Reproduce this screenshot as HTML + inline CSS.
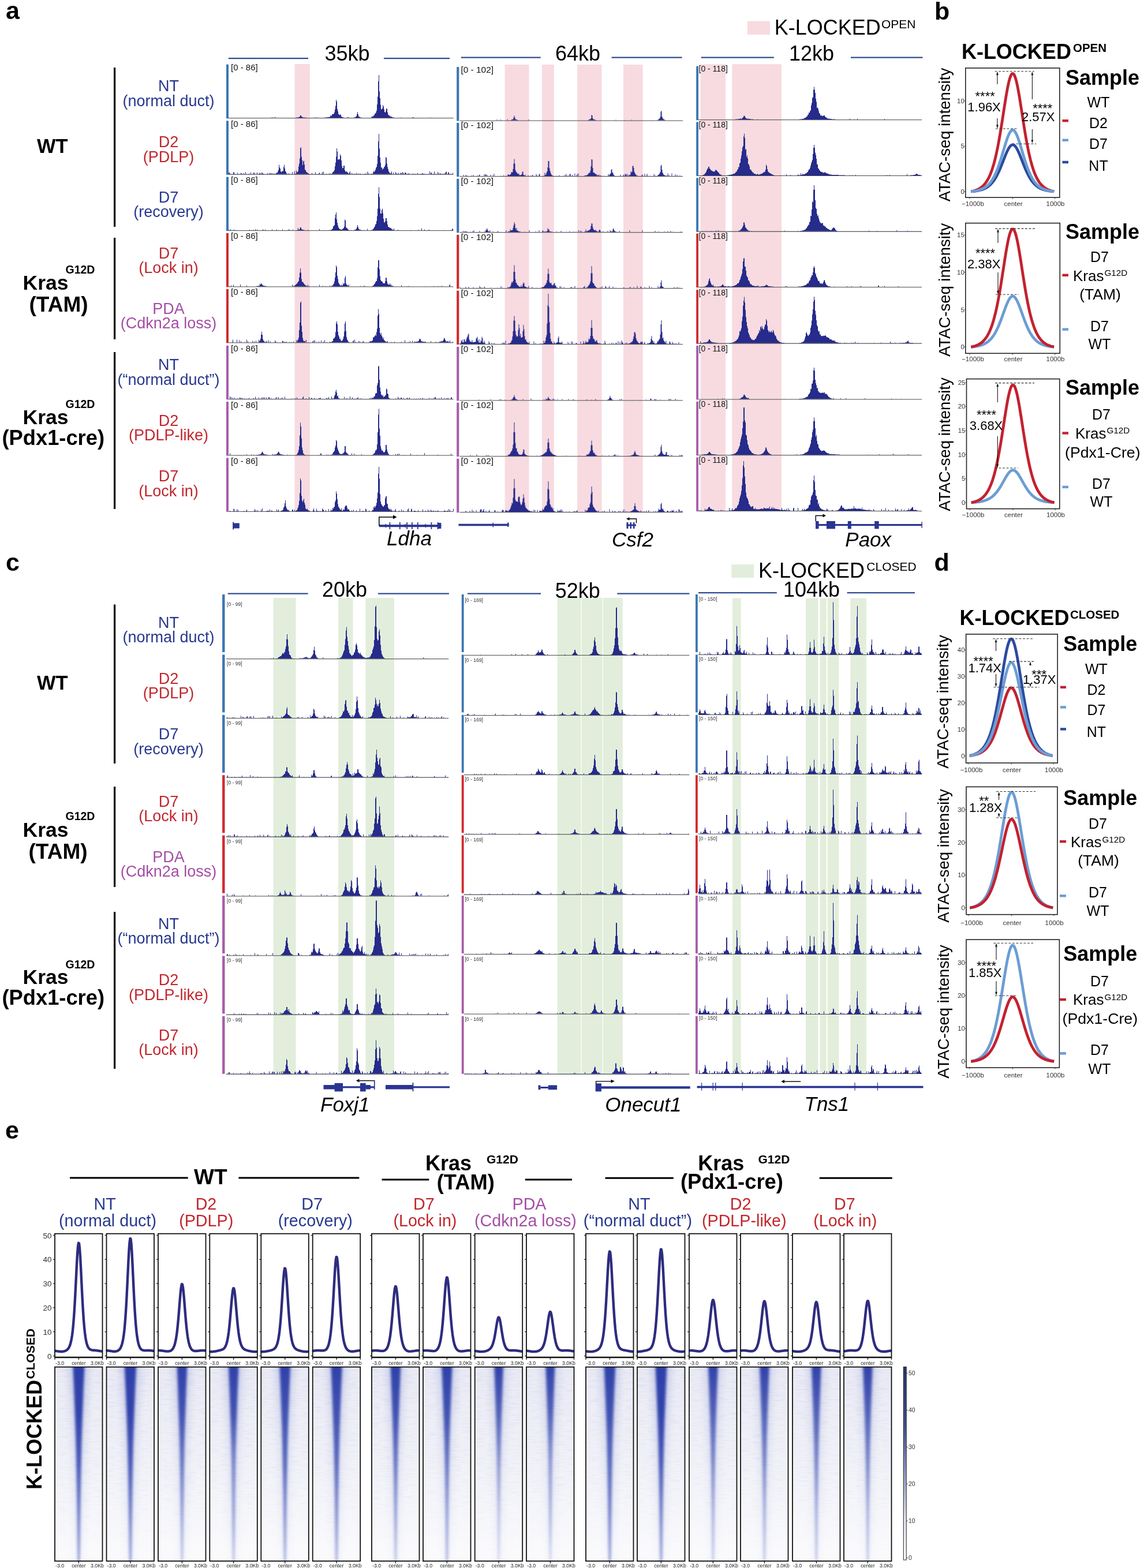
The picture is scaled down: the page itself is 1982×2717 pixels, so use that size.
<!DOCTYPE html>
<html><head><meta charset="utf-8"><title>K-LOCKED figure</title>
<style>html,body{margin:0;padding:0;background:#fff;}svg{display:block;}text{font-family:"Liberation Sans",Arial,Helvetica,sans-serif;}</style></head><body>
<svg width="1982" height="2717" viewBox="0 0 1982 2717" font-family="'Liberation Sans', Arial, Helvetica, sans-serif">
<defs><filter id="bl6" x="-50%" y="-5%" width="200%" height="110%"><feGaussianBlur stdDeviation="6"/></filter><filter id="bl2" x="-50%" y="-5%" width="200%" height="110%"><feGaussianBlur stdDeviation="2.2"/></filter><linearGradient id="coreg" x1="0" y1="0" x2="0" y2="1"><stop offset="0" stop-color="#2e40a8" stop-opacity="1"/><stop offset="0.25" stop-color="#3244ab" stop-opacity="0.93"/><stop offset="0.5" stop-color="#3a4cb2" stop-opacity="0.75"/><stop offset="0.75" stop-color="#4456b8" stop-opacity="0.5"/><stop offset="1" stop-color="#5566c0" stop-opacity="0.3"/></linearGradient><linearGradient id="haloG" x1="0" y1="0" x2="0" y2="1"><stop offset="0" stop-color="#6a78cc" stop-opacity="0.35"/><stop offset="0.5" stop-color="#6a78cc" stop-opacity="0.15"/><stop offset="1" stop-color="#6a78cc" stop-opacity="0.04"/></linearGradient><linearGradient id="hazeG" x1="0" y1="0" x2="0" y2="1"><stop offset="0" stop-color="#e9eaf4" stop-opacity="1"/><stop offset="0.5" stop-color="#f1f2f8" stop-opacity="1"/><stop offset="1" stop-color="#fbfbfd" stop-opacity="1"/></linearGradient><filter id="noiseF" x="0" y="0" width="100%" height="100%" filterUnits="objectBoundingBox"><feTurbulence type="fractalNoise" baseFrequency="0.05 0.45" numOctaves="2" seed="7"/><feColorMatrix type="matrix" values="0 0 0 0 0.55  0 0 0 0 0.58  0 0 0 0 0.78  0 0 0 1.6 -0.78"/></filter><linearGradient id="nmaskG" x1="0" y1="0" x2="0" y2="1"><stop offset="0" stop-color="#fff"/><stop offset="0.55" stop-color="#999"/><stop offset="1" stop-color="#000"/></linearGradient><mask id="nmask" maskContentUnits="objectBoundingBox"><rect width="1" height="1" fill="url(#nmaskG)"/></mask><linearGradient id="cbar" x1="0" y1="0" x2="0" y2="1"><stop offset="0" stop-color="#233570"/><stop offset="0.3" stop-color="#3f4f8c"/><stop offset="0.55" stop-color="#9299c4"/><stop offset="0.78" stop-color="#e2e4f0"/><stop offset="1" stop-color="#ffffff"/></linearGradient><clipPath id="hc0"><rect x="95" y="2368.7" width="82.5" height="336.3"/></clipPath><linearGradient id="cg0" x1="0" y1="0" x2="0" y2="1"><stop offset="0" stop-color="#2e40a8" stop-opacity="1"/><stop offset="0.25" stop-color="#3244ab" stop-opacity="1"/><stop offset="0.5" stop-color="#3a4cb2" stop-opacity="0.9"/><stop offset="0.75" stop-color="#4456b8" stop-opacity="0.7"/><stop offset="1" stop-color="#5566c0" stop-opacity="0.5"/></linearGradient><clipPath id="hc1"><rect x="184.5" y="2368.7" width="82.5" height="336.3"/></clipPath><linearGradient id="cg1" x1="0" y1="0" x2="0" y2="1"><stop offset="0" stop-color="#2e40a8" stop-opacity="1"/><stop offset="0.25" stop-color="#3244ab" stop-opacity="1"/><stop offset="0.5" stop-color="#3a4cb2" stop-opacity="0.9"/><stop offset="0.75" stop-color="#4456b8" stop-opacity="0.7"/><stop offset="1" stop-color="#5566c0" stop-opacity="0.5"/></linearGradient><clipPath id="hc2"><rect x="274" y="2368.7" width="82.5" height="336.3"/></clipPath><linearGradient id="cg2" x1="0" y1="0" x2="0" y2="1"><stop offset="0" stop-color="#2e40a8" stop-opacity="1"/><stop offset="0.25" stop-color="#3244ab" stop-opacity="0.9"/><stop offset="0.5" stop-color="#3a4cb2" stop-opacity="0.7"/><stop offset="0.75" stop-color="#4456b8" stop-opacity="0.5"/><stop offset="1" stop-color="#5566c0" stop-opacity="0.3"/></linearGradient><clipPath id="hc3"><rect x="363.3" y="2368.7" width="82.5" height="336.3"/></clipPath><linearGradient id="cg3" x1="0" y1="0" x2="0" y2="1"><stop offset="0" stop-color="#2e40a8" stop-opacity="1"/><stop offset="0.25" stop-color="#3244ab" stop-opacity="0.9"/><stop offset="0.5" stop-color="#3a4cb2" stop-opacity="0.6"/><stop offset="0.75" stop-color="#4456b8" stop-opacity="0.5"/><stop offset="1" stop-color="#5566c0" stop-opacity="0.3"/></linearGradient><clipPath id="hc4"><rect x="452.3" y="2368.7" width="82.5" height="336.3"/></clipPath><linearGradient id="cg4" x1="0" y1="0" x2="0" y2="1"><stop offset="0" stop-color="#2e40a8" stop-opacity="1"/><stop offset="0.25" stop-color="#3244ab" stop-opacity="0.9"/><stop offset="0.5" stop-color="#3a4cb2" stop-opacity="0.8"/><stop offset="0.75" stop-color="#4456b8" stop-opacity="0.6"/><stop offset="1" stop-color="#5566c0" stop-opacity="0.4"/></linearGradient><clipPath id="hc5"><rect x="541.7" y="2368.7" width="82.5" height="336.3"/></clipPath><linearGradient id="cg5" x1="0" y1="0" x2="0" y2="1"><stop offset="0" stop-color="#2e40a8" stop-opacity="1"/><stop offset="0.25" stop-color="#3244ab" stop-opacity="0.9"/><stop offset="0.5" stop-color="#3a4cb2" stop-opacity="0.8"/><stop offset="0.75" stop-color="#4456b8" stop-opacity="0.6"/><stop offset="1" stop-color="#5566c0" stop-opacity="0.4"/></linearGradient><clipPath id="hc6"><rect x="644" y="2368.7" width="82.5" height="336.3"/></clipPath><linearGradient id="cg6" x1="0" y1="0" x2="0" y2="1"><stop offset="0" stop-color="#2e40a8" stop-opacity="1"/><stop offset="0.25" stop-color="#3244ab" stop-opacity="0.9"/><stop offset="0.5" stop-color="#3a4cb2" stop-opacity="0.7"/><stop offset="0.75" stop-color="#4456b8" stop-opacity="0.5"/><stop offset="1" stop-color="#5566c0" stop-opacity="0.3"/></linearGradient><clipPath id="hc7"><rect x="733" y="2368.7" width="82.5" height="336.3"/></clipPath><linearGradient id="cg7" x1="0" y1="0" x2="0" y2="1"><stop offset="0" stop-color="#2e40a8" stop-opacity="1"/><stop offset="0.25" stop-color="#3244ab" stop-opacity="0.9"/><stop offset="0.5" stop-color="#3a4cb2" stop-opacity="0.7"/><stop offset="0.75" stop-color="#4456b8" stop-opacity="0.5"/><stop offset="1" stop-color="#5566c0" stop-opacity="0.4"/></linearGradient><clipPath id="hc8"><rect x="822.7" y="2368.7" width="82.5" height="336.3"/></clipPath><linearGradient id="cg8" x1="0" y1="0" x2="0" y2="1"><stop offset="0" stop-color="#2e40a8" stop-opacity="1"/><stop offset="0.25" stop-color="#3244ab" stop-opacity="0.8"/><stop offset="0.5" stop-color="#3a4cb2" stop-opacity="0.5"/><stop offset="0.75" stop-color="#4456b8" stop-opacity="0.3"/><stop offset="1" stop-color="#5566c0" stop-opacity="0.2"/></linearGradient><clipPath id="hc9"><rect x="912" y="2368.7" width="82.5" height="336.3"/></clipPath><linearGradient id="cg9" x1="0" y1="0" x2="0" y2="1"><stop offset="0" stop-color="#2e40a8" stop-opacity="1"/><stop offset="0.25" stop-color="#3244ab" stop-opacity="0.8"/><stop offset="0.5" stop-color="#3a4cb2" stop-opacity="0.5"/><stop offset="0.75" stop-color="#4456b8" stop-opacity="0.4"/><stop offset="1" stop-color="#5566c0" stop-opacity="0.2"/></linearGradient><clipPath id="hc10"><rect x="1015" y="2368.7" width="82.5" height="336.3"/></clipPath><linearGradient id="cg10" x1="0" y1="0" x2="0" y2="1"><stop offset="0" stop-color="#2e40a8" stop-opacity="1"/><stop offset="0.25" stop-color="#3244ab" stop-opacity="0.9"/><stop offset="0.5" stop-color="#3a4cb2" stop-opacity="0.8"/><stop offset="0.75" stop-color="#4456b8" stop-opacity="0.7"/><stop offset="1" stop-color="#5566c0" stop-opacity="0.5"/></linearGradient><clipPath id="hc11"><rect x="1104" y="2368.7" width="82.5" height="336.3"/></clipPath><linearGradient id="cg11" x1="0" y1="0" x2="0" y2="1"><stop offset="0" stop-color="#2e40a8" stop-opacity="1"/><stop offset="0.25" stop-color="#3244ab" stop-opacity="1"/><stop offset="0.5" stop-color="#3a4cb2" stop-opacity="0.9"/><stop offset="0.75" stop-color="#4456b8" stop-opacity="0.7"/><stop offset="1" stop-color="#5566c0" stop-opacity="0.5"/></linearGradient><clipPath id="hc12"><rect x="1194" y="2368.7" width="82.5" height="336.3"/></clipPath><linearGradient id="cg12" x1="0" y1="0" x2="0" y2="1"><stop offset="0" stop-color="#2e40a8" stop-opacity="1"/><stop offset="0.25" stop-color="#3244ab" stop-opacity="0.8"/><stop offset="0.5" stop-color="#3a4cb2" stop-opacity="0.6"/><stop offset="0.75" stop-color="#4456b8" stop-opacity="0.4"/><stop offset="1" stop-color="#5566c0" stop-opacity="0.3"/></linearGradient><clipPath id="hc13"><rect x="1283" y="2368.7" width="82.5" height="336.3"/></clipPath><linearGradient id="cg13" x1="0" y1="0" x2="0" y2="1"><stop offset="0" stop-color="#2e40a8" stop-opacity="1"/><stop offset="0.25" stop-color="#3244ab" stop-opacity="0.8"/><stop offset="0.5" stop-color="#3a4cb2" stop-opacity="0.6"/><stop offset="0.75" stop-color="#4456b8" stop-opacity="0.4"/><stop offset="1" stop-color="#5566c0" stop-opacity="0.3"/></linearGradient><clipPath id="hc14"><rect x="1373" y="2368.7" width="82.5" height="336.3"/></clipPath><linearGradient id="cg14" x1="0" y1="0" x2="0" y2="1"><stop offset="0" stop-color="#2e40a8" stop-opacity="1"/><stop offset="0.25" stop-color="#3244ab" stop-opacity="0.8"/><stop offset="0.5" stop-color="#3a4cb2" stop-opacity="0.6"/><stop offset="0.75" stop-color="#4456b8" stop-opacity="0.4"/><stop offset="1" stop-color="#5566c0" stop-opacity="0.3"/></linearGradient><clipPath id="hc15"><rect x="1462" y="2368.7" width="82.5" height="336.3"/></clipPath><linearGradient id="cg15" x1="0" y1="0" x2="0" y2="1"><stop offset="0" stop-color="#2e40a8" stop-opacity="1"/><stop offset="0.25" stop-color="#3244ab" stop-opacity="0.8"/><stop offset="0.5" stop-color="#3a4cb2" stop-opacity="0.6"/><stop offset="0.75" stop-color="#4456b8" stop-opacity="0.4"/><stop offset="1" stop-color="#5566c0" stop-opacity="0.3"/></linearGradient></defs>
<rect width="1982" height="2717" fill="#fff"/>
<text x="10" y="33.2" font-size="43" font-weight="bold">a</text>
<rect x="1295" y="36.6" width="39" height="23.4" fill="#f7dbe0"/>
<text x="1341.8" y="60" font-size="36">K-LOCKED</text>
<text x="1527" y="48.5" font-size="21">OPEN</text>
<rect x="510.4" y="111" width="26.5" height="775" fill="#f7dbe0"/>
<rect x="874.6" y="112" width="41.9" height="775.5" fill="#f7dbe0"/>
<rect x="939" y="112" width="20.8" height="775.5" fill="#f7dbe0"/>
<rect x="1000.2" y="112" width="42.4" height="775.5" fill="#f7dbe0"/>
<rect x="1080" y="112" width="33.8" height="775.5" fill="#f7dbe0"/>
<rect x="1213.7" y="111.2" width="43.4" height="774.3" fill="#f7dbe0"/>
<rect x="1268.3" y="111.2" width="85.6" height="774.3" fill="#f7dbe0"/>
<line x1="395.8" y1="101.2" x2="534" y2="101.2" stroke="#2f4c8e" stroke-width="2.2"/>
<line x1="665" y1="101.2" x2="779" y2="101.2" stroke="#2f4c8e" stroke-width="2.2"/>
<text x="562.5" y="104.5" font-size="36">35kb</text>
<line x1="798.8" y1="99.6" x2="936.6" y2="99.6" stroke="#2f4c8e" stroke-width="2.2"/>
<line x1="1059.6" y1="99.6" x2="1181.6" y2="99.6" stroke="#2f4c8e" stroke-width="2.2"/>
<text x="962" y="105.2" font-size="36">64kb</text>
<line x1="1214.7" y1="99.6" x2="1340.8" y2="99.6" stroke="#2f4c8e" stroke-width="2.2"/>
<line x1="1474" y1="99.6" x2="1598.5" y2="99.6" stroke="#2f4c8e" stroke-width="2.2"/>
<text x="1367" y="105" font-size="36">12kb</text>
<path d="M396 204.2V204.2V204h75V203h1V204h4V202.5h1V204h36V203.5h4V203h1V202.5h1V202h1V200h2V202h1V202.5h1V203h1V203.5h4V204h1V203.5h1V204h12V203.5h1V204h3V203h1V204h2V203.5h1V204h11V203.5h5V203h4V202.5h1V200h1V201h1V200.5h1V198h1V197.5h1V198h1V197h1V194.5h1V189.5h1V183.5h1V173h1V176h1V189h1V193h1V197.5h1V198.5h1V199.5h1V198.5h2V202h1V202.5h1V203h1V203.5h2V204h6V202.5h1V203.5h1V204h9V203.5h2V203h1V202h1V201.5h1V198h1V194h1V198h1V202h2V203h1V203.5h2V204h17V203.5h1V201h1V202.5h1V201.5h1V200h1V199.5h1V197h1V196.5h1V195h1V191.5h1V181h1V167.5h1V141h1V130h1V158.5h1V170h1V181.5h1V189.5h1V189h1V187.5h1V182h1V184.5h1V189.5h1V194h1V195h1V192.5h1V188h1V188.5h1V194.5h1V198.5h1V199.5h1V200h1V201.5h2V202h1V202.5h1V203h1V203.5h1V203h1V204h12V203.5h1V204h20V202.5h1V203.5h1V204h28V203.5h1V204h40V204.2Z" fill="#262b8c" stroke="none" stroke-width="1"/>
<line x1="396" y1="204.7" x2="785.5" y2="204.7" stroke="#4a4a4a" stroke-width="1"/>
<path d="M396 301.8V301.8V299.5h1V298.5h1V301h1V302h5V298.5h2V302h5V299.5h1V302h5V299.5h1V300.5h1V302h3V300h1V302h2V298h1V302h5V301h1V302h2V298.5h1V302h4V299.5h1V299h1V302h4V298.5h1V302h3V300.5h1V299h1V301h1V302h1V299h1V299.5h1V301h2V302h6V300h1V302h2V299.5h1V302h1V300.5h1V299.5h1V301h1V302h1V300h1V302h2V300.5h1V301.5h1V301h1V299.5h1V300h1V299h1V297h1V294.5h1V285.5h1V290h1V292h1V297h1V298.5h1V296.5h3V289.5h1V285.5h1V292h1V296.5h1V298h1V300.5h1V301h1V302h2V300h1V302h5V298h1V302h3V296.5h1V301h2V295.5h1V298.5h1V298h1V296.5h1V288.5h1V283.5h1V274.5h1V256.5h1V255.5h1V271.5h1V277.5h1V286h1V279.5h1V278.5h1V285h1V294h1V295h1V297.5h1V298.5h1V299h1V300h1V300.5h1V301h1V301.5h1V302h3V299.5h1V302h5V298.5h1V302h5V300.5h1V299h1V302h3V301h1V298h1V302h1V297.5h1V302h4V301h1V302h4V300.5h1V302h1V300.5h1V301.5h1V301h1V300.5h1V298.5h1V297.5h1V297h1V294.5h1V288h1V281.5h1V271.5h1V257h1V262.5h1V276.5h2V276h2V267.5h1V270h1V278h1V287.5h1V291.5h1V291h1V287h2V295h1V297h1V298h1V296.5h1V298.5h2V300.5h2V299h1V297h1V301.5h1V302h1V300h1V302h1V301h1V302h2V301h1V302h2V299.5h1V302h2V300.5h1V302h2V301h2V302h7V301h1V300.5h1V302h2V297.5h1V302h1V299.5h1V302h4V300.5h1V301.5h1V301h1V299h1V296h1V298h1V296.5h1V294h1V291h1V289h1V284h1V270h1V245h1V232h1V257.5h1V273h1V282h1V290h1V290.5h1V294h1V291.5h1V292.5h1V289.5h1V288.5h1V285.5h1V272h1V273.5h1V283.5h1V289.5h1V293h1V297h1V298.5h1V300h1V300.5h1V300h1V297h1V301.5h1V302h1V299h1V302h3V298h1V300h1V302h1V300.5h1V302h1V299.5h1V302h2V301h1V299h1V300h1V302h1V298.5h1V299h1V302h2V299h2V300h1V302h2V300.5h1V302h1V300h1V302h6V300.5h1V302h3V301h1V302h3V299.5h1V302h5V301h1V302h1V300h1V300.5h1V302h1V300.5h1V302h9V297h1V302h1V299.5h1V299h1V302h2V301h1V302h1V297h1V302h1V301h1V302h3V298h1V302h1V299.5h1V302h1V301h1V300h1V302h2V301h1V302h2V300.5h1V302h1V300h1V298h1V297.5h1V302h2V298.5h1V299h1V302h1V301h1V302h4V299.5h1V302h1V301.8Z" fill="#262b8c" stroke="none" stroke-width="1"/>
<line x1="396" y1="302.3" x2="785.5" y2="302.3" stroke="#4a4a4a" stroke-width="1"/>
<path d="M396 399.1V399.1V398.5h2V399h1V397h1V399h5V397.5h1V399h3V398.5h1V399h22V398h1V399h2V398.5h1V399h2V398.5h2V399h2V397h1V399h2V397.5h1V399h9V397.5h1V398.5h1V399h2V397.5h1V399h11V397.5h1V399h7V397.5h1V399h9V397.5h1V399h9V397.5h1V399h1V397.5h1V399h5V397.5h1V399h6V398.5h2V395h1V398h2V396.5h1V394h2V397h1V398h3V398.5h2V399h5V398h1V399h19V397h1V399h6V398.5h1V399h9V398.5h1V399h1V398.5h2V398h1V397h1V396h1V392h1V391.5h1V390h1V378h1V372h1V368h1V380h1V386h1V390.5h1V394h1V395.5h1V397h2V398h2V397.5h1V397h1V396h1V395h1V392.5h1V380.5h1V382h1V393.5h1V395h1V395.5h1V397h1V398h1V398.5h1V399h3V398.5h1V399h4V398.5h2V398h1V397.5h1V396.5h1V393.5h1V390h1V393.5h1V396.5h1V397.5h1V398h1V398.5h1V398h1V399h4V398.5h1V399h5V396.5h1V399h6V398.5h2V398h1V397h1V395.5h1V394h1V392h1V389h1V388h1V383h1V374.5h1V361.5h1V336h1V324.5h1V341.5h1V361.5h1V370h2V364h1V361.5h1V369.5h1V379h1V385h1V385.5h1V383h1V378h2V383.5h1V389h1V393h1V393.5h1V394h1V394.5h1V395.5h1V395h1V397h1V397.5h1V398h1V398.5h1V396h1V399h6V398h1V399h21V398.5h1V399h13V398h1V399h4V395.5h1V399h4V397.5h1V399h6V398.5h1V398h1V399h26V398.5h1V399h10V398.5h1V399h1V397h1V396h1V399h1V399.1Z" fill="#262b8c" stroke="none" stroke-width="1"/>
<line x1="396" y1="399.6" x2="785.5" y2="399.6" stroke="#4a4a4a" stroke-width="1"/>
<path d="M396 496.4V496.4V496.5h1V495.5h1V496.5h2V494.5h1V496.5h3V493.5h1V496.5h11V493h1V496.5h1V496h1V496.5h8V494.5h1V496.5h15V496h2V495.5h3V495h2V491.5h1V493h1V491.5h2V493.5h1V494.5h1V495h2V495.5h3V496h2V496.5h43V493h1V496h1V495.5h2V495h1V494h1V493h1V491.5h1V492h1V489.5h1V488.5h1V487h1V481h1V472.5h1V465h1V472.5h1V483.5h1V488.5h2V489.5h1V491.5h1V492.5h1V493.5h1V494.5h1V495h1V495.5h2V493.5h1V496.5h1V495.5h1V496.5h7V496h1V496.5h3V496h1V496.5h5V493.5h1V496.5h5V495h1V496.5h4V495.5h1V496.5h2V496h1V496.5h3V494.5h1V496.5h1V496h1V495.5h1V495h1V494.5h1V492.5h1V491.5h1V487.5h1V481h1V472h1V460h1V463h1V478h1V483.5h1V489.5h1V491.5h1V493h1V494.5h1V495h1V493h1V495h1V494.5h1V490.5h1V492.5h1V491h1V481.5h1V478h1V491h1V493h1V494h1V494.5h1V495.5h1V493h1V496.5h19V495.5h1V496.5h5V495h1V496.5h1V495.5h1V496.5h11V496h1V495.5h1V495h1V494h1V492h1V491.5h1V489h1V487h2V482h1V463.5h1V451h2V466.5h1V478.5h1V485h1V487h1V487.5h1V488h1V490.5h1V491h3V487.5h1V481h1V481.5h1V487.5h1V491.5h1V493h2V493.5h1V491h1V494.5h1V492.5h1V495h1V495.5h1V495h1V496h1V496.5h13V494h1V496.5h8V496h1V496.5h2V495.5h1V496.5h1V496h1V496.5h26V496h1V496.5h14V495.5h1V496.5h6V495.5h1V496.5h2V496h1V496.5h3V495h1V496.5h12V494.5h1V493h1V496.5h6V496.4Z" fill="#262b8c" stroke="none" stroke-width="1"/>
<line x1="396" y1="496.9" x2="785.5" y2="496.9" stroke="#4a4a4a" stroke-width="1"/>
<path d="M396 593.4V593.4V593.5h6V592.5h1V588.5h1V593.5h6V588.5h1V593.5h3V589.5h1V593.5h2V591h1V593.5h6V592.5h1V593.5h2V588.5h1V593.5h1V591.5h1V593.5h7V590.5h1V593.5h2V591.5h1V593.5h2V590.5h1V593.5h3V593h1V589h1V591.5h1V590h1V587h1V580h1V574.5h1V580h1V587.5h1V590h1V591.5h1V592.5h1V592h1V593.5h1V592h1V590.5h1V593.5h2V589.5h1V593.5h2V591.5h1V593.5h7V590h1V592h1V593.5h1V592.5h1V593.5h9V590.5h1V591h1V593.5h1V592.5h3V593.5h1V592h1V593.5h4V592.5h1V593.5h2V592.5h1V593.5h3V591.5h1V593.5h4V589.5h1V592.5h1V589h2V585h1V572h1V559h1V524.5h1V522.5h1V564.5h1V575h1V585.5h1V589.5h1V591.5h1V591h1V590.5h1V593.5h1V589h1V593.5h10V591.5h1V592.5h1V590h1V593.5h1V589.5h1V593.5h2V592.5h1V593.5h3V591.5h1V593.5h3V590h1V593.5h3V592h1V593.5h1V589.5h1V593.5h3V592.5h1V593.5h4V592h1V593h1V592.5h2V591.5h1V591h1V587h1V586.5h1V585.5h1V583.5h1V575.5h1V560h1V556.5h1V562h1V575h1V581h1V583.5h1V587.5h1V586.5h1V590h1V591h1V590.5h1V589.5h1V587h1V583h1V574.5h1V560.5h1V556.5h1V573.5h1V584h1V588h1V590h1V592h1V592.5h1V593h1V593.5h5V591h1V590h1V593.5h1V588.5h1V593.5h1V592.5h1V593.5h4V591h1V593.5h1V591.5h1V593.5h4V592h1V591h1V593.5h9V593h1V592h1V591h1V591.5h2V590.5h1V590h1V584.5h2V583.5h1V582h1V580h1V582h1V575.5h1V569.5h1V547h1V535.5h1V544h1V568h1V577h1V580h1V577h1V582h1V584h1V587.5h1V585h1V589h1V590.5h1V591h1V592h1V592.5h2V591h1V593.5h6V592.5h1V593.5h4V592h1V593.5h11V592h1V593.5h5V589.5h1V593.5h5V592.5h1V593.5h2V591h1V593.5h3V590.5h1V593.5h2V593h1V591.5h1V592.5h2V592h3V591.5h1V590.5h1V588h1V586.5h1V588h1V590.5h1V591.5h2V592h2V592.5h1V592h1V592.5h1V592h1V593.5h8V591h1V593.5h7V592.5h2V593.5h2V593h2V592.5h2V592h2V590.5h1V592h1V591h1V590.5h1V588.5h1V585.5h1V586.5h1V589h1V591.5h5V592.5h2V590h1V593h1V593.5h3V592h1V593.5h1V593.4Z" fill="#262b8c" stroke="none" stroke-width="1"/>
<line x1="396" y1="593.9" x2="785.5" y2="593.9" stroke="#4a4a4a" stroke-width="1"/>
<path d="M396 691.3V691.3V691.5h2V687h1V691.5h1V688h1V691.5h2V689h1V691.5h2V689h1V691.5h2V690.5h1V691.5h1V690.5h2V691.5h2V688.5h1V689.5h1V691.5h1V690h1V689.5h1V691.5h2V690.5h2V691.5h2V690.5h1V691.5h3V690h1V691.5h1V690h1V691.5h5V690.5h1V690h1V691.5h2V687.5h1V690.5h1V691.5h4V688.5h1V691.5h3V689.5h1V691.5h1V688.5h1V691.5h1V688.5h1V691.5h1V688.5h1V691.5h2V688.5h1V691.5h3V688.5h1V688h1V691.5h2V689.5h1V691.5h7V689h1V691.5h1V688h1V691.5h2V688h1V691.5h2V690.5h1V691.5h1V689.5h1V691.5h1V689h1V691.5h3V687.5h1V691.5h11V690.5h1V691.5h5V689.5h1V691.5h2V688.5h1V691.5h9V689h1V687h1V691.5h4V690.5h1V691.5h4V688h1V691.5h3V689.5h1V690h1V691.5h3V690h1V690.5h1V691.5h6V689.5h1V690h1V690.5h1V689h1V691.5h9V690h1V689.5h1V691.5h1V690.5h1V688h1V691.5h4V687h1V690h1V691h1V690.5h1V689.5h1V686h1V684h1V678.5h1V675.5h1V680.5h1V686.5h1V685.5h1V690h1V689.5h1V691.5h8V687.5h1V691.5h3V690h1V690.5h1V691.5h4V687h1V691.5h3V688.5h1V691.5h3V690.5h1V691.5h3V689h1V690.5h1V688.5h1V691.5h4V690h1V691.5h14V690h1V691.5h1V689.5h1V691.5h1V689h1V689.5h1V690h1V687.5h2V686h1V682h1V681.5h1V681h1V668h1V664h1V634.5h2V658h1V671.5h1V678.5h1V683.5h1V684.5h1V686h1V684.5h1V688.5h1V687h2V685.5h1V684h1V673.5h1V674.5h1V682h1V683h1V689h1V690h1V690.5h1V691.5h9V690h1V691.5h3V687.5h1V690.5h1V690h1V691.5h2V689h2V691.5h3V689.5h1V691.5h4V690.5h1V689h1V690.5h1V691.5h1V690.5h1V689h1V691.5h7V690.5h1V691.5h3V690.5h1V691.5h3V690.5h1V691.5h2V690h1V691.5h2V690.5h1V689.5h1V691.5h10V689.5h1V691.5h4V690.5h1V691.5h2V689.5h1V691.5h1V688h1V688.5h1V691.5h1V690.5h1V691.5h3V689.5h1V691.5h3V688.5h1V691.5h4V690h1V691.5h3V690h1V691.5h1V690h2V691.5h4V689h1V688h1V691.5h3V691.3Z" fill="#262b8c" stroke="none" stroke-width="1"/>
<line x1="396" y1="691.8" x2="785.5" y2="691.8" stroke="#4a4a4a" stroke-width="1"/>
<path d="M396 788.6V788.6V788.5h2V785.5h1V788.5h11V788h1V788.5h4V788h1V788.5h2V788h1V788.5h3V788h1V788.5h4V787h1V788.5h7V787.5h1V788.5h3V787.5h1V788.5h4V788h3V787.5h3V787h2V786h1V784h1V782.5h1V784h1V786h1V787h2V787.5h3V788h3V788.5h7V786.5h1V788h2V787.5h3V787h2V785.5h1V784.5h1V782.5h1V783.5h1V786h1V786.5h1V787h1V787.5h3V788h3V788.5h4V787.5h1V788.5h3V788h1V788.5h10V788h2V787h1V785.5h1V783.5h1V779.5h1V773h1V754.5h1V732.5h1V739h1V759.5h1V775.5h1V780.5h1V785.5h1V786.5h1V787.5h1V788h1V788.5h23V788h1V788.5h2V785.5h1V786h1V788.5h8V787.5h1V788.5h2V787.5h1V788.5h3V788h2V787.5h2V786h1V783.5h1V783h1V781h1V775.5h1V772h1V762.5h1V764.5h1V775.5h1V779h1V781.5h1V784h1V786h1V786.5h1V787h2V786h1V786.5h1V785.5h1V784.5h1V783h1V773h2V783.5h1V784.5h1V785.5h1V786.5h1V787.5h1V788h1V788.5h2V788h1V788.5h1V785.5h1V788.5h3V786h1V788.5h3V788h1V788.5h8V787h1V788.5h17V788h2V787h1V786.5h1V785.5h1V784h1V780.5h2V778.5h1V770h1V749h1V718.5h1V708.5h1V742.5h1V755h1V773h1V777.5h1V781h1V780.5h1V781.5h1V783.5h1V784h1V783h1V780.5h1V771h2V779h1V783h1V785.5h1V787h1V788h1V788.5h10V786.5h1V788.5h2V787h2V788.5h1V786h1V788.5h7V788h1V788.5h11V786h1V788.5h10V788h1V788.5h12V785h1V788.5h22V787.5h1V788.5h22V786h1V788.5h4V788.6Z" fill="#262b8c" stroke="none" stroke-width="1"/>
<line x1="396" y1="789.1" x2="785.5" y2="789.1" stroke="#4a4a4a" stroke-width="1"/>
<path d="M396 885.9V885.9V886h2V885h1V886h5V881.5h1V886h1V882h1V886h3V882.5h1V886h1V883.5h1V886h9V885h1V886h3V885h1V883h1V886h12V885h1V882h1V886h1V884h1V886h2V884h1V886h5V883h1V886h1V881h1V886h6V885h1V886h1V885h3V886h1V882.5h1V886h2V884.5h1V885h1V886h7V882.5h1V886h1V885h1V883h1V886h3V885.5h1V885h2V884h1V883h1V879.5h1V877.5h1V872h1V867h1V877.5h1V880.5h1V882.5h1V883.5h1V884.5h1V883.5h1V885.5h1V886h4V883h2V886h2V883h1V886h1V885h1V884.5h1V884h1V881.5h1V879h1V875h1V868h1V854.5h1V829h1V832.5h1V859h1V867h1V870h1V867h1V864h1V871h1V874.5h1V880.5h1V882.5h2V881.5h1V884h1V884.5h2V885.5h1V886h5V884h1V881h1V885h1V886h3V881.5h1V885h1V886h1V885h1V886h2V885h1V886h3V881h1V883.5h1V883h1V886h3V883.5h1V886h4V882h1V886h2V885.5h1V882.5h1V885h1V884h1V880h1V881.5h1V879h1V878h1V870h1V867h1V851.5h1V855.5h1V865h1V873.5h1V878h1V879.5h1V881h1V883.5h1V883h1V880.5h1V885h2V882h1V884h1V883h1V878.5h1V876.5h1V876h2V879.5h1V883h1V882h1V883h1V885h1V885.5h1V886h2V884h1V886h2V883h1V886h4V884h1V886h5V881.5h1V886h3V885h1V886h1V885h1V886h3V881.5h1V882.5h1V886h4V884.5h1V886h4V885.5h1V883h1V884h1V879h1V877h1V880h1V877.5h1V876h1V871.5h1V863.5h1V853.5h1V821h1V809h1V829.5h1V856h1V869h1V873h1V875h1V876.5h1V877.5h1V878h1V876h1V875h1V863.5h1V860.5h1V859.5h1V872.5h1V873.5h1V879.5h1V881.5h1V882.5h1V882h1V884.5h1V881.5h1V884.5h2V886h2V884.5h1V886h1V884.5h1V882h1V886h5V884.5h1V886h3V882.5h1V886h2V884h1V886h7V883h1V881h1V886h4V881.5h1V882.5h1V886h3V885h3V886h4V884h1V886h7V882.5h1V886h4V884.5h1V886h3V883h1V886h1V885h1V886h2V883h1V885h1V886h1V885h1V886h1V884.5h1V886h2V885h1V886h2V884.5h1V886h1V884.5h1V886h9V884.5h1V885h2V886h2V885h2V886h1V882h1V886h1V883.5h1V886h5V881.5h1V885.9Z" fill="#262b8c" stroke="none" stroke-width="1"/>
<line x1="396" y1="886.4" x2="785.5" y2="886.4" stroke="#4a4a4a" stroke-width="1"/>
<rect x="392" y="111.7" width="4" height="93.5" fill="#3b76b3"/>
<rect x="392" y="209.3" width="4" height="93.5" fill="#3b76b3"/>
<rect x="392" y="306.6" width="4" height="93.5" fill="#3b76b3"/>
<rect x="392" y="403.9" width="4" height="93.5" fill="#d02a2d"/>
<rect x="392" y="500.9" width="4" height="93.5" fill="#d02a2d"/>
<rect x="392" y="598.8" width="4" height="93.5" fill="#a65da9"/>
<rect x="392" y="696.1" width="4" height="93.5" fill="#a65da9"/>
<rect x="392" y="793.4" width="4" height="93.5" fill="#a65da9"/>
<path d="M796.5 208.6V208.6V208.5h38V208h1V208.5h2V208h1V208.5h22V207h1V208.5h5V207h1V208.5h1V208h1V208.5h9V206.5h1V208.5h5V208h1V207.5h1V207h2V206.5h1V203.5h1V200.5h1V203.5h1V206.5h1V207h2V207.5h1V208h1V208.5h18V207h1V208.5h102V208h1V207.5h1V207h1V206.5h2V205h1V199h1V200h1V205h1V206.5h1V207h2V207.5h1V208h1V208.5h34V207.5h1V208.5h14V208h1V208.5h11V207.5h1V208.5h36V208h1V208.5h7V208h1V207.5h1V207h1V206h1V205h1V202.5h1V193.5h1V192h1V202h1V204.5h1V205.5h1V207h2V208h1V208.5h30V208.6Z" fill="#262b8c" stroke="none" stroke-width="1"/>
<line x1="796.5" y1="209.1" x2="1183" y2="209.1" stroke="#4a4a4a" stroke-width="1"/>
<path d="M796.5 305.2V305.2V305h6V303h1V305h3V303h1V305h1V304h1V305h7V304h1V305h2V303h1V305h6V304h1V305h2V303.5h1V302.5h1V305h7V302h1V305h1V302h1V302.5h1V305h1V303h1V305h5V303h1V305h3V304h1V305h1V301h1V305h11V304.5h1V305h3V304.5h1V304h1V305h3V304.5h1V305h2V302h1V302.5h1V303.5h1V303h1V302.5h1V301.5h1V298h1V298.5h2V293h1V283.5h1V275.5h1V283.5h1V294.5h1V297.5h1V298.5h1V299.5h1V301.5h2V300.5h1V303.5h3V303h1V302h1V298h1V297h1V302.5h1V304h2V302.5h1V305h4V303.5h1V305h3V304h1V305h2V304h1V303h1V305h5V301.5h1V304h1V305h3V302.5h1V301h1V305h6V304.5h2V299.5h1V303.5h1V302h1V299h1V297h1V290h1V279h2V291.5h1V296h1V299.5h1V302h1V303.5h1V304h1V304.5h1V305h5V304.5h1V305h4V303.5h1V305h6V304.5h1V305h2V303h1V305h1V301.5h1V305h2V304h1V305h2V302h1V301h1V305h1V304.5h1V305h1V303h1V305h3V300.5h1V305h2V304h1V301.5h1V305h1V300.5h1V305h10V304h1V304.5h1V303.5h1V304h1V303.5h1V302.5h1V301.5h1V300.5h1V299h1V299.5h1V295.5h1V288h1V276h1V276.5h1V291h1V299h2V299.5h1V301h1V302h1V301h1V303.5h1V304h1V303h1V304.5h1V302.5h1V305h1V304h2V305h4V304.5h1V305h7V301.5h1V304.5h1V303h1V301.5h1V300.5h1V294.5h1V293h1V299h1V299.5h1V302.5h1V304h1V304.5h1V305h9V302.5h1V305h4V302.5h1V304.5h1V305h1V301h1V303h1V301.5h1V305h1V301.5h1V305h1V303.5h1V304.5h1V302.5h1V303h1V297h1V299h1V297.5h1V288h1V287h1V291h1V297.5h1V300h1V301.5h1V303h1V304h1V304.5h2V305h5V304.5h1V304h1V302h1V305h3V301h1V305h1V304.5h1V305h1V301h1V304.5h1V305h3V304.5h1V305h6V301.5h1V305h1V304h1V305h3V304.5h1V303.5h1V303h1V302h1V300h1V298h1V287.5h1V285.5h1V294h1V299h1V301h1V303h1V303.5h2V304.5h1V305h1V303.5h1V305h1V300.5h1V305h1V303h1V305h4V300.5h1V305h5V302h1V305h2V303h1V305h4V304h1V305h4V305.2Z" fill="#262b8c" stroke="none" stroke-width="1"/>
<line x1="796.5" y1="305.7" x2="1183" y2="305.7" stroke="#4a4a4a" stroke-width="1"/>
<path d="M796.5 402.3V402.3V402.5h4V401.5h1V402.5h1V400h1V402.5h1V401.5h1V400.5h1V401.5h1V401h1V402.5h1V401.5h1V402.5h4V401.5h1V402.5h3V400.5h1V402.5h1V399h1V402.5h9V400h1V402.5h7V401.5h2V401h1V397.5h1V398.5h1V395.5h1V398.5h1V400.5h1V401h1V401.5h1V399h1V402.5h4V401h1V402.5h7V401h2V402.5h13V399h1V402.5h2V401.5h1V401h3V397.5h1V399.5h1V399h2V398.5h1V395h1V390.5h1V385h1V388h1V395h1V398h1V395h1V399.5h2V400.5h1V401h2V401.5h2V402.5h6V401.5h1V402.5h7V399h1V402.5h10V401h1V402.5h5V399h1V402.5h5V399.5h1V400h1V402h1V401.5h1V401h1V401.5h2V401h1V400.5h1V395.5h1V398.5h1V397h1V400.5h1V401h1V401.5h4V402h1V402.5h5V401h1V402.5h7V400h1V402.5h8V401.5h1V402.5h5V400.5h1V402.5h5V401.5h1V402.5h1V401.5h1V402.5h2V401.5h1V402.5h3V399h1V402.5h2V399.5h1V402.5h1V400.5h1V401.5h1V402.5h4V401h1V401.5h1V397.5h1V401h1V400.5h2V399h1V399.5h1V399h1V397.5h1V397h1V391.5h1V387h1V387.5h1V393.5h1V397h1V398h1V399h1V399.5h1V398h1V400h1V400.5h1V401h1V401.5h2V398.5h1V398h1V399.5h1V402.5h1V401.5h1V402.5h2V400.5h1V402.5h4V401.5h1V402.5h2V400h1V402.5h3V399h1V400.5h1V401.5h1V401h2V397h1V395.5h1V398.5h1V400.5h1V401h1V401.5h2V402.5h4V400h1V402.5h17V399h1V402.5h21V399h1V402.5h21V400h1V402.5h5V401h1V402.5h9V401h1V402.5h5V400.5h1V402.5h4V400h1V402.5h3V401.5h1V402.5h13V401h1V402.5h2V402.3Z" fill="#262b8c" stroke="none" stroke-width="1"/>
<line x1="796.5" y1="402.8" x2="1183" y2="402.8" stroke="#4a4a4a" stroke-width="1"/>
<path d="M796.5 499.3V499.3V497.5h1V499.5h9V497h1V499.5h4V497h1V499.5h7V497.5h1V499.5h5V498.5h1V499.5h4V495.5h1V498.5h1V498h1V499.5h1V498.5h1V499.5h3V496.5h1V498.5h1V499.5h9V498.5h1V499.5h11V498.5h1V499.5h5V496h1V499.5h1V498.5h1V499.5h9V497h1V498.5h1V498h1V497.5h1V496.5h1V494.5h1V490.5h1V488h1V490h1V487h1V471h1V459.5h1V471h1V484h1V490h2V493h1V494h1V495h1V496h1V497h3V494h1V497h1V496.5h1V492h1V489.5h1V490.5h1V496h1V496.5h1V497h1V498h2V498.5h2V495.5h1V499.5h5V497h1V499.5h6V498.5h1V499.5h6V498.5h1V499.5h1V499h1V497h1V498h1V497.5h1V497h1V496h1V494h2V491.5h1V490h1V485.5h1V474.5h1V465.5h1V474.5h1V488.5h1V490.5h1V491h1V490h1V493.5h1V494.5h2V492.5h1V491.5h1V490h1V495h1V494.5h1V498h2V498.5h1V499.5h3V496h1V499.5h1V496.5h1V499.5h4V497.5h1V499.5h11V497.5h2V498.5h1V499.5h2V498.5h1V499.5h1V495.5h1V499.5h14V497.5h2V495.5h1V499.5h2V498.5h1V498h1V497.5h1V495.5h1V494.5h1V493.5h1V491h1V487.5h1V473.5h1V461h1V473.5h1V489.5h1V491h1V491.5h1V495h2V497h1V498h1V498.5h1V499.5h5V498h1V498.5h1V499.5h1V496h1V499.5h5V495.5h1V497h1V499.5h3V498h1V499.5h1V495.5h1V499.5h5V496.5h1V499.5h4V498.5h1V499.5h12V498.5h1V498h1V499.5h9V498.5h1V497h1V499.5h5V497.5h1V499.5h5V495.5h1V499.5h5V496.5h1V497.5h1V499.5h5V497.5h1V499.5h2V498.5h1V499.5h4V495.5h1V499.5h3V497.5h1V499.5h10V495.5h1V498.5h2V498h1V496h1V489.5h1V485.5h1V495.5h1V497h2V499.5h18V497.5h1V499.5h4V497.5h1V499.5h1V498.5h1V499.5h1V498.5h1V499.5h5V499.3Z" fill="#262b8c" stroke="none" stroke-width="1"/>
<line x1="796.5" y1="499.8" x2="1183" y2="499.8" stroke="#4a4a4a" stroke-width="1"/>
<path d="M796.5 596.1V596.1V595h2V590h1V592h1V588.5h1V593.5h1V593h1V587.5h1V588.5h1V592h2V588h1V585h1V583h1V580h1V578h1V588h1V590.5h1V592.5h1V591.5h1V593h1V589h1V592.5h1V593.5h1V592.5h1V593h1V592h1V592.5h1V587h1V585.5h1V583.5h1V590h1V593h1V588h1V593.5h1V594h1V590h1V591.5h1V583.5h1V586h1V593h1V594.5h1V590.5h1V593.5h1V596h6V591.5h1V594h1V596h3V594h1V596h3V594h1V596h12V595h1V596h1V594h1V596h1V593h1V595h1V596h1V590.5h1V596h4V594.5h1V595.5h1V595h1V594h1V593.5h1V591h1V589h1V583h1V574h1V555.5h1V547.5h1V555.5h1V573.5h1V580h1V582.5h1V583.5h1V582.5h1V572h1V562h1V568.5h1V582.5h1V578.5h1V585h2V584h1V574h1V563h1V570.5h1V582.5h1V588.5h1V588h1V591h1V592.5h1V593.5h1V594h1V595h1V592h1V596h7V591.5h1V596h2V594.5h1V596h7V594.5h1V596h2V595h1V596h1V595.5h1V590.5h1V594.5h1V593.5h1V590.5h1V584.5h1V580.5h1V560.5h1V529h1V509h1V532h1V558h1V577h1V587h1V591.5h2V594.5h1V595h1V595.5h1V592h1V594.5h1V595.5h1V595h1V593.5h2V593h1V586h1V583h1V593h1V594h1V594.5h1V592.5h1V594.5h1V592h1V596h9V592.5h1V596h1V595h1V596h3V591.5h1V596h1V592.5h1V596h5V594h1V594.5h1V596h6V592h1V596h3V595h1V591h1V594.5h1V596h1V593.5h1V590.5h1V593h1V593.5h1V593h1V592h1V586.5h1V589h1V587h1V582h1V568h1V554.5h1V568h1V582.5h1V586.5h1V587.5h1V588.5h1V591.5h1V592h1V590h1V589.5h1V593h1V594.5h1V595h1V595.5h1V594h1V596h1V595h1V596h4V595h1V596h1V590.5h1V594.5h1V596h6V595h1V596h3V593.5h1V596h2V594.5h1V596h3V594h1V594.5h1V596h2V591h1V596h2V592.5h1V596h2V590h1V592.5h1V594h1V596h3V594.5h1V596h1V593.5h1V596h1V594.5h1V596h1V595.5h2V594h1V595h1V593.5h1V592.5h2V591h1V587.5h1V583h1V576h1V575h1V578.5h1V586h1V589.5h1V591h1V592.5h1V594h1V594.5h1V595h2V592.5h1V592h1V593.5h1V591.5h1V596h2V594.5h1V592.5h1V596h4V594.5h1V595.5h1V595h1V594.5h1V594h1V592.5h1V587h1V582h1V589.5h1V590.5h1V594h1V591.5h1V595h1V595.5h2V595h2V591.5h1V592h1V590h1V588.5h1V587h1V579.5h1V562h1V555h1V575h1V586.5h1V585h1V590h1V591.5h1V592.5h1V594.5h1V590.5h1V595.5h1V596h1V595h1V596h2V591.5h1V592.5h1V595h1V596h2V592.5h1V595h1V596h1V595h1V596h2V594.5h1V596h4V593h1V596h6V596.1Z" fill="#262b8c" stroke="none" stroke-width="1"/>
<line x1="796.5" y1="596.6" x2="1183" y2="596.6" stroke="#4a4a4a" stroke-width="1"/>
<path d="M796.5 693.4V693.4V693.5h33V692.5h1V693.5h19V692h1V693.5h11V693h1V693.5h3V692h1V693.5h1V692h1V693.5h6V692.5h1V693.5h9V693h1V692.5h1V692h1V691.5h1V689h1V688h1V684.5h1V688h1V690.5h1V692h2V692.5h1V693h1V693.5h8V691.5h1V693.5h13V690.5h1V693.5h4V693h1V693.5h9V693h1V693.5h6V692.5h2V693.5h1V693h1V690.5h1V692h2V690h1V687.5h1V690h1V691.5h1V692h1V692.5h1V693h1V693.5h1V691.5h1V693.5h1V690.5h1V693.5h1V692h1V693.5h4V692h1V693.5h7V691.5h1V693.5h7V693h1V693.5h2V691.5h1V693.5h7V691.5h1V693.5h1V693h1V693.5h1V693h1V693.5h19V692h1V693.5h7V692.5h1V693.5h5V693h1V691.5h1V693.5h19V693h1V692.5h1V692h1V691.5h1V689h1V686h1V689h1V690h1V692h1V692.5h1V693h1V693.5h11V691.5h1V693.5h2V691h1V693.5h18V693h1V693.5h12V693h1V693.5h9V692.5h1V693.5h5V693h1V693.5h1V691h1V690.5h1V693.5h5V692h1V691.5h1V693.5h1V692h1V693.5h6V692.5h1V693.5h14V691h1V692.5h1V693.5h1V691h1V693.5h3V693h1V693.5h3V691h1V693.5h2V692.5h1V693.5h9V693.4Z" fill="#262b8c" stroke="none" stroke-width="1"/>
<line x1="796.5" y1="693.9" x2="1183" y2="693.9" stroke="#4a4a4a" stroke-width="1"/>
<path d="M796.5 790.2V790.2V790h18V788.5h1V790h3V789.5h1V790h6V787.5h1V790h16V788.5h1V790h2V788.5h1V790h32V789.5h2V787.5h1V788h1V787h1V785.5h1V783.5h1V782h1V780.5h1V777h1V770.5h1V749h1V732h1V749h1V767.5h1V777h1V776.5h1V782.5h1V783h1V786h1V787h1V788h4V787.5h1V787h1V783.5h1V778.5h1V779.5h1V786h1V787.5h1V788h1V789h2V789.5h1V790h2V789.5h1V790h12V789.5h1V790h5V789.5h2V789h1V788.5h1V788h1V787.5h1V786.5h1V785.5h2V783.5h1V784h1V782.5h1V778h1V767h1V760h1V767h1V777h1V781h1V783.5h2V785.5h1V786h1V787.5h2V788h1V788.5h1V789h1V789.5h2V790h16V789.5h1V790h22V789.5h1V790h10V789.5h2V787h1V788h1V787.5h1V786.5h1V785.5h1V783h1V781h1V771.5h1V763.5h1V771.5h1V780h1V783.5h1V785.5h1V784.5h1V787h1V788.5h2V789.5h2V790h7V789h1V790h4V789.5h1V790h6V789h1V790h6V789.5h1V790h1V788h1V787.5h1V790h1V787.5h1V790h3V789h1V790h17V789.5h1V790h2V789.5h2V789h1V788.5h2V788h1V786.5h1V784h1V781h1V784h1V787.5h1V788h1V788.5h2V789h1V789.5h2V790h3V789.5h1V790h20V789.5h1V790h1V787.5h1V790h3V789.5h1V789h1V788h1V787.5h1V786h1V784h1V774.5h1V770.5h1V782h1V785.5h1V786.5h1V787.5h1V788h2V787.5h1V783.5h1V783h1V788.5h1V789h1V788h1V789h1V790h3V788.5h1V789.5h1V790h1V789.5h1V790h11V788h1V790h2V788h1V789h1V790.2Z" fill="#262b8c" stroke="none" stroke-width="1"/>
<line x1="796.5" y1="790.7" x2="1183" y2="790.7" stroke="#4a4a4a" stroke-width="1"/>
<path d="M796.5 887.2V887.2V887h10V885h1V886.5h1V887h5V885h1V887h3V883h1V887h1V886h1V886.5h1V887h3V884h1V887h6V883.5h1V882.5h2V887h1V886h1V884h1V882h1V886h1V887h2V884.5h1V887h2V886.5h1V887h1V885.5h1V883.5h1V887h8V884h1V884.5h1V887h3V886h1V887h5V886.5h1V887h1V884.5h1V883h1V884h1V887h2V886.5h1V884h1V885h1V884h1V885.5h1V886h1V885.5h1V884h1V883h1V881.5h1V878.5h1V875.5h1V871h1V872.5h1V862.5h1V846.5h1V830h1V845.5h1V866h1V868.5h1V869h1V868.5h1V870h1V862h1V860h1V861h1V870h1V873.5h1V875.5h1V874h1V870h1V864h1V856.5h1V862.5h1V871h1V876.5h1V880h1V880.5h1V882h1V883h1V883.5h1V885h3V886h1V886.5h1V885h1V887h1V886h1V887h1V883h1V887h1V884h1V887h3V883.5h1V887h3V885h1V884.5h1V885.5h1V885h1V886h1V881.5h1V884h1V883h1V880h1V878h1V877h1V875h1V876h1V869h1V847h1V834h1V848.5h1V865h1V873.5h1V875.5h1V879h1V878.5h1V882h1V880h1V884.5h1V885.5h1V886h1V886.5h1V887h3V883.5h1V886h2V884.5h1V886h1V883h1V886h1V882.5h1V887h1V885h1V887h4V886.5h1V887h1V886.5h1V887h3V886h1V887h7V886h1V886.5h1V885.5h1V887h1V886.5h1V885.5h1V884h1V887h13V883h1V886.5h1V884.5h1V885h1V883.5h1V879.5h1V880h1V879h1V874h1V870.5h1V856h1V843h1V852.5h1V874.5h1V878h1V879.5h1V880.5h1V882.5h1V884h1V885h1V885.5h1V886.5h2V884.5h1V887h4V886.5h1V887h1V885.5h1V887h2V885h1V886.5h1V887h3V886.5h1V887h3V882.5h1V887h4V884.5h1V887h2V886.5h1V886h2V887h5V885h1V886.5h1V887h1V885.5h1V887h3V885h1V887h1V882.5h1V887h2V885.5h1V887h1V886.5h1V887h1V886.5h1V887h2V886.5h2V886h1V885.5h1V885h1V884.5h1V883h2V877h1V872h1V877h1V882.5h1V883.5h1V884.5h2V885.5h1V886h1V886.5h2V884.5h1V887h1V886h1V887h2V886h1V887h1V886h1V887h2V884.5h1V887h2V886.5h1V884h1V887h2V886.5h1V887h4V885.5h1V887h3V885h1V887h2V886.5h1V886h1V881.5h1V883.5h2V883h1V873.5h1V871.5h1V880.5h1V883h1V882h1V885h1V886h1V886.5h1V887h3V885h2V886h1V887h2V885.5h1V886h1V887h1V884h1V885h1V885.5h1V883.5h1V887h1V886.5h1V887h1V886.5h1V885h1V887h3V882.5h1V883h1V887h1V886h1V885h1V887h1V885h1V887.2Z" fill="#262b8c" stroke="none" stroke-width="1"/>
<line x1="796.5" y1="887.7" x2="1183" y2="887.7" stroke="#4a4a4a" stroke-width="1"/>
<rect x="791.2" y="116.1" width="4.1" height="93.5" fill="#3b76b3"/>
<rect x="791.2" y="212.7" width="4.1" height="93.5" fill="#3b76b3"/>
<rect x="791.2" y="309.8" width="4.1" height="93.5" fill="#3b76b3"/>
<rect x="791.2" y="406.8" width="4.1" height="93.5" fill="#d02a2d"/>
<rect x="791.2" y="503.6" width="4.1" height="93.5" fill="#d02a2d"/>
<rect x="791.2" y="600.9" width="4.1" height="93.5" fill="#a65da9"/>
<rect x="791.2" y="697.7" width="4.1" height="93.5" fill="#a65da9"/>
<rect x="791.2" y="794.7" width="4.1" height="93.5" fill="#a65da9"/>
<path d="M1210 207.2V207.2V207h64V206.5h5V206h3V205.5h2V206h1V205.5h1V204h1V203.5h1V201.5h1V200.5h1V201.5h1V203.5h1V205h1V205.5h2V206h1V205.5h1V206h3V206.5h5V207h7V206.5h1V207h72V206.5h4V206h3V205.5h1V204.5h2V204h1V203h1V202h1V201.5h1V199h1V198.5h1V195h1V195.5h1V192.5h1V191h1V182.5h1V178.5h1V169.5h1V168.5h1V155.5h1V150.5h1V155.5h1V161h1V171h1V176.5h1V187h1V186h1V188.5h1V192.5h1V196h1V197h1V199.5h1V200.5h1V200h1V201h2V200.5h1V200h2V202h1V203h1V203.5h1V204.5h1V205h1V205.5h3V206h4V206.5h6V207h25V205.5h1V207h7V206.5h1V207h4V205.5h1V207h46V206h1V207h64V207.2Z" fill="#262b8c" stroke="none" stroke-width="1"/>
<line x1="1210" y1="207.7" x2="1597" y2="207.7" stroke="#4a4a4a" stroke-width="1"/>
<path d="M1210 304V304h7V303.5h1V303h2V302h1V300.5h1V299.5h1V298h1V295h1V292.5h1V292h1V289h1V288.5h1V292h1V293h1V294.5h1V295.5h1V296h1V296.5h1V297h1V297.5h1V297h2V294.5h2V295h1V296.5h1V297.5h1V298.5h1V299.5h1V301.5h1V302h1V302.5h1V303h1V303.5h1V304h3V303.5h1V304h5V303.5h3V303h3V302.5h2V302h2V301h3V300h1V299h1V297h1V297.5h1V294h1V293.5h1V289.5h2V283h1V282h1V275h1V269.5h1V262h1V255.5h1V253h1V236.5h1V231.5h1V239h1V259.5h1V258h1V272h1V269h1V274.5h1V284h1V285h1V288h1V293h1V294.5h2V297h1V297.5h1V299.5h1V299h1V301h2V301.5h1V302h1V302.5h1V302h1V301h1V302.5h3V302h1V301.5h2V301h1V300.5h1V300h1V298.5h1V299h1V297.5h2V294h1V285.5h1V287.5h1V293h1V296.5h1V298.5h2V300h2V301h1V301.5h1V302h1V302.5h1V303h1V303.5h2V304h9V303.5h1V304h10V302h1V304h6V303h1V304h12V302h1V303.5h4V300h1V303h2V301h1V302.5h1V302h2V301.5h1V300.5h2V299.5h1V298.5h1V298h1V295.5h1V293.5h2V291h1V287h1V283h1V280h1V277h1V267h1V256h1V251h1V256h1V264.5h1V268.5h1V275h1V284.5h1V285h1V291.5h1V292.5h1V294.5h1V295.5h1V297h1V298h1V297.5h1V298h1V299h1V299.5h1V299h2V298.5h1V299h1V300h1V300.5h2V301h1V301.5h1V302h2V302.5h3V303h12V303.5h11V304h8V303.5h1V304h3V303.5h1V304h5V303h1V304h51V303.5h1V304h2V303.5h1V304h3V303h1V304h29V301.5h1V304h5V303.5h5V303h3V302.5h1V302h1V301h2V302h1V302.5h1V303h3V303.5h3V304Z" fill="#262b8c" stroke="none" stroke-width="1"/>
<line x1="1210" y1="304.5" x2="1597" y2="304.5" stroke="#4a4a4a" stroke-width="1"/>
<path d="M1210 400.8V400.8V401h22V400h1V401h7V399.5h1V401h3V399h1V401h33V400.5h1V400h1V399.5h2V398.5h1V398h1V396.5h1V395.5h1V393.5h1V391h1V385.5h2V389.5h1V394h1V395h1V396.5h1V398h1V398.5h1V399.5h2V400h1V400.5h1V401h2V400h1V401h56V399.5h1V401h22V400h1V401h1V400.5h2V400h3V399.5h2V399h2V398.5h1V398h1V397.5h1V395.5h2V393h1V392h1V389.5h2V385h1V384h1V374h1V374.5h1V363h1V349h1V350.5h1V329h1V321h1V328.5h1V347h1V360.5h1V362h1V370.5h1V374.5h1V373h1V378h1V381.5h1V385h1V385.5h1V387h2V386h1V387h1V391h1V390.5h1V392h1V392.5h1V393h1V395h2V396h1V397h2V398h2V398.5h1V399h1V398.5h1V397h1V395.5h1V395h1V393.5h1V395h1V396h1V398h1V399h1V400h2V400.5h1V401h53V399.5h1V401h13V400h1V401h1V400.5h1V401h31V399h1V401h18V399.5h1V401h24V400.8Z" fill="#262b8c" stroke="none" stroke-width="1"/>
<line x1="1210" y1="401.3" x2="1597" y2="401.3" stroke="#4a4a4a" stroke-width="1"/>
<path d="M1210 497.1V497.1V497h10V496.5h2V496h1V495h1V494.5h1V493.5h1V492h1V487.5h1V484h1V482h1V487h1V490h1V492.5h1V494h1V495h1V493h1V496h1V496.5h2V496h1V497h2V496.5h5V496h2V495.5h1V494.5h1V493h2V494.5h1V495.5h1V496h3V496.5h3V495.5h1V496.5h1V496h1V496.5h4V496h2V495.5h2V495h1V494.5h1V494h1V493.5h1V493h1V491h2V490.5h1V489h1V485.5h1V484h1V480h1V477.5h1V474h1V466h1V453h1V447.5h2V462h2V469h1V477.5h1V479.5h1V481h1V486h2V488h1V491.5h1V492.5h1V492h1V494h1V494.5h1V495h2V495.5h2V496h3V495h1V496.5h1V494.5h1V496.5h5V496h5V495.5h1V495h1V494.5h1V493.5h2V494.5h1V495h1V496h4V496.5h5V497h21V495.5h1V496.5h1V497h1V496.5h1V497h18V496.5h5V496h2V495.5h1V496h1V494.5h1V495h1V494.5h1V494h1V493.5h1V492.5h1V491.5h1V490.5h1V491h1V488h1V486h1V485.5h1V481.5h1V480h1V477h2V472h1V464h1V461h1V464h1V473h1V475.5h1V479.5h1V481h1V484h1V486.5h1V487h1V487.5h1V490.5h1V491.5h1V490.5h1V491.5h3V489h1V486h1V485h1V488.5h1V491.5h1V493h1V494h1V495h1V495.5h1V496h1V496.5h1V496h1V496.5h1V497h6V496.5h1V497h21V496h1V497h7V496h1V497h14V495.5h1V497h1V496.5h1V497h28V495.5h1V494.5h1V497h9V495.5h1V497h23V496h1V497h40V497.1Z" fill="#262b8c" stroke="none" stroke-width="1"/>
<line x1="1210" y1="497.6" x2="1597" y2="497.6" stroke="#4a4a4a" stroke-width="1"/>
<path d="M1210 594.7V594.7V594.5h3V591.5h1V594h4V593.5h2V593h1V593.5h1V593h3V592h2V590h1V588h2V590h1V591.5h1V592h1V593h3V593.5h4V594h4V594.5h20V594h4V593.5h2V593h1V592.5h1V592h1V591.5h1V591h1V589.5h2V587.5h1V587h1V584h1V581h1V573.5h1V575h1V572h1V568.5h1V556.5h1V548.5h1V529.5h1V521h1V514.5h1V524h1V537h1V549.5h1V558h1V565h1V569h1V576h1V578.5h1V581h1V584.5h1V585h1V587.5h1V588h1V588.5h1V589h1V589.5h2V588.5h1V587h2V584.5h1V582h1V580.5h1V578.5h1V577h1V572h1V574.5h1V567h1V565.5h1V569.5h1V565h1V569h1V571.5h1V570.5h1V566.5h1V562.5h2V553h1V555.5h1V564.5h1V572h1V573.5h1V576h1V573.5h1V575h1V576h1V573h1V575h1V576.5h1V571.5h1V574h1V578h1V581h1V581.5h1V583.5h1V587h1V588.5h1V590h1V590.5h1V591.5h1V592h1V593h2V593.5h2V594h4V594.5h26V594h3V593.5h1V593h1V592.5h1V592h1V591.5h1V589.5h1V586.5h1V583h1V577h1V575.5h1V579h1V581.5h1V582h1V579.5h1V580h1V576.5h1V568h1V564h1V555.5h1V544.5h1V536h1V522.5h1V514h1V519.5h1V538.5h1V545.5h1V555h1V563.5h1V565.5h1V572.5h1V575h1V574h1V580h1V578.5h1V582h1V582.5h1V582h1V582.5h1V581.5h1V582h2V581h1V581.5h1V583h1V584.5h1V584h1V585h1V585.5h2V588h1V587.5h1V588.5h1V588h1V589.5h1V590h2V590.5h1V589.5h1V591.5h1V592h1V592.5h1V593h2V593.5h2V594h4V594.5h6V593.5h1V594.5h2V594h1V594.5h8V593.5h1V594.5h2V594h1V594.5h2V592h1V594.5h4V594h1V594.5h27V594h1V594.5h11V593.5h1V594.5h15V592h1V594.5h1V594h1V594.5h5V593.5h1V594.5h8V593.5h1V594.5h2V594h6V593.5h1V593h2V591.5h2V590h1V593h1V593.5h1V594h6V594.5h15V594.7Z" fill="#262b8c" stroke="none" stroke-width="1"/>
<line x1="1210" y1="595.2" x2="1597" y2="595.2" stroke="#4a4a4a" stroke-width="1"/>
<path d="M1210 691.5V691.5h33V691h2V691.5h6V690h1V691.5h2V690.5h1V691.5h25V691h2V690.5h1V690h1V689h1V688.5h1V688h1V687h1V684.5h1V683.5h1V685h1V686.5h1V688.5h1V689h1V689.5h1V690h1V689h1V691h2V691.5h59V691h1V691.5h25V691h2V690.5h1V691h2V690.5h3V690h2V689.5h1V689h1V688h2V687.5h1V686.5h1V684h1V683h1V681.5h1V679.5h1V674h2V665h1V664.5h1V659.5h1V641.5h1V637h1V642.5h1V658h1V664h1V667.5h1V672.5h1V672h1V677.5h1V678.5h1V680.5h1V679.5h1V681h3V680h1V680.5h1V681h1V680h2V682.5h3V683h1V684.5h1V686h1V687.5h1V688h1V689h1V689.5h1V690h1V690.5h2V691h2V689.5h1V691.5h11V690h1V691.5h8V690h1V691.5h32V690h1V691.5h45V690.5h1V691.5h16V691h1V691.5h35V691.5Z" fill="#262b8c" stroke="none" stroke-width="1"/>
<line x1="1210" y1="692" x2="1597" y2="692" stroke="#4a4a4a" stroke-width="1"/>
<path d="M1210 788.3V788.3V788.5h4V788h2V787.5h4V787h5V786h2V784.5h1V783h2V784.5h1V785.5h1V786.5h1V787h5V787.5h4V788h2V788.5h21V788h1V787.5h3V787h2V786.5h1V786h1V785.5h2V784h1V783h1V782h1V779.5h1V777.5h1V775h1V772.5h1V766h1V761h1V757h1V753h1V742h1V730.5h1V706h2V728.5h1V732h1V753.5h1V754.5h1V762.5h1V769.5h1V771.5h1V776h1V779h1V780h1V781.5h1V782.5h1V784.5h1V785h1V785.5h1V786h1V787h3V787.5h4V788h2V787.5h3V787h1V786.5h1V786h1V785.5h1V785h1V783h1V782h1V780h1V775.5h2V778.5h1V781.5h1V783h1V784.5h1V785.5h1V786h1V787h2V787.5h1V788h1V788.5h21V788h1V788.5h20V787h1V788.5h4V788h1V787.5h4V787h2V786.5h1V786h1V785h1V784.5h1V784h2V783h1V782h1V780.5h1V777h1V775h1V771.5h1V768.5h1V762h1V757.5h1V749h1V744.5h1V730h1V723.5h1V729.5h1V742h1V756.5h1V753.5h1V764h1V769.5h1V770h1V775.5h1V777h1V778.5h1V780h1V781h1V781.5h1V781h1V781.5h1V780.5h2V781h1V782h1V783h1V784h1V784.5h1V785h1V786h1V785h1V786.5h2V787h1V786.5h1V787h7V787.5h8V788h3V788.5h46V787.5h1V788.5h18V787h1V788.5h23V786h1V788.5h25V787h1V788.5h15V788h1V788.5h7V788.3Z" fill="#262b8c" stroke="none" stroke-width="1"/>
<line x1="1210" y1="788.8" x2="1597" y2="788.8" stroke="#4a4a4a" stroke-width="1"/>
<path d="M1210 885.1V885.1V885h1V883.5h1V885h2V883.5h1V885h5V884.5h1V881.5h1V884h1V883.5h1V882.5h2V881.5h1V879h1V878.5h2V881h1V882h1V881.5h1V882.5h1V883.5h1V883h1V883.5h1V884.5h1V885h6V884.5h1V885h3V884.5h1V883.5h1V885h2V884h1V885h10V880h1V884.5h4V881h1V884h1V883.5h2V883h1V881.5h1V880h1V881h1V879.5h1V876.5h1V875.5h1V873.5h1V869h1V863.5h1V860h1V856.5h1V850.5h1V841h1V828.5h1V806.5h1V799h1V810h1V825.5h1V838.5h1V853.5h1V860.5h1V863h1V864.5h1V868h1V873.5h1V874h1V876.5h1V877.5h1V879h1V877.5h2V877h1V881.5h1V882h2V880h1V882.5h1V882h1V882.5h5V882h2V881.5h1V881h1V882h1V881.5h1V882h1V880h2V881h2V881.5h1V880.5h1V881h2V880h1V881.5h1V877.5h1V882h2V881h1V878.5h1V881h1V882h1V879h1V881.5h3V882h3V882.5h3V883h1V883.5h3V880h1V883.5h2V884h2V882.5h1V884h2V881.5h1V884.5h2V880.5h1V884.5h1V883h1V884.5h1V885h5V880.5h1V880h1V885h6V880h1V885h5V884.5h2V881.5h1V884.5h1V884h1V881.5h1V883.5h2V882.5h1V882h1V881h2V879.5h1V876h1V874.5h2V866.5h1V860.5h1V858.5h1V857h1V853h1V832h1V824h1V835h1V849h1V858.5h1V859.5h1V865.5h1V866h1V874h1V871.5h1V877h1V879h1V881h2V882.5h2V883h1V883.5h1V884h2V884.5h3V881.5h1V882.5h1V885h1V883.5h1V885h5V883.5h1V884h1V885h5V884.5h3V884h1V883.5h1V882.5h1V881.5h1V880.5h1V877.5h1V876h2V879.5h1V880h1V879.5h1V881.5h1V882h1V882.5h3V882h1V882.5h1V881.5h1V882h1V881.5h1V882h2V881.5h2V881h1V882h1V881h1V877h1V881h4V882h2V881h1V881.5h4V882h1V882.5h1V879.5h1V883h1V882.5h1V883h1V883.5h1V883h1V883.5h2V884h4V882.5h1V884.5h1V883.5h1V884.5h3V885h2V882h1V884h1V885h12V882h1V885h3V883.5h1V885h2V880.5h1V885h4V883h1V885h5V884h1V885h5V881h1V884h1V885h1V883h1V882h1V885h5V882h1V885h4V883h1V885h3V884.5h2V883.5h1V884h1V881h1V884h2V881.5h1V882h1V880h1V879h1V878.5h1V883h1V884h2V883h1V884h1V883.5h1V884.5h2V885h7V885.1Z" fill="#262b8c" stroke="none" stroke-width="1"/>
<line x1="1210" y1="885.6" x2="1597" y2="885.6" stroke="#4a4a4a" stroke-width="1"/>
<rect x="1206.2" y="114.7" width="3.8" height="93.5" fill="#3b76b3"/>
<rect x="1206.2" y="211.5" width="3.8" height="93.5" fill="#3b76b3"/>
<rect x="1206.2" y="308.3" width="3.8" height="93.5" fill="#3b76b3"/>
<rect x="1206.2" y="404.6" width="3.8" height="93.5" fill="#d02a2d"/>
<rect x="1206.2" y="502.2" width="3.8" height="93.5" fill="#d02a2d"/>
<rect x="1206.2" y="599" width="3.8" height="93.5" fill="#a65da9"/>
<rect x="1206.2" y="695.8" width="3.8" height="93.5" fill="#a65da9"/>
<rect x="1206.2" y="792.6" width="3.8" height="93.5" fill="#a65da9"/>
<text x="400" y="122.2" font-size="15" fill="#111">[0 - 86]</text>
<text x="400" y="219.8" font-size="15" fill="#111">[0 - 86]</text>
<text x="400" y="317.1" font-size="15" fill="#111">[0 - 86]</text>
<text x="400" y="414.4" font-size="15" fill="#111">[0 - 86]</text>
<text x="400" y="511.4" font-size="15" fill="#111">[0 - 86]</text>
<text x="400" y="609.3" font-size="15" fill="#111">[0 - 86]</text>
<text x="400" y="706.6" font-size="15" fill="#111">[0 - 86]</text>
<text x="400" y="803.9" font-size="15" fill="#111">[0 - 86]</text>
<text x="798.5" y="125.6" font-size="15.4" fill="#111">[0 - 102]</text>
<text x="798.5" y="222.2" font-size="15.4" fill="#111">[0 - 102]</text>
<text x="798.5" y="319.3" font-size="15.4" fill="#111">[0 - 102]</text>
<text x="798.5" y="416.3" font-size="15.4" fill="#111">[0 - 102]</text>
<text x="798.5" y="513.1" font-size="15.4" fill="#111">[0 - 102]</text>
<text x="798.5" y="610.4" font-size="15.4" fill="#111">[0 - 102]</text>
<text x="798.5" y="707.2" font-size="15.4" fill="#111">[0 - 102]</text>
<text x="798.5" y="804.2" font-size="15.4" fill="#111">[0 - 102]</text>
<text x="1210.5" y="124.2" font-size="14" fill="#111">[0 - 118]</text>
<text x="1210.5" y="221" font-size="14" fill="#111">[0 - 118]</text>
<text x="1210.5" y="317.8" font-size="14" fill="#111">[0 - 118]</text>
<text x="1210.5" y="414.1" font-size="14" fill="#111">[0 - 118]</text>
<text x="1210.5" y="511.7" font-size="14" fill="#111">[0 - 118]</text>
<text x="1210.5" y="608.5" font-size="14" fill="#111">[0 - 118]</text>
<text x="1210.5" y="705.3" font-size="14" fill="#111">[0 - 118]</text>
<text x="1210.5" y="802.1" font-size="14" fill="#111">[0 - 118]</text>
<rect x="197" y="117" width="3.2" height="276" fill="#000"/>
<rect x="197" y="412" width="3.2" height="176" fill="#000"/>
<rect x="197" y="610" width="3.2" height="272" fill="#000"/>
<text x="64" y="264.6" font-size="34.5" font-weight="bold">WT</text>
<text x="39.5" y="501.9" font-size="35.5" font-weight="bold">Kras</text>
<text x="113.5" y="473.7" font-size="19.5" font-weight="bold">G12D</text>
<text x="50.5" y="539.7" font-size="37" font-weight="bold">(TAM)</text>
<text x="39.5" y="735" font-size="35.5" font-weight="bold">Kras</text>
<text x="113.5" y="706.5" font-size="19.5" font-weight="bold">G12D</text>
<text x="3.5" y="770.8" font-size="36.3" font-weight="bold">(Pdx1-cre)</text>
<text x="292" y="158" font-size="27" fill="#27388f" text-anchor="middle">NT</text>
<text x="292" y="183.5" font-size="27" fill="#27388f" text-anchor="middle">(normal duct)</text>
<text x="292" y="255" font-size="27" fill="#c1272d" text-anchor="middle">D2</text>
<text x="292" y="280.5" font-size="27" fill="#c1272d" text-anchor="middle">(PDLP)</text>
<text x="292" y="350.6" font-size="27" fill="#27388f" text-anchor="middle">D7</text>
<text x="292" y="376.1" font-size="27" fill="#27388f" text-anchor="middle">(recovery)</text>
<text x="292" y="447.5" font-size="27" fill="#c1272d" text-anchor="middle">D7</text>
<text x="292" y="473" font-size="27" fill="#c1272d" text-anchor="middle">(Lock in)</text>
<text x="292" y="543.9" font-size="27" fill="#a54ea6" text-anchor="middle">PDA</text>
<text x="292" y="569.4" font-size="27" fill="#a54ea6" text-anchor="middle">(Cdkn2a loss)</text>
<text x="292" y="641" font-size="27" fill="#27388f" text-anchor="middle">NT</text>
<text x="292" y="666.5" font-size="27" fill="#27388f" text-anchor="middle">(“normal duct”)</text>
<text x="292" y="737.5" font-size="27" fill="#c1272d" text-anchor="middle">D2</text>
<text x="292" y="763" font-size="27" fill="#c1272d" text-anchor="middle">(PDLP-like)</text>
<text x="292" y="834" font-size="27" fill="#c1272d" text-anchor="middle">D7</text>
<text x="292" y="859.5" font-size="27" fill="#c1272d" text-anchor="middle">(Lock in)</text>
<rect x="403.6" y="906.5" width="11.2" height="9" fill="#2a3593"/>
<rect x="403.2" y="904.5" width="1.8" height="13" fill="#2a3593"/>
<rect x="656.8" y="909.2" width="107.5" height="4" fill="#2a3593"/>
<rect x="674.5" y="905" width="1.8" height="12" fill="#2a3593"/>
<rect x="691.9" y="905" width="1.8" height="12" fill="#2a3593"/>
<rect x="704.3" y="905" width="1.8" height="12" fill="#2a3593"/>
<rect x="713" y="905" width="1.8" height="12" fill="#2a3593"/>
<rect x="722.9" y="905" width="1.8" height="12" fill="#2a3593"/>
<rect x="746.5" y="905" width="1.8" height="12" fill="#2a3593"/>
<rect x="757.6" y="905" width="1.8" height="12" fill="#2a3593"/>
<rect x="758.5" y="906" width="5.8" height="10" fill="#2a3593"/>
<path d="M669 908 L666 911 L669 914" fill="none" stroke="#2a3593" stroke-width="1.2"/>
<path d="M703 908 L700 911 L703 914" fill="none" stroke="#2a3593" stroke-width="1.2"/>
<path d="M738 908 L735 911 L738 914" fill="none" stroke="#2a3593" stroke-width="1.2"/>
<path d="M656.8 911 L656.8 896 L683 896" fill="none" stroke="#000" stroke-width="1.5"/>
<path d="M681 892.5 L687.5 896 L681 899.5 Z" fill="#000" stroke="none" stroke-width="1"/>
<text x="670" y="945" font-size="35" font-style="italic">Ldha</text>
<rect x="794.5" y="907.7" width="86.8" height="3.6" fill="#2a3593"/>
<rect x="879" y="905.6" width="2.6" height="7.2" fill="#2a3593"/>
<rect x="853.5" y="905.6" width="1.5" height="7.9" fill="#2a3593"/>
<rect x="1085.5" y="908.5" width="16.5" height="3" fill="#2a3593"/>
<rect x="1085.5" y="905" width="3" height="11" fill="#2a3593"/>
<rect x="1091.5" y="905" width="2.5" height="11" fill="#2a3593"/>
<rect x="1097" y="905" width="2.5" height="11" fill="#2a3593"/>
<path d="M1102.5 906.5 L1102.5 899 L1089 899" fill="none" stroke="#000" stroke-width="1.4"/>
<path d="M1090.5 896.3 L1085 899 L1090.5 901.7 Z" fill="#000" stroke="none" stroke-width="1"/>
<text x="1060" y="947.3" font-size="35" font-style="italic">Csf2</text>
<rect x="1413" y="908" width="184.5" height="3.2" fill="#2a3593"/>
<rect x="1413" y="903" width="5.6" height="13.4" fill="#2a3593"/>
<rect x="1432" y="903" width="15" height="13.4" fill="#2a3593"/>
<rect x="1468.8" y="903" width="6" height="13.4" fill="#2a3593"/>
<rect x="1515.2" y="903" width="7.5" height="13.4" fill="#2a3593"/>
<rect x="1596.5" y="904" width="1.3" height="11" fill="#2a3593"/>
<path d="M1413.3 903 L1413.3 893.5 L1427 893.5" fill="none" stroke="#000" stroke-width="1.4"/>
<path d="M1425.5 890.5 L1431 893.5 L1425.5 896.5 Z" fill="#000" stroke="none" stroke-width="1"/>
<text x="1464.3" y="946.7" font-size="35" font-style="italic">Paox</text>
<text x="1619" y="33.5" font-size="43" font-weight="bold">b</text>
<text x="1665.9" y="101.7" font-size="36" font-weight="bold">K-LOCKED</text>
<text x="1859" y="89.5" font-size="20.5" font-weight="bold">OPEN</text>
<path d="M1682.2 331.8 L1683.2 331.7 L1684.2 331.5 L1685.2 331.2 L1686.2 331 L1687.2 330.7 L1688.2 330.4 L1689.2 330.1 L1690.2 329.8 L1691.2 329.4 L1692.2 329.1 L1693.2 328.6 L1694.2 328.2 L1695.2 327.7 L1696.2 327.1 L1697.2 326.6 L1698.2 325.9 L1699.2 325.2 L1700.2 324.5 L1701.2 323.7 L1702.2 322.9 L1703.2 321.9 L1704.2 320.9 L1705.2 319.8 L1706.2 318.7 L1707.2 317.4 L1708.2 316.1 L1709.2 314.6 L1710.2 313 L1711.2 311.3 L1712.2 309.5 L1713.2 307.6 L1714.2 305.5 L1715.2 303.2 L1716.2 300.8 L1717.2 298.2 L1718.2 295.5 L1719.2 292.6 L1720.2 289.4 L1721.2 286.1 L1722.2 282.6 L1723.2 278.8 L1724.2 274.8 L1725.2 270.6 L1726.2 266.2 L1727.2 261.6 L1728.2 256.7 L1729.2 251.6 L1730.2 246.2 L1731.2 240.7 L1732.2 234.9 L1733.2 229 L1734.2 222.9 L1735.2 216.7 L1736.2 210.3 L1737.2 203.9 L1738.2 197.4 L1739.2 190.9 L1740.2 184.5 L1741.2 178.1 L1742.2 171.9 L1743.2 165.8 L1744.2 160.1 L1745.2 154.6 L1746.2 149.5 L1747.2 144.8 L1748.2 140.5 L1749.2 136.8 L1750.2 133.7 L1751.2 131.1 L1752.2 129.3 L1753.2 128 L1754.2 127.5 L1755.2 127.6 L1756.2 128.4 L1757.2 129.9 L1758.2 132.1 L1759.2 134.9 L1760.2 138.2 L1761.2 142.2 L1762.2 146.6 L1763.2 151.5 L1764.2 156.7 L1765.2 162.3 L1766.2 168.2 L1767.2 174.4 L1768.2 180.6 L1769.2 187 L1770.2 193.5 L1771.2 200 L1772.2 206.5 L1773.2 212.9 L1774.2 219.2 L1775.2 225.4 L1776.2 231.4 L1777.2 237.3 L1778.2 242.9 L1779.2 248.4 L1780.2 253.6 L1781.2 258.6 L1782.2 263.4 L1783.2 268 L1784.2 272.3 L1785.2 276.5 L1786.2 280.3 L1787.2 284 L1788.2 287.5 L1789.2 290.7 L1790.2 293.8 L1791.2 296.6 L1792.2 299.3 L1793.2 301.8 L1794.2 304.1 L1795.2 306.3 L1796.2 308.4 L1797.2 310.3 L1798.2 312 L1799.2 313.7 L1800.2 315.2 L1801.2 316.6 L1802.2 317.9 L1803.2 319.2 L1804.2 320.3 L1805.2 321.3 L1806.2 322.3 L1807.2 323.2 L1808.2 324 L1809.2 324.8 L1810.2 325.5 L1811.2 326.2 L1812.2 326.8 L1813.2 327.4 L1814.2 327.9 L1815.2 328.4 L1816.2 328.8 L1817.2 329.2 L1818.2 329.6 L1819.2 329.9 L1820.2 330.3 L1821.2 330.6 L1822.2 330.8 L1823.2 331.1 L1824.2 331.3 L1825.2 331.5 L1826.2 331.7" fill="none" stroke="#c4212f" stroke-width="4.8" stroke-linejoin="round"/>
<path d="M1682.2 331.8 L1683.2 331.7 L1684.2 331.7 L1685.2 331.6 L1686.2 331.5 L1687.2 331.4 L1688.2 331.3 L1689.2 331.1 L1690.2 331 L1691.2 330.9 L1692.2 330.7 L1693.2 330.5 L1694.2 330.4 L1695.2 330.2 L1696.2 330 L1697.2 329.7 L1698.2 329.5 L1699.2 329.2 L1700.2 328.9 L1701.2 328.6 L1702.2 328.3 L1703.2 327.9 L1704.2 327.5 L1705.2 327.1 L1706.2 326.6 L1707.2 326.1 L1708.2 325.6 L1709.2 325 L1710.2 324.4 L1711.2 323.7 L1712.2 323 L1713.2 322.2 L1714.2 321.4 L1715.2 320.5 L1716.2 319.5 L1717.2 318.5 L1718.2 317.4 L1719.2 316.3 L1720.2 315 L1721.2 313.7 L1722.2 312.3 L1723.2 310.8 L1724.2 309.2 L1725.2 307.6 L1726.2 305.8 L1727.2 304 L1728.2 302 L1729.2 300 L1730.2 297.9 L1731.2 295.7 L1732.2 293.4 L1733.2 291.1 L1734.2 288.7 L1735.2 286.2 L1736.2 283.7 L1737.2 281.1 L1738.2 278.6 L1739.2 276 L1740.2 273.4 L1741.2 270.9 L1742.2 268.4 L1743.2 266.1 L1744.2 263.8 L1745.2 261.6 L1746.2 259.6 L1747.2 257.7 L1748.2 256 L1749.2 254.6 L1750.2 253.3 L1751.2 252.3 L1752.2 251.6 L1753.2 251.1 L1754.2 250.9 L1755.2 250.9 L1756.2 251.2 L1757.2 251.8 L1758.2 252.7 L1759.2 253.8 L1760.2 255.1 L1761.2 256.7 L1762.2 258.4 L1763.2 260.4 L1764.2 262.4 L1765.2 264.7 L1766.2 267 L1767.2 269.4 L1768.2 271.9 L1769.2 274.5 L1770.2 277 L1771.2 279.6 L1772.2 282.2 L1773.2 284.7 L1774.2 287.2 L1775.2 289.6 L1776.2 292 L1777.2 294.3 L1778.2 296.6 L1779.2 298.8 L1780.2 300.8 L1781.2 302.8 L1782.2 304.7 L1783.2 306.5 L1784.2 308.2 L1785.2 309.9 L1786.2 311.4 L1787.2 312.9 L1788.2 314.2 L1789.2 315.5 L1790.2 316.7 L1791.2 317.9 L1792.2 318.9 L1793.2 319.9 L1794.2 320.8 L1795.2 321.7 L1796.2 322.5 L1797.2 323.3 L1798.2 324 L1799.2 324.6 L1800.2 325.2 L1801.2 325.8 L1802.2 326.3 L1803.2 326.8 L1804.2 327.2 L1805.2 327.7 L1806.2 328 L1807.2 328.4 L1808.2 328.7 L1809.2 329 L1810.2 329.3 L1811.2 329.6 L1812.2 329.8 L1813.2 330 L1814.2 330.2 L1815.2 330.4 L1816.2 330.6 L1817.2 330.8 L1818.2 330.9 L1819.2 331.1 L1820.2 331.2 L1821.2 331.3 L1822.2 331.4 L1823.2 331.5 L1824.2 331.6 L1825.2 331.7 L1826.2 331.8" fill="none" stroke="#2b4b9f" stroke-width="4.8" stroke-linejoin="round"/>
<path d="M1682.2 331.8 L1683.2 331.7 L1684.2 331.6 L1685.2 331.5 L1686.2 331.4 L1687.2 331.2 L1688.2 331.1 L1689.2 330.9 L1690.2 330.8 L1691.2 330.6 L1692.2 330.4 L1693.2 330.1 L1694.2 329.9 L1695.2 329.7 L1696.2 329.4 L1697.2 329.1 L1698.2 328.7 L1699.2 328.4 L1700.2 328 L1701.2 327.6 L1702.2 327.1 L1703.2 326.7 L1704.2 326.1 L1705.2 325.6 L1706.2 325 L1707.2 324.3 L1708.2 323.6 L1709.2 322.8 L1710.2 322 L1711.2 321.1 L1712.2 320.2 L1713.2 319.2 L1714.2 318.1 L1715.2 316.9 L1716.2 315.7 L1717.2 314.3 L1718.2 312.9 L1719.2 311.4 L1720.2 309.7 L1721.2 308 L1722.2 306.2 L1723.2 304.2 L1724.2 302.1 L1725.2 299.9 L1726.2 297.6 L1727.2 295.2 L1728.2 292.7 L1729.2 290 L1730.2 287.2 L1731.2 284.3 L1732.2 281.4 L1733.2 278.3 L1734.2 275.1 L1735.2 271.9 L1736.2 268.5 L1737.2 265.2 L1738.2 261.8 L1739.2 258.4 L1740.2 255.1 L1741.2 251.8 L1742.2 248.5 L1743.2 245.4 L1744.2 242.4 L1745.2 239.5 L1746.2 236.8 L1747.2 234.4 L1748.2 232.2 L1749.2 230.3 L1750.2 228.6 L1751.2 227.3 L1752.2 226.3 L1753.2 225.7 L1754.2 225.4 L1755.2 225.5 L1756.2 225.9 L1757.2 226.7 L1758.2 227.8 L1759.2 229.2 L1760.2 231 L1761.2 233 L1762.2 235.3 L1763.2 237.9 L1764.2 240.6 L1765.2 243.5 L1766.2 246.6 L1767.2 249.8 L1768.2 253.1 L1769.2 256.4 L1770.2 259.8 L1771.2 263.2 L1772.2 266.5 L1773.2 269.9 L1774.2 273.2 L1775.2 276.4 L1776.2 279.5 L1777.2 282.6 L1778.2 285.5 L1779.2 288.4 L1780.2 291.1 L1781.2 293.7 L1782.2 296.2 L1783.2 298.6 L1784.2 300.8 L1785.2 303 L1786.2 305 L1787.2 306.9 L1788.2 308.7 L1789.2 310.4 L1790.2 312 L1791.2 313.5 L1792.2 314.9 L1793.2 316.2 L1794.2 317.4 L1795.2 318.5 L1796.2 319.6 L1797.2 320.6 L1798.2 321.5 L1799.2 322.4 L1800.2 323.2 L1801.2 323.9 L1802.2 324.6 L1803.2 325.2 L1804.2 325.8 L1805.2 326.3 L1806.2 326.9 L1807.2 327.3 L1808.2 327.8 L1809.2 328.2 L1810.2 328.5 L1811.2 328.9 L1812.2 329.2 L1813.2 329.5 L1814.2 329.8 L1815.2 330 L1816.2 330.2 L1817.2 330.5 L1818.2 330.7 L1819.2 330.8 L1820.2 331 L1821.2 331.2 L1822.2 331.3 L1823.2 331.4 L1824.2 331.6 L1825.2 331.7 L1826.2 331.8" fill="none" stroke="#6b9dd4" stroke-width="4.8" stroke-linejoin="round"/>
<rect x="1672.8" y="117.9" width="163" height="224.3" fill="none" stroke="#222" stroke-width="1.6"/>
<text x="1670.8" y="335.8" font-size="11.5" fill="#333" text-anchor="end">0</text>
<line x1="1670.8" y1="331.8" x2="1672.8" y2="331.8" stroke="#333" stroke-width="1"/>
<text x="1670.8" y="257.2" font-size="11.5" fill="#333" text-anchor="end">5</text>
<line x1="1670.8" y1="253.2" x2="1672.8" y2="253.2" stroke="#333" stroke-width="1"/>
<text x="1670.8" y="178.6" font-size="11.5" fill="#333" text-anchor="end">10</text>
<line x1="1670.8" y1="174.6" x2="1672.8" y2="174.6" stroke="#333" stroke-width="1"/>
<text x="1685.5" y="357" font-size="11.5" fill="#333" text-anchor="middle">−1000b</text>
<text x="1755.5" y="357" font-size="11.5" fill="#333" text-anchor="middle">center</text>
<text x="1828.5" y="357" font-size="11.5" fill="#333" text-anchor="middle">1000b</text>
<line x1="1679.8" y1="342.2" x2="1679.8" y2="344.7" stroke="#333" stroke-width="1"/>
<line x1="1754.5" y1="342.2" x2="1754.5" y2="344.7" stroke="#333" stroke-width="1"/>
<line x1="1827.7" y1="342.2" x2="1827.7" y2="344.7" stroke="#333" stroke-width="1"/>
<text transform="translate(1646.3 233.5) rotate(-90)" font-size="27.5" text-anchor="middle">ATAC-seq intensity</text>
<line x1="1723.7" y1="123.7" x2="1792" y2="123.7" stroke="#333" stroke-width="1.1" stroke-dasharray="4 2.5"/>
<line x1="1724.9" y1="223" x2="1763" y2="223" stroke="#333" stroke-width="1.1" stroke-dasharray="4 2.5"/>
<line x1="1753.8" y1="249.2" x2="1795.4" y2="249.2" stroke="#333" stroke-width="1.1" stroke-dasharray="4 2.5"/>
<line x1="1727.9" y1="125" x2="1727.9" y2="146" stroke="#111" stroke-width="1.1"/>
<path d="M1725.9 130 L1727.9 125 L1729.9 130 Z" fill="#111" stroke="none" stroke-width="1"/>
<line x1="1727.9" y1="221.5" x2="1727.9" y2="205" stroke="#111" stroke-width="1.1"/>
<path d="M1725.9 216.5 L1727.9 221.5 L1729.9 216.5 Z" fill="#111" stroke="none" stroke-width="1"/>
<line x1="1788.4" y1="125" x2="1788.4" y2="172" stroke="#111" stroke-width="1.1"/>
<path d="M1786.4 130 L1788.4 125 L1790.4 130 Z" fill="#111" stroke="none" stroke-width="1"/>
<line x1="1788.4" y1="247.5" x2="1788.4" y2="224" stroke="#111" stroke-width="1.1"/>
<path d="M1786.4 242.5 L1788.4 247.5 L1790.4 242.5 Z" fill="#111" stroke="none" stroke-width="1"/>
<text x="1706.7" y="174.3" font-size="22" text-anchor="middle">****</text>
<text x="1676.3" y="193" font-size="22">1.96X</text>
<text x="1806.3" y="195.2" font-size="22" text-anchor="middle">****</text>
<text x="1770" y="210" font-size="22">2.57X</text>
<text x="1846" y="146.8" font-size="36" font-weight="bold">Sample</text>
<text x="1903" y="186" font-size="25" text-anchor="middle">WT</text>
<text x="1903" y="222" font-size="25" text-anchor="middle">D2</text>
<text x="1903" y="257.8" font-size="25" text-anchor="middle">D7</text>
<text x="1903" y="296" font-size="25" text-anchor="middle">NT</text>
<rect x="1840.5" y="207" width="10.5" height="4.4" fill="#c4212f"/>
<rect x="1840.5" y="240.6" width="10.5" height="4.4" fill="#6b9dd4"/>
<rect x="1840.5" y="278.8" width="10.5" height="4.4" fill="#2b4b9f"/>
<path d="M1682.2 601.2 L1683.2 601.1 L1684.2 601.1 L1685.2 601 L1686.2 600.9 L1687.2 600.7 L1688.2 600.6 L1689.2 600.5 L1690.2 600.3 L1691.2 600.2 L1692.2 600 L1693.2 599.8 L1694.2 599.6 L1695.2 599.4 L1696.2 599.2 L1697.2 598.9 L1698.2 598.7 L1699.2 598.4 L1700.2 598.1 L1701.2 597.7 L1702.2 597.3 L1703.2 596.9 L1704.2 596.5 L1705.2 596.1 L1706.2 595.5 L1707.2 595 L1708.2 594.4 L1709.2 593.8 L1710.2 593.1 L1711.2 592.4 L1712.2 591.6 L1713.2 590.8 L1714.2 589.9 L1715.2 588.9 L1716.2 587.9 L1717.2 586.8 L1718.2 585.6 L1719.2 584.3 L1720.2 583 L1721.2 581.5 L1722.2 580 L1723.2 578.4 L1724.2 576.7 L1725.2 574.9 L1726.2 573 L1727.2 571 L1728.2 568.9 L1729.2 566.6 L1730.2 564.4 L1731.2 562 L1732.2 559.5 L1733.2 556.9 L1734.2 554.3 L1735.2 551.6 L1736.2 548.9 L1737.2 546.1 L1738.2 543.3 L1739.2 540.5 L1740.2 537.8 L1741.2 535 L1742.2 532.3 L1743.2 529.7 L1744.2 527.3 L1745.2 524.9 L1746.2 522.7 L1747.2 520.7 L1748.2 518.8 L1749.2 517.2 L1750.2 515.9 L1751.2 514.8 L1752.2 514 L1753.2 513.5 L1754.2 513.2 L1755.2 513.3 L1756.2 513.6 L1757.2 514.3 L1758.2 515.2 L1759.2 516.4 L1760.2 517.9 L1761.2 519.5 L1762.2 521.4 L1763.2 523.5 L1764.2 525.8 L1765.2 528.2 L1766.2 530.8 L1767.2 533.4 L1768.2 536.1 L1769.2 538.9 L1770.2 541.7 L1771.2 544.5 L1772.2 547.2 L1773.2 550 L1774.2 552.7 L1775.2 555.4 L1776.2 558 L1777.2 560.5 L1778.2 562.9 L1779.2 565.3 L1780.2 567.5 L1781.2 569.7 L1782.2 571.8 L1783.2 573.7 L1784.2 575.6 L1785.2 577.4 L1786.2 579 L1787.2 580.6 L1788.2 582.1 L1789.2 583.5 L1790.2 584.8 L1791.2 586.1 L1792.2 587.2 L1793.2 588.3 L1794.2 589.3 L1795.2 590.2 L1796.2 591.1 L1797.2 591.9 L1798.2 592.7 L1799.2 593.4 L1800.2 594.1 L1801.2 594.7 L1802.2 595.2 L1803.2 595.8 L1804.2 596.2 L1805.2 596.7 L1806.2 597.1 L1807.2 597.5 L1808.2 597.9 L1809.2 598.2 L1810.2 598.5 L1811.2 598.8 L1812.2 599 L1813.2 599.3 L1814.2 599.5 L1815.2 599.7 L1816.2 599.9 L1817.2 600.1 L1818.2 600.2 L1819.2 600.4 L1820.2 600.5 L1821.2 600.7 L1822.2 600.8 L1823.2 600.9 L1824.2 601 L1825.2 601.1 L1826.2 601.2" fill="none" stroke="#6b9dd4" stroke-width="4.8" stroke-linejoin="round"/>
<path d="M1682.2 601.2 L1683.2 601.1 L1684.2 600.9 L1685.2 600.6 L1686.2 600.4 L1687.2 600.1 L1688.2 599.8 L1689.2 599.5 L1690.2 599.2 L1691.2 598.8 L1692.2 598.5 L1693.2 598 L1694.2 597.6 L1695.2 597.1 L1696.2 596.5 L1697.2 596 L1698.2 595.3 L1699.2 594.6 L1700.2 593.9 L1701.2 593.1 L1702.2 592.3 L1703.2 591.3 L1704.2 590.3 L1705.2 589.2 L1706.2 588.1 L1707.2 586.8 L1708.2 585.5 L1709.2 584 L1710.2 582.4 L1711.2 580.7 L1712.2 578.9 L1713.2 577 L1714.2 574.9 L1715.2 572.6 L1716.2 570.2 L1717.2 567.6 L1718.2 564.9 L1719.2 561.9 L1720.2 558.8 L1721.2 555.5 L1722.2 551.9 L1723.2 548.2 L1724.2 544.2 L1725.2 540 L1726.2 535.6 L1727.2 530.9 L1728.2 526 L1729.2 520.9 L1730.2 515.6 L1731.2 510 L1732.2 504.3 L1733.2 498.4 L1734.2 492.3 L1735.2 486 L1736.2 479.7 L1737.2 473.2 L1738.2 466.8 L1739.2 460.3 L1740.2 453.8 L1741.2 447.4 L1742.2 441.2 L1743.2 435.2 L1744.2 429.4 L1745.2 423.9 L1746.2 418.8 L1747.2 414.1 L1748.2 409.8 L1749.2 406.1 L1750.2 403 L1751.2 400.5 L1752.2 398.6 L1753.2 397.3 L1754.2 396.8 L1755.2 396.9 L1756.2 397.7 L1757.2 399.2 L1758.2 401.4 L1759.2 404.2 L1760.2 407.5 L1761.2 411.5 L1762.2 415.9 L1763.2 420.8 L1764.2 426 L1765.2 431.7 L1766.2 437.6 L1767.2 443.7 L1768.2 450 L1769.2 456.4 L1770.2 462.9 L1771.2 469.4 L1772.2 475.8 L1773.2 482.2 L1774.2 488.5 L1775.2 494.7 L1776.2 500.8 L1777.2 506.6 L1778.2 512.3 L1779.2 517.7 L1780.2 523 L1781.2 528 L1782.2 532.8 L1783.2 537.4 L1784.2 541.7 L1785.2 545.8 L1786.2 549.7 L1787.2 553.4 L1788.2 556.8 L1789.2 560.1 L1790.2 563.1 L1791.2 566 L1792.2 568.7 L1793.2 571.2 L1794.2 573.5 L1795.2 575.7 L1796.2 577.8 L1797.2 579.7 L1798.2 581.4 L1799.2 583.1 L1800.2 584.6 L1801.2 586 L1802.2 587.3 L1803.2 588.5 L1804.2 589.7 L1805.2 590.7 L1806.2 591.7 L1807.2 592.6 L1808.2 593.4 L1809.2 594.2 L1810.2 594.9 L1811.2 595.6 L1812.2 596.2 L1813.2 596.8 L1814.2 597.3 L1815.2 597.8 L1816.2 598.2 L1817.2 598.6 L1818.2 599 L1819.2 599.3 L1820.2 599.7 L1821.2 600 L1822.2 600.2 L1823.2 600.5 L1824.2 600.7 L1825.2 600.9 L1826.2 601.1" fill="none" stroke="#c4212f" stroke-width="4.8" stroke-linejoin="round"/>
<rect x="1672.8" y="386.6" width="163.5" height="225.7" fill="none" stroke="#222" stroke-width="1.6"/>
<text x="1670.8" y="605.2" font-size="11.5" fill="#333" text-anchor="end">0</text>
<line x1="1670.8" y1="601.2" x2="1672.8" y2="601.2" stroke="#333" stroke-width="1"/>
<text x="1670.8" y="540.5" font-size="11.5" fill="#333" text-anchor="end">5</text>
<line x1="1670.8" y1="536.5" x2="1672.8" y2="536.5" stroke="#333" stroke-width="1"/>
<text x="1670.8" y="475.8" font-size="11.5" fill="#333" text-anchor="end">10</text>
<line x1="1670.8" y1="471.8" x2="1672.8" y2="471.8" stroke="#333" stroke-width="1"/>
<text x="1670.8" y="411.1" font-size="11.5" fill="#333" text-anchor="end">15</text>
<line x1="1670.8" y1="407.1" x2="1672.8" y2="407.1" stroke="#333" stroke-width="1"/>
<text x="1685.5" y="626" font-size="11.5" fill="#333" text-anchor="middle">−1000b</text>
<text x="1755.5" y="626" font-size="11.5" fill="#333" text-anchor="middle">center</text>
<text x="1828.5" y="626" font-size="11.5" fill="#333" text-anchor="middle">1000b</text>
<line x1="1679.8" y1="612.3" x2="1679.8" y2="614.8" stroke="#333" stroke-width="1"/>
<line x1="1754.5" y1="612.3" x2="1754.5" y2="614.8" stroke="#333" stroke-width="1"/>
<line x1="1827.7" y1="612.3" x2="1827.7" y2="614.8" stroke="#333" stroke-width="1"/>
<text transform="translate(1646.3 502.4) rotate(-90)" font-size="27.5" text-anchor="middle">ATAC-seq intensity</text>
<line x1="1724" y1="396.1" x2="1795" y2="396.1" stroke="#333" stroke-width="1.1" stroke-dasharray="4 2.5"/>
<line x1="1725" y1="510.3" x2="1765" y2="510.3" stroke="#333" stroke-width="1.1" stroke-dasharray="4 2.5"/>
<line x1="1729" y1="397.5" x2="1729" y2="421" stroke="#111" stroke-width="1.1"/>
<path d="M1727 402.5 L1729 397.5 L1731 402.5 Z" fill="#111" stroke="none" stroke-width="1"/>
<line x1="1729" y1="508.8" x2="1729" y2="472" stroke="#111" stroke-width="1.1"/>
<path d="M1727 503.8 L1729 508.8 L1731 503.8 Z" fill="#111" stroke="none" stroke-width="1"/>
<text x="1707" y="446" font-size="22" text-anchor="middle">****</text>
<text x="1676" y="465" font-size="22">2.38X</text>
<text x="1846" y="414" font-size="36" font-weight="bold">Sample</text>
<text x="1905" y="453.7" font-size="25" text-anchor="middle">D7</text>
<text x="1859" y="486.8" font-size="26">Kras</text>
<text x="1913.5" y="478" font-size="15.2">G12D</text>
<text x="1906" y="519" font-size="26.5" text-anchor="middle">(TAM)</text>
<text x="1905" y="573.5" font-size="25" text-anchor="middle">D7</text>
<text x="1905" y="604.7" font-size="25" text-anchor="middle">WT</text>
<rect x="1840.5" y="474.6" width="10.5" height="4.4" fill="#c4212f"/>
<rect x="1840.5" y="568.5" width="10.5" height="4.4" fill="#6b9dd4"/>
<path d="M1682.7 870.8 L1683.7 870.8 L1684.7 870.7 L1685.7 870.6 L1686.7 870.6 L1687.7 870.5 L1688.7 870.4 L1689.7 870.3 L1690.7 870.3 L1691.7 870.2 L1692.7 870 L1693.7 869.9 L1694.7 869.8 L1695.7 869.7 L1696.7 869.5 L1697.7 869.4 L1698.7 869.2 L1699.7 869 L1700.7 868.8 L1701.7 868.6 L1702.7 868.3 L1703.7 868.1 L1704.7 867.8 L1705.7 867.5 L1706.7 867.2 L1707.7 866.8 L1708.7 866.5 L1709.7 866.1 L1710.7 865.6 L1711.7 865.2 L1712.7 864.7 L1713.7 864.1 L1714.7 863.6 L1715.7 862.9 L1716.7 862.3 L1717.7 861.6 L1718.7 860.8 L1719.7 860 L1720.7 859.2 L1721.7 858.2 L1722.7 857.3 L1723.7 856.2 L1724.7 855.1 L1725.7 854 L1726.7 852.8 L1727.7 851.5 L1728.7 850.2 L1729.7 848.7 L1730.7 847.3 L1731.7 845.8 L1732.7 844.2 L1733.7 842.6 L1734.7 840.9 L1735.7 839.2 L1736.7 837.4 L1737.7 835.7 L1738.7 833.9 L1739.7 832.1 L1740.7 830.3 L1741.7 828.6 L1742.7 826.9 L1743.7 825.2 L1744.7 823.6 L1745.7 822.1 L1746.7 820.7 L1747.7 819.4 L1748.7 818.2 L1749.7 817.2 L1750.7 816.4 L1751.7 815.7 L1752.7 815.1 L1753.7 814.8 L1754.7 814.6 L1755.7 814.7 L1756.7 814.9 L1757.7 815.3 L1758.7 815.9 L1759.7 816.7 L1760.7 817.6 L1761.7 818.7 L1762.7 819.9 L1763.7 821.2 L1764.7 822.7 L1765.7 824.2 L1766.7 825.9 L1767.7 827.5 L1768.7 829.3 L1769.7 831 L1770.7 832.8 L1771.7 834.6 L1772.7 836.4 L1773.7 838.1 L1774.7 839.9 L1775.7 841.6 L1776.7 843.2 L1777.7 844.8 L1778.7 846.4 L1779.7 847.9 L1780.7 849.3 L1781.7 850.7 L1782.7 852 L1783.7 853.3 L1784.7 854.5 L1785.7 855.6 L1786.7 856.7 L1787.7 857.7 L1788.7 858.6 L1789.7 859.5 L1790.7 860.3 L1791.7 861.1 L1792.7 861.9 L1793.7 862.6 L1794.7 863.2 L1795.7 863.8 L1796.7 864.4 L1797.7 864.9 L1798.7 865.4 L1799.7 865.8 L1800.7 866.2 L1801.7 866.6 L1802.7 867 L1803.7 867.3 L1804.7 867.6 L1805.7 867.9 L1806.7 868.2 L1807.7 868.4 L1808.7 868.7 L1809.7 868.9 L1810.7 869.1 L1811.7 869.3 L1812.7 869.4 L1813.7 869.6 L1814.7 869.7 L1815.7 869.9 L1816.7 870 L1817.7 870.1 L1818.7 870.2 L1819.7 870.3 L1820.7 870.4 L1821.7 870.5 L1822.7 870.5 L1823.7 870.6 L1824.7 870.7 L1825.7 870.7 L1826.7 870.8" fill="none" stroke="#6b9dd4" stroke-width="4.8" stroke-linejoin="round"/>
<path d="M1682.7 870.8 L1683.7 870.7 L1684.7 870.5 L1685.7 870.2 L1686.7 870 L1687.7 869.7 L1688.7 869.5 L1689.7 869.1 L1690.7 868.8 L1691.7 868.5 L1692.7 868.1 L1693.7 867.6 L1694.7 867.2 L1695.7 866.7 L1696.7 866.1 L1697.7 865.6 L1698.7 864.9 L1699.7 864.3 L1700.7 863.5 L1701.7 862.7 L1702.7 861.9 L1703.7 861 L1704.7 860 L1705.7 858.9 L1706.7 857.7 L1707.7 856.5 L1708.7 855.1 L1709.7 853.6 L1710.7 852.1 L1711.7 850.4 L1712.7 848.6 L1713.7 846.6 L1714.7 844.5 L1715.7 842.3 L1716.7 839.9 L1717.7 837.3 L1718.7 834.6 L1719.7 831.7 L1720.7 828.5 L1721.7 825.2 L1722.7 821.7 L1723.7 817.9 L1724.7 814 L1725.7 809.8 L1726.7 805.4 L1727.7 800.7 L1728.7 795.9 L1729.7 790.8 L1730.7 785.4 L1731.7 779.9 L1732.7 774.2 L1733.7 768.3 L1734.7 762.2 L1735.7 756 L1736.7 749.6 L1737.7 743.2 L1738.7 736.8 L1739.7 730.3 L1740.7 723.8 L1741.7 717.5 L1742.7 711.3 L1743.7 705.3 L1744.7 699.5 L1745.7 694 L1746.7 688.9 L1747.7 684.2 L1748.7 680 L1749.7 676.3 L1750.7 673.2 L1751.7 670.7 L1752.7 668.8 L1753.7 667.5 L1754.7 667 L1755.7 667.1 L1756.7 667.9 L1757.7 669.4 L1758.7 671.6 L1759.7 674.4 L1760.7 677.7 L1761.7 681.6 L1762.7 686.1 L1763.7 690.9 L1764.7 696.2 L1765.7 701.8 L1766.7 707.6 L1767.7 713.8 L1768.7 720 L1769.7 726.4 L1770.7 732.9 L1771.7 739.3 L1772.7 745.8 L1773.7 752.2 L1774.7 758.5 L1775.7 764.6 L1776.7 770.7 L1777.7 776.5 L1778.7 782.2 L1779.7 787.6 L1780.7 792.8 L1781.7 797.8 L1782.7 802.6 L1783.7 807.2 L1784.7 811.5 L1785.7 815.6 L1786.7 819.5 L1787.7 823.1 L1788.7 826.6 L1789.7 829.8 L1790.7 832.9 L1791.7 835.7 L1792.7 838.4 L1793.7 840.9 L1794.7 843.2 L1795.7 845.4 L1796.7 847.4 L1797.7 849.3 L1798.7 851.1 L1799.7 852.7 L1800.7 854.2 L1801.7 855.7 L1802.7 857 L1803.7 858.2 L1804.7 859.3 L1805.7 860.4 L1806.7 861.3 L1807.7 862.2 L1808.7 863.1 L1809.7 863.8 L1810.7 864.5 L1811.7 865.2 L1812.7 865.8 L1813.7 866.4 L1814.7 866.9 L1815.7 867.4 L1816.7 867.8 L1817.7 868.2 L1818.7 868.6 L1819.7 868.9 L1820.7 869.3 L1821.7 869.6 L1822.7 869.8 L1823.7 870.1 L1824.7 870.3 L1825.7 870.5 L1826.7 870.7" fill="none" stroke="#c4212f" stroke-width="4.8" stroke-linejoin="round"/>
<rect x="1674.5" y="656.6" width="161.3" height="225" fill="none" stroke="#222" stroke-width="1.6"/>
<text x="1672.5" y="874.8" font-size="11.5" fill="#333" text-anchor="end">0</text>
<line x1="1672.5" y1="870.8" x2="1674.5" y2="870.8" stroke="#333" stroke-width="1"/>
<text x="1672.5" y="833.2" font-size="11.5" fill="#333" text-anchor="end">5</text>
<line x1="1672.5" y1="829.2" x2="1674.5" y2="829.2" stroke="#333" stroke-width="1"/>
<text x="1672.5" y="791.6" font-size="11.5" fill="#333" text-anchor="end">10</text>
<line x1="1672.5" y1="787.6" x2="1674.5" y2="787.6" stroke="#333" stroke-width="1"/>
<text x="1672.5" y="750" font-size="11.5" fill="#333" text-anchor="end">15</text>
<line x1="1672.5" y1="746" x2="1674.5" y2="746" stroke="#333" stroke-width="1"/>
<text x="1672.5" y="708.4" font-size="11.5" fill="#333" text-anchor="end">20</text>
<line x1="1672.5" y1="704.4" x2="1674.5" y2="704.4" stroke="#333" stroke-width="1"/>
<text x="1672.5" y="666.8" font-size="11.5" fill="#333" text-anchor="end">25</text>
<line x1="1672.5" y1="662.8" x2="1674.5" y2="662.8" stroke="#333" stroke-width="1"/>
<text x="1686" y="896" font-size="11.5" fill="#333" text-anchor="middle">−1000b</text>
<text x="1756" y="896" font-size="11.5" fill="#333" text-anchor="middle">center</text>
<text x="1829" y="896" font-size="11.5" fill="#333" text-anchor="middle">1000b</text>
<line x1="1680.3" y1="881.6" x2="1680.3" y2="884.1" stroke="#333" stroke-width="1"/>
<line x1="1755" y1="881.6" x2="1755" y2="884.1" stroke="#333" stroke-width="1"/>
<line x1="1828.2" y1="881.6" x2="1828.2" y2="884.1" stroke="#333" stroke-width="1"/>
<text transform="translate(1646.3 770) rotate(-90)" font-size="27.5" text-anchor="middle">ATAC-seq intensity</text>
<line x1="1724" y1="663.6" x2="1792" y2="663.6" stroke="#333" stroke-width="1.1" stroke-dasharray="4 2.5"/>
<line x1="1724" y1="811" x2="1764" y2="811" stroke="#333" stroke-width="1.1" stroke-dasharray="4 2.5"/>
<line x1="1728.3" y1="665" x2="1728.3" y2="697" stroke="#111" stroke-width="1.1"/>
<path d="M1726.3 670 L1728.3 665 L1730.3 670 Z" fill="#111" stroke="none" stroke-width="1"/>
<line x1="1728.3" y1="809.5" x2="1728.3" y2="756" stroke="#111" stroke-width="1.1"/>
<path d="M1726.3 804.5 L1728.3 809.5 L1730.3 804.5 Z" fill="#111" stroke="none" stroke-width="1"/>
<text x="1709" y="726" font-size="22" text-anchor="middle">****</text>
<text x="1679.8" y="745.2" font-size="22">3.68X</text>
<text x="1846" y="684" font-size="36" font-weight="bold">Sample</text>
<text x="1908" y="727.4" font-size="25" text-anchor="middle">D7</text>
<text x="1863" y="759.8" font-size="26">Kras</text>
<text x="1917.5" y="751" font-size="15.2">G12D</text>
<text x="1910.3" y="792.6" font-size="26.7" text-anchor="middle">(Pdx1-Cre)</text>
<text x="1908" y="847" font-size="25" text-anchor="middle">D7</text>
<text x="1908" y="878.2" font-size="25" text-anchor="middle">WT</text>
<rect x="1840.5" y="748.3" width="10.5" height="4.4" fill="#c4212f"/>
<rect x="1840.5" y="841.7" width="10.5" height="4.4" fill="#6b9dd4"/>
<text x="10" y="989.4" font-size="43" font-weight="bold">c</text>
<rect x="1267.4" y="978.1" width="38.9" height="22.9" fill="#e2eedb"/>
<text x="1313.9" y="1001" font-size="36">K-LOCKED</text>
<text x="1501.3" y="988.5" font-size="21">CLOSED</text>
<rect x="473.6" y="1036" width="39" height="825" fill="#e2eedb"/>
<rect x="586" y="1036" width="25.5" height="825" fill="#e2eedb"/>
<rect x="633.4" y="1036" width="49.5" height="825" fill="#e2eedb"/>
<rect x="965.6" y="1035.8" width="40.8" height="825.2" fill="#e2eedb"/>
<rect x="1007.6" y="1035.8" width="36.2" height="825.2" fill="#e2eedb"/>
<rect x="1045" y="1035.8" width="33.8" height="825.2" fill="#e2eedb"/>
<rect x="1269.1" y="1036.5" width="14.6" height="823.5" fill="#e2eedb"/>
<rect x="1396" y="1036.5" width="21.4" height="823.5" fill="#e2eedb"/>
<rect x="1420.6" y="1036.5" width="11.1" height="823.5" fill="#e2eedb"/>
<rect x="1433.7" y="1036.5" width="19.6" height="823.5" fill="#e2eedb"/>
<rect x="1473.4" y="1036.5" width="27.6" height="823.5" fill="#e2eedb"/>
<line x1="394.7" y1="1028.6" x2="533.5" y2="1028.6" stroke="#2f4c8e" stroke-width="2.2"/>
<line x1="655" y1="1028.6" x2="777.9" y2="1028.6" stroke="#2f4c8e" stroke-width="2.2"/>
<text x="558" y="1033.8" font-size="36">20kb</text>
<line x1="810" y1="1028.6" x2="937.1" y2="1028.6" stroke="#2f4c8e" stroke-width="2.2"/>
<line x1="1069.3" y1="1028.6" x2="1194.4" y2="1028.6" stroke="#2f4c8e" stroke-width="2.2"/>
<text x="961.8" y="1035.8" font-size="36">52kb</text>
<line x1="1210" y1="1027.2" x2="1345.8" y2="1027.2" stroke="#2f4c8e" stroke-width="2.2"/>
<line x1="1467.6" y1="1027.2" x2="1585" y2="1027.2" stroke="#2f4c8e" stroke-width="2.2"/>
<text x="1357" y="1034" font-size="36">104kb</text>
<path d="M392 1141.3V1141.3V1141.5h47V1141h2V1141.5h28V1140.5h1V1141.5h3V1139.5h1V1141.5h5V1141h1V1140.5h1V1140h1V1139h1V1138.5h1V1138h1V1137h2V1136h1V1134h1V1132h1V1131.5h1V1133h1V1130.5h1V1129.5h1V1124.5h1V1120h1V1107.5h1V1099h1V1108h1V1119.5h1V1128.5h1V1134h1V1135h1V1136h1V1139h1V1140h1V1140.5h1V1141h1V1141.5h7V1141h3V1140.5h7V1140h2V1139.5h1V1139h1V1138.5h3V1139.5h1V1140h2V1140.5h2V1140h1V1139.5h1V1138h1V1137h1V1135h1V1133h1V1126.5h1V1120.5h1V1127.5h1V1134h1V1136h1V1138.5h1V1139.5h1V1140h1V1140.5h1V1141.5h4V1141h1V1141.5h2V1139h1V1141.5h24V1140h1V1140.5h1V1141h1V1140.5h2V1140h1V1139h1V1138.5h1V1136.5h1V1134.5h1V1131.5h1V1128.5h1V1126.5h1V1117.5h1V1107.5h1V1092.5h1V1086.5h1V1103.5h1V1111h1V1119h1V1125.5h1V1131.5h1V1132.5h1V1134h1V1135.5h1V1136.5h1V1136h1V1134.5h2V1131h1V1130h1V1125.5h1V1117h1V1114.5h1V1118.5h1V1125h1V1130.5h1V1131h1V1132h1V1133.5h1V1131h1V1134h1V1135.5h1V1136h1V1137.5h1V1138.5h2V1139.5h2V1140h3V1139.5h3V1139h1V1138.5h1V1137.5h1V1135.5h1V1133h1V1132h1V1126.5h1V1123.5h1V1120h1V1109h1V1085.5h1V1051.5h1V1049.5h1V1086.5h1V1107h1V1110h1V1109h1V1094h1V1090.5h1V1101h1V1117.5h1V1127.5h1V1133h1V1135.5h1V1137.5h1V1139h1V1140h1V1140.5h1V1141h1V1141.5h65V1139h1V1141.5h2V1140.5h1V1141.5h15V1141h1V1141.5h24V1141.3Z" fill="#262b8c" stroke="none" stroke-width="1"/>
<line x1="392" y1="1141.8" x2="777.3" y2="1141.8" stroke="#4a4a4a" stroke-width="1"/>
<path d="M392 1244.1V1244.1V1244h1V1242.5h1V1244h3V1243.5h1V1244h3V1243.5h1V1244h1V1243h1V1243.5h1V1244h1V1243h1V1244h10V1240.5h1V1244h2V1242h1V1244h1V1242.5h1V1244h4V1242h1V1241h1V1244h3V1241.5h1V1244h1V1241h1V1243.5h1V1244h3V1240.5h1V1244h11V1243.5h1V1244h3V1243h1V1244h2V1243.5h1V1244h4V1241.5h1V1244h1V1240.5h1V1244h1V1241h1V1244h4V1240h1V1243.5h1V1244h4V1243h1V1244h8V1241.5h1V1243.5h1V1243h1V1242h1V1241h1V1240h1V1239.5h1V1238h1V1236h1V1228.5h1V1225.5h1V1237.5h1V1239h2V1240h1V1241.5h2V1243h1V1243.5h1V1244h8V1243.5h1V1244h1V1242h1V1244h1V1243.5h1V1244h4V1242h1V1244h9V1242h1V1244h3V1239.5h1V1243h1V1242h1V1241h1V1240h1V1236.5h1V1228h1V1230h1V1236.5h1V1240h1V1241.5h1V1242h1V1243h1V1241.5h1V1244h7V1243.5h1V1244h2V1240h1V1243.5h1V1241.5h1V1244h3V1242.5h1V1243.5h1V1242h1V1244h1V1243h1V1243.5h1V1244h1V1240.5h1V1244h5V1242.5h1V1244h6V1243.5h1V1243h1V1242h2V1240.5h1V1239h1V1236.5h1V1232.5h1V1233.5h1V1230.5h1V1220h1V1214h1V1213h1V1224.5h1V1231h1V1232h1V1235.5h1V1235h1V1239.5h1V1239h1V1242h2V1242.5h1V1239h1V1242.5h1V1241.5h1V1240.5h1V1238.5h1V1235.5h1V1228.5h1V1216h1V1207h1V1213.5h1V1227h1V1234h1V1236.5h1V1239.5h1V1240h1V1242.5h1V1243h1V1243.5h1V1241h1V1244h9V1242.5h1V1243.5h1V1243h1V1242.5h1V1242h1V1241h1V1239h1V1235h1V1233h1V1227h1V1226h1V1221h1V1209h1V1213h1V1219.5h1V1223.5h1V1221h1V1224h1V1219.5h1V1212.5h1V1218h1V1228h1V1232.5h1V1236h1V1237.5h1V1240.5h1V1241.5h1V1242h1V1242.5h1V1243h1V1243.5h2V1244h6V1241h1V1244h3V1243h1V1244h6V1241.5h1V1244h5V1240.5h1V1244h5V1243h1V1244h5V1243.5h1V1241.5h1V1243h3V1242.5h2V1241h1V1240h1V1238h1V1237h1V1237.5h1V1242.5h3V1243h1V1239.5h1V1243.5h2V1241h1V1244h11V1242h1V1241h1V1244h5V1242h1V1244h2V1243h1V1244h1V1243h1V1244h3V1243.5h1V1244h3V1242.5h1V1244h2V1242.5h1V1244h4V1243h1V1241h1V1244h2V1243h1V1244h8V1244.1Z" fill="#262b8c" stroke="none" stroke-width="1"/>
<line x1="392" y1="1244.6" x2="777.3" y2="1244.6" stroke="#4a4a4a" stroke-width="1"/>
<path d="M392 1346.7V1346.7V1346.5h1V1345.5h1V1343.5h1V1346.5h6V1346h1V1346.5h4V1346h2V1346.5h6V1346h1V1346.5h2V1346h1V1346.5h1V1344h1V1346.5h6V1346h1V1346.5h6V1343h1V1346.5h4V1345h1V1346.5h7V1345.5h1V1346.5h4V1346h1V1346.5h24V1346h1V1346.5h8V1345.5h1V1346h2V1345h1V1344.5h1V1343.5h1V1342.5h1V1341h2V1336.5h1V1337h1V1329.5h2V1337h1V1339h1V1339.5h1V1341.5h1V1343h1V1343.5h1V1345h2V1343.5h1V1346h1V1346.5h8V1346h1V1346.5h1V1343.5h1V1346.5h7V1346h1V1346.5h12V1342.5h1V1345h1V1343.5h1V1340.5h1V1334.5h2V1340h1V1344h1V1345h1V1346h1V1346.5h24V1344.5h1V1344h1V1346.5h15V1346h2V1345.5h2V1345h1V1343.5h1V1343h1V1340.5h1V1338h1V1331.5h1V1325.5h1V1320.5h1V1324.5h1V1333h1V1336h1V1339.5h1V1341h1V1341.5h1V1342h1V1344.5h2V1340.5h1V1344h1V1343.5h1V1338.5h1V1340.5h1V1341h1V1340h1V1339h1V1333h2V1338.5h1V1339.5h1V1340.5h1V1341.5h1V1342h1V1344h1V1344.5h1V1345.5h1V1346h2V1346.5h5V1344h1V1346.5h5V1346h2V1345.5h1V1345h1V1340h1V1342h1V1337.5h1V1332.5h1V1321h1V1307.5h1V1299h1V1313h1V1319h1V1324.5h1V1325h1V1315.5h1V1313h1V1327.5h1V1329.5h1V1339.5h1V1342h1V1344h1V1345h1V1344h1V1346h1V1346.5h15V1344.5h1V1346.5h2V1343.5h1V1346.5h3V1346h1V1346.5h12V1345.5h1V1346.5h2V1344.5h1V1346.5h2V1344.5h1V1346.5h2V1344.5h1V1346.5h2V1344h1V1344.5h1V1346.5h6V1345h1V1346.5h29V1344.5h1V1346h1V1346.5h17V1343.5h1V1346.5h5V1346.7Z" fill="#262b8c" stroke="none" stroke-width="1"/>
<line x1="392" y1="1347.2" x2="777.3" y2="1347.2" stroke="#4a4a4a" stroke-width="1"/>
<path d="M392 1449.7V1449.7V1449h2V1449.5h1V1447h1V1449.5h2V1447h1V1449.5h3V1449h1V1449.5h2V1446h2V1449.5h2V1448.5h1V1449.5h1V1447.5h1V1449.5h5V1449h1V1449.5h9V1448h1V1449.5h4V1449h2V1449.5h7V1448h1V1449.5h4V1447.5h1V1449.5h1V1448.5h1V1449.5h1V1446.5h1V1449.5h1V1449h1V1449.5h2V1449h1V1446.5h1V1449.5h1V1448.5h1V1449.5h4V1447.5h1V1446.5h1V1449.5h2V1448.5h1V1449.5h7V1449h1V1449.5h1V1448h1V1449h1V1449.5h3V1448.5h1V1449.5h3V1449h1V1446h1V1449.5h1V1447.5h1V1449h1V1448.5h1V1448h1V1446.5h1V1443.5h1V1441.5h1V1433h1V1428h1V1431.5h1V1441h1V1443h1V1446h1V1447.5h1V1445.5h1V1449h2V1449.5h2V1447.5h1V1449.5h7V1448.5h1V1449h1V1449.5h5V1448.5h1V1449.5h1V1447.5h1V1449.5h10V1447h1V1449h1V1447.5h2V1445h1V1444.5h1V1443h1V1436h1V1432h1V1439h1V1442h1V1443.5h1V1446h1V1447.5h1V1448.5h1V1449h1V1449.5h11V1448.5h1V1449.5h1V1448.5h1V1449.5h4V1448h2V1449.5h2V1449h1V1449.5h4V1449h1V1449.5h4V1448h1V1449.5h3V1449h2V1448.5h1V1447h1V1446h1V1444.5h1V1442.5h1V1438h1V1437.5h1V1434.5h1V1430h1V1414.5h1V1410h1V1418.5h1V1430h1V1436.5h1V1440h1V1441.5h1V1444h1V1444.5h1V1447h1V1447.5h1V1448h1V1447h1V1447.5h1V1446.5h1V1444h1V1441.5h1V1438h1V1423h1V1420h1V1426.5h1V1436h1V1442h1V1444h1V1446.5h1V1447.5h2V1449h1V1449.5h2V1446h1V1449.5h4V1448.5h1V1449.5h4V1446h1V1449.5h1V1449h1V1445h1V1447.5h1V1445.5h1V1443.5h1V1439.5h1V1437.5h1V1427h1V1418h1V1383h1V1380.5h1V1409.5h1V1427.5h1V1426.5h1V1419.5h1V1413h1V1397.5h1V1409h1V1430h1V1438h1V1442h1V1445.5h1V1447.5h1V1448.5h1V1445h1V1446h1V1449.5h12V1449h1V1449.5h5V1447.5h2V1449.5h2V1446.5h1V1449.5h6V1448.5h1V1448h1V1449.5h1V1449h2V1449.5h6V1449h1V1449.5h1V1446.5h1V1449.5h2V1446h1V1449.5h1V1446.5h1V1448h1V1449.5h6V1446.5h1V1449.5h6V1448h1V1449.5h12V1448.5h1V1449.5h8V1447.5h1V1449.5h1V1447h1V1449.5h2V1448h1V1449.5h4V1447.5h1V1449.5h1V1447h1V1449.5h4V1447.5h1V1449.5h8V1449.7Z" fill="#262b8c" stroke="none" stroke-width="1"/>
<line x1="392" y1="1450.2" x2="777.3" y2="1450.2" stroke="#4a4a4a" stroke-width="1"/>
<path d="M392 1552.4V1552.4V1552.5h1V1548.5h1V1552.5h8V1550h1V1552.5h2V1549h1V1551.5h1V1552.5h14V1551.5h1V1552.5h10V1550.5h1V1552.5h9V1551.5h1V1552h1V1552.5h21V1551h1V1552.5h3V1551.5h1V1552.5h2V1551.5h1V1552.5h7V1552h1V1551.5h1V1551h1V1550.5h1V1548h1V1545.5h1V1548h1V1550.5h5V1550h1V1542.5h1V1545.5h1V1549.5h1V1548h1V1550.5h1V1551h1V1550.5h2V1549.5h1V1545.5h1V1546.5h1V1549.5h1V1551h1V1551.5h2V1552.5h13V1549.5h1V1552.5h4V1552h1V1552.5h22V1551.5h1V1552.5h6V1549h1V1552.5h4V1551.5h1V1552.5h4V1550.5h1V1552.5h10V1551.5h1V1552.5h1V1551.5h1V1552.5h1V1551h1V1552.5h8V1552h1V1551h2V1549.5h1V1546.5h1V1544.5h1V1542.5h1V1536.5h1V1529h1V1532h1V1537.5h1V1542.5h1V1544h1V1543h1V1546h1V1545h1V1542.5h1V1536h1V1525h1V1527.5h1V1539h1V1544.5h1V1545.5h1V1548h2V1546.5h1V1543h1V1538h1V1520.5h2V1534.5h1V1543.5h1V1548h1V1549.5h1V1551h1V1551.5h1V1552h1V1551.5h1V1552.5h12V1550.5h1V1551.5h1V1550.5h1V1549h1V1547h1V1543.5h1V1542h1V1538h1V1537h1V1521.5h1V1499.5h1V1505h1V1525.5h1V1537h1V1538.5h1V1536h1V1539.5h1V1537h1V1535h1V1525.5h1V1529.5h1V1537.5h1V1545h1V1548h1V1549.5h1V1550.5h1V1551h1V1551.5h1V1552h1V1552.5h3V1550h1V1552.5h5V1550.5h1V1552.5h4V1551.5h1V1552.5h25V1552h1V1552.5h5V1551h1V1552.5h1V1552h1V1551.5h1V1550.5h1V1547h1V1545.5h2V1548h1V1550.5h1V1551.5h1V1552h1V1552.5h1V1549h1V1552.5h1V1548.5h1V1552.5h12V1551.5h1V1552.5h25V1551.5h1V1552.5h5V1551h1V1549.5h1V1552.4Z" fill="#262b8c" stroke="none" stroke-width="1"/>
<line x1="392" y1="1552.9" x2="777.3" y2="1552.9" stroke="#4a4a4a" stroke-width="1"/>
<path d="M392 1655.4V1655.4V1655.5h1V1653h1V1653.5h1V1655.5h2V1654h1V1655.5h7V1654h1V1655.5h2V1653h1V1655.5h1V1654.5h1V1655.5h3V1654.5h1V1655.5h6V1653.5h1V1655.5h12V1654.5h1V1655.5h6V1651.5h1V1655.5h4V1653.5h1V1654.5h1V1655.5h13V1653h1V1655.5h10V1651.5h1V1655.5h12V1655h1V1654.5h1V1654h1V1653h1V1652h1V1651h1V1650h1V1648h1V1644h1V1639h1V1630h1V1624.5h2V1634.5h1V1642h1V1645.5h1V1647h1V1650h1V1651.5h1V1652.5h1V1653.5h1V1654h1V1654.5h1V1655h1V1655.5h7V1651.5h2V1653.5h1V1655.5h3V1654.5h1V1655.5h13V1654.5h2V1654h1V1649h1V1651h1V1649h1V1644.5h1V1635.5h1V1635h1V1644.5h1V1647.5h1V1649.5h1V1650.5h1V1651.5h2V1648.5h1V1643.5h2V1650h1V1652.5h1V1653h1V1653.5h2V1654h1V1654.5h1V1655h1V1655.5h8V1654.5h1V1652.5h1V1655.5h3V1654h1V1655.5h7V1653.5h1V1655.5h1V1651h1V1654.5h1V1654h1V1653h1V1652h2V1650.5h1V1648.5h1V1647.5h1V1644.5h1V1642.5h1V1642h1V1635h1V1626h1V1613.5h1V1598.5h2V1614h1V1633h1V1635.5h1V1642.5h1V1643.5h1V1643h1V1647h1V1647.5h1V1649h1V1650h1V1651.5h1V1650h1V1648.5h1V1646.5h1V1644h1V1637h1V1626h2V1635.5h1V1643.5h1V1645h1V1647.5h1V1649h1V1647h1V1641.5h1V1639h1V1649.5h1V1652.5h2V1649.5h1V1653.5h1V1654h1V1652h1V1654.5h1V1655h1V1653h1V1655.5h1V1654.5h1V1655.5h1V1655h1V1653.5h2V1651h1V1649.5h1V1646h1V1641h1V1638h1V1623.5h1V1595.5h1V1560.5h2V1603h1V1607.5h1V1617h1V1615h1V1601h1V1604.5h1V1623.5h1V1634.5h1V1639.5h1V1644.5h1V1650.5h1V1652.5h1V1654h1V1654.5h1V1655h1V1655.5h3V1654h1V1654.5h1V1655.5h2V1655h2V1654.5h1V1654h1V1654.5h1V1653h1V1654h1V1653.5h1V1652.5h1V1650.5h1V1649.5h1V1652h1V1650.5h1V1654h2V1654.5h1V1650.5h1V1654.5h1V1655h2V1652h1V1655.5h13V1652.5h1V1655.5h2V1654h1V1655.5h1V1653.5h1V1655.5h1V1653h1V1655.5h1V1653h1V1655.5h1V1652.5h1V1655.5h3V1654.5h1V1655.5h6V1654.5h1V1655.5h5V1652h1V1655.5h3V1652.5h1V1655.5h2V1654.5h1V1652.5h1V1655.5h6V1654.5h1V1655.5h3V1653.5h1V1655.5h11V1654.5h1V1655.5h2V1653h1V1655.5h2V1654.5h1V1655.5h1V1653h1V1655.4Z" fill="#262b8c" stroke="none" stroke-width="1"/>
<line x1="392" y1="1655.9" x2="777.3" y2="1655.9" stroke="#4a4a4a" stroke-width="1"/>
<path d="M392 1757.8V1757.8V1758h13V1755.5h1V1758h2V1757h1V1758h5V1756.5h1V1758h3V1756h1V1758h2V1757h1V1756.5h1V1758h1V1757h1V1758h1V1757h1V1758h18V1755h1V1758h1V1756.5h1V1758h9V1757h1V1758h7V1754.5h1V1758h2V1755.5h1V1758h6V1754h1V1758h2V1755h1V1758h6V1754.5h1V1757.5h1V1756h1V1755.5h1V1756h1V1755.5h1V1754.5h1V1752.5h1V1752h1V1750.5h1V1750h1V1745h2V1750h1V1752.5h1V1748.5h1V1753.5h1V1754.5h1V1755.5h1V1756h1V1756.5h1V1757h1V1757.5h1V1758h4V1757h1V1758h4V1756h1V1758h7V1755h1V1757h1V1758h1V1757h1V1755.5h1V1758h11V1754h1V1755h1V1756.5h1V1754.5h1V1754h2V1752h2V1753h1V1754h1V1755h1V1752.5h1V1757h1V1757.5h1V1758h9V1756.5h1V1758h8V1755h1V1758h2V1756h1V1758h11V1757.5h1V1757h2V1756.5h1V1756h1V1751h1V1754h1V1751.5h1V1748h1V1744h1V1740h1V1730h2V1741.5h1V1745h1V1749.5h1V1751h1V1750h1V1755h1V1756h1V1756.5h1V1757h5V1756h1V1754h1V1752h1V1749.5h1V1740h2V1749h1V1751.5h1V1755h1V1756h1V1757h1V1756h1V1758h1V1756h1V1758h1V1757h1V1758h1V1756.5h1V1758h6V1756.5h1V1758h2V1757.5h1V1757h1V1755h1V1756h1V1754.5h1V1751h1V1747.5h1V1742h1V1740h1V1723h1V1713h1V1722h1V1736.5h1V1736h1V1739h1V1735.5h1V1723h1V1724.5h1V1738h1V1747h1V1747.5h1V1753.5h1V1755h1V1756h1V1756.5h1V1757h1V1758h1V1756h1V1758h2V1757h1V1758h8V1755.5h1V1758h8V1756h1V1758h16V1754.5h1V1758h5V1756.5h1V1758h27V1756.5h1V1758h1V1755h1V1758h14V1756.5h1V1756h1V1758h4V1757h1V1758h9V1754h1V1758h1V1757h1V1756.5h1V1757.8Z" fill="#262b8c" stroke="none" stroke-width="1"/>
<line x1="392" y1="1758.3" x2="777.3" y2="1758.3" stroke="#4a4a4a" stroke-width="1"/>
<path d="M392 1860.8V1860.8V1861h2V1860h1V1861h1V1858h2V1861h6V1859h1V1861h4V1860h1V1861h2V1860h1V1861h3V1860h1V1859.5h1V1861h3V1860h1V1861h4V1860h1V1861h2V1858.5h1V1861h1V1860h1V1856.5h1V1859.5h1V1861h3V1859h1V1861h13V1860h1V1859h1V1860h1V1861h3V1857.5h1V1859.5h1V1860h1V1861h4V1860h1V1861h1V1856.5h1V1860h1V1861h1V1859.5h1V1861h1V1858h1V1856.5h1V1861h1V1857h1V1858h1V1861h3V1860h1V1857h1V1861h3V1857.5h1V1861h2V1856.5h1V1860h2V1856h1V1858.5h1V1855.5h1V1856.5h1V1852.5h1V1845h1V1835h1V1837h1V1847.5h1V1853h1V1856h2V1857h1V1859h1V1860h2V1861h4V1857.5h1V1859h1V1857h1V1861h2V1858h1V1859.5h1V1857h1V1854.5h2V1856h1V1859h2V1860h2V1859.5h2V1859h1V1857h1V1855h2V1857.5h1V1855h1V1859.5h1V1858.5h1V1860h2V1860.5h1V1861h8V1860h1V1861h1V1857.5h1V1861h9V1859.5h1V1861h4V1859.5h1V1861h7V1857.5h1V1861h3V1859.5h1V1861h2V1858h1V1861h3V1859h1V1858.5h1V1861h3V1860h1V1861h1V1860.5h1V1860h1V1855.5h1V1859.5h1V1859h1V1858h1V1856h1V1855h1V1853h1V1850h1V1844h1V1832h1V1834h1V1842h1V1849h1V1849.5h1V1853h1V1857h1V1858.5h1V1859h2V1855h1V1859.5h1V1859h1V1858h1V1854.5h1V1852.5h1V1846h1V1839h1V1816.5h1V1820h1V1841.5h1V1844.5h1V1853.5h1V1855h1V1858.5h1V1859.5h1V1860h1V1856h1V1858h1V1861h2V1859h1V1861h1V1859.5h1V1861h2V1858h1V1861h2V1859.5h1V1860h1V1856h2V1858.5h1V1859h1V1858h1V1854.5h1V1851h1V1845h1V1837.5h1V1818h1V1802.5h1V1815.5h1V1833.5h1V1838.5h1V1838h1V1833.5h1V1814h1V1817h1V1834h1V1847.5h1V1853.5h1V1857h1V1859h1V1855.5h1V1860h1V1860.5h1V1861h2V1859.5h2V1861h4V1860.5h1V1860h4V1859.5h1V1855h1V1859h1V1858h1V1856h2V1858h1V1859h1V1859.5h2V1860h3V1857.5h1V1856.5h1V1861h4V1856.5h1V1861h1V1860h1V1858h1V1861h1V1859.5h1V1861h2V1860h1V1861h2V1860h2V1861h6V1856.5h1V1861h2V1860h2V1857.5h1V1861h5V1859.5h1V1861h5V1859.5h1V1860h1V1856.5h1V1860h1V1861h1V1858h1V1861h1V1856h1V1861h6V1859.5h2V1860h1V1861h1V1860h1V1861h3V1860h1V1861h1V1857.5h1V1861h1V1858h1V1857.5h1V1861h5V1860h1V1861h1V1858.5h1V1861h1V1857h1V1861h2V1860h1V1859.5h1V1860.8Z" fill="#262b8c" stroke="none" stroke-width="1"/>
<line x1="392" y1="1861.3" x2="777.3" y2="1861.3" stroke="#4a4a4a" stroke-width="1"/>
<rect x="385.1" y="1030" width="4.4" height="100" fill="#3b76b3"/>
<rect x="385.1" y="1134.4" width="4.4" height="100" fill="#3b76b3"/>
<rect x="385.1" y="1238.8" width="4.4" height="100" fill="#3b76b3"/>
<rect x="385.1" y="1343.2" width="4.4" height="100" fill="#d02a2d"/>
<rect x="385.1" y="1447.6" width="4.4" height="100" fill="#d02a2d"/>
<rect x="385.1" y="1552" width="4.4" height="100" fill="#a65da9"/>
<rect x="385.1" y="1656.4" width="4.4" height="100" fill="#a65da9"/>
<rect x="385.1" y="1760.8" width="4.4" height="100" fill="#a65da9"/>
<path d="M804 1134.9V1134.9V1135h28V1134.5h1V1135h53V1133.5h1V1135h6V1133h1V1135h10V1133.5h1V1135h9V1133.5h1V1135h12V1134.5h1V1134h1V1132.5h1V1131h1V1130.5h1V1127h1V1129.5h1V1131h1V1130.5h1V1130h1V1129h1V1125.5h1V1126h1V1130h1V1131.5h1V1133.5h1V1134h2V1135h3V1133.5h1V1135h29V1134h1V1134.5h1V1135h11V1134h1V1133h1V1131.5h1V1130.5h1V1126h2V1129.5h1V1132h1V1133h1V1134h1V1135h20V1134.5h1V1133.5h2V1133h1V1131.5h1V1130h1V1124.5h1V1120.5h1V1109.5h1V1104.5h1V1112h1V1119h1V1127h1V1130h1V1132h1V1133h1V1133.5h1V1134h1V1134.5h1V1135h1V1134h1V1135h16V1134.5h1V1134h1V1133.5h1V1131.5h1V1128.5h1V1123.5h1V1118h1V1106h1V1088.5h1V1053h1V1052.5h1V1088h1V1104.5h1V1118h1V1124.5h1V1127h1V1128.5h1V1127h1V1128h1V1130.5h1V1132.5h1V1133.5h3V1134h3V1134.5h2V1135h5V1134.5h2V1134h3V1132.5h1V1131h2V1132.5h1V1134h3V1134.5h2V1135h9V1132.5h1V1135h5V1133h1V1135h15V1134.5h1V1135h8V1134.5h1V1135h10V1133.5h1V1135h36V1134.9Z" fill="#262b8c" stroke="none" stroke-width="1"/>
<line x1="804" y1="1135.4" x2="1194.4" y2="1135.4" stroke="#4a4a4a" stroke-width="1"/>
<path d="M804 1239.2V1239.2V1239h5V1237h1V1238h1V1236.5h1V1239h6V1238.5h1V1239h2V1237h1V1239h17V1238.5h1V1239h17V1238.5h1V1236.5h1V1239h12V1238h1V1239h3V1238.5h1V1239h16V1237h1V1239h1V1237.5h1V1239h6V1236.5h1V1239h25V1238.5h1V1238h1V1237h1V1234.5h1V1234h1V1232h1V1233.5h1V1234.5h1V1235.5h1V1236.5h1V1236h1V1232.5h2V1235.5h1V1236h1V1237.5h1V1238h2V1238.5h2V1239h7V1238.5h1V1239h5V1238h1V1239h4V1238.5h1V1239h2V1238.5h2V1238h3V1236h1V1234.5h1V1236h1V1238h3V1238.5h2V1239h7V1238.5h2V1238h2V1237.5h2V1236h1V1233h2V1236h1V1237.5h2V1238h2V1238.5h2V1239h9V1236.5h1V1239h5V1238.5h2V1238h1V1237h1V1236.5h1V1234.5h1V1233.5h1V1231.5h1V1230.5h1V1230h1V1227.5h1V1225h1V1229h1V1230h1V1232h1V1233.5h1V1232.5h1V1235h1V1236h1V1237h1V1238h1V1238.5h1V1239h2V1238.5h1V1239h10V1238.5h1V1239h3V1238.5h1V1237h1V1238.5h1V1238h1V1237h1V1235h1V1232h1V1226h1V1217h1V1199.5h2V1220h1V1225h1V1230.5h1V1233.5h1V1235h1V1236h1V1236.5h1V1235h1V1230h2V1234h1V1237h2V1236.5h1V1238h2V1238.5h2V1239h2V1238h1V1239h8V1238.5h1V1239h1V1238.5h1V1239h23V1238.5h1V1239h4V1238.5h3V1238h2V1237h1V1236h1V1233.5h1V1233h1V1236h1V1237.5h2V1238h2V1238.5h2V1239h1V1238h1V1239h10V1236.5h1V1239h3V1237.5h1V1239h6V1236.5h1V1239h8V1238h1V1239h13V1238.5h1V1239h2V1239.2Z" fill="#262b8c" stroke="none" stroke-width="1"/>
<line x1="804" y1="1239.7" x2="1194.4" y2="1239.7" stroke="#4a4a4a" stroke-width="1"/>
<path d="M804 1342.1V1342.1V1342h4V1341.5h1V1342h12V1340.5h1V1342h3V1341h1V1342h2V1341.5h1V1342h4V1340.5h1V1342h6V1340.5h1V1342h7V1341.5h1V1342h7V1340h1V1342h3V1340.5h1V1342h5V1341.5h1V1342h7V1341.5h1V1342h19V1340.5h1V1342h25V1340h1V1342h2V1341.5h1V1342h3V1341.5h1V1340.5h1V1337h1V1338h1V1336h1V1332h1V1334h1V1337h1V1336.5h1V1339h1V1338.5h1V1333h1V1335h1V1338.5h1V1340.5h1V1339h1V1338h1V1341h1V1341.5h2V1342h2V1341.5h1V1342h1V1340.5h1V1342h4V1341.5h1V1342h6V1341.5h1V1342h5V1341.5h1V1341h1V1340.5h1V1339.5h1V1337.5h1V1334.5h1V1337.5h1V1339h1V1340h1V1341h1V1341.5h1V1340h1V1342h4V1340.5h1V1342h2V1341h1V1341.5h1V1342h1V1341h1V1340h1V1338.5h1V1337h1V1332h2V1338h2V1340.5h1V1341h1V1342h1V1341.5h1V1342h3V1341.5h1V1342h4V1340h1V1342h3V1341.5h1V1342h3V1341.5h1V1340h3V1339h1V1338.5h1V1337h1V1335h1V1331h1V1326.5h1V1315h1V1308h1V1317.5h1V1329h1V1332.5h1V1335.5h1V1337h2V1339h1V1338.5h1V1341h1V1341.5h2V1342h17V1341.5h1V1341h1V1340.5h1V1336.5h2V1335h1V1328.5h1V1316.5h1V1299h2V1315.5h1V1327h1V1333h1V1335.5h1V1338h1V1338.5h2V1337h1V1333h2V1336.5h1V1339h1V1339.5h1V1340.5h2V1341h1V1341.5h2V1339.5h1V1342h4V1340.5h1V1340h1V1342h12V1341.5h1V1342h6V1340h1V1342h14V1341.5h1V1339.5h1V1342h1V1341.5h2V1341h1V1340.5h1V1340h1V1336h1V1334.5h1V1337.5h1V1340.5h4V1342h18V1340.5h1V1342h14V1341.5h1V1341h1V1342h16V1342.1Z" fill="#262b8c" stroke="none" stroke-width="1"/>
<line x1="804" y1="1342.6" x2="1194.4" y2="1342.6" stroke="#4a4a4a" stroke-width="1"/>
<path d="M804 1445.3V1445.3V1445.5h4V1444h1V1445.5h3V1444h1V1445.5h4V1444.5h1V1445.5h2V1444.5h1V1445.5h4V1444.5h1V1445.5h7V1443.5h1V1445.5h13V1443.5h1V1445.5h3V1444.5h1V1445.5h1V1443.5h1V1445.5h2V1444h1V1445.5h1V1443.5h1V1445.5h32V1445h1V1445.5h8V1444h1V1445.5h25V1445h1V1444.5h1V1444h1V1443h1V1442.5h1V1440h2V1442h1V1443h1V1443.5h2V1444.5h1V1445h1V1445.5h6V1444h1V1445.5h22V1444.5h1V1445.5h19V1444.5h2V1444h2V1443h2V1441h1V1437.5h2V1442h1V1443h1V1443.5h1V1444h2V1444.5h2V1445.5h17V1445h1V1444.5h1V1444h1V1443h1V1442h1V1440.5h1V1440h1V1439.5h1V1436h1V1434h1V1437h1V1439.5h1V1441h1V1441.5h1V1442.5h1V1443h1V1444h1V1444.5h1V1445.5h12V1444.5h1V1445.5h5V1444.5h1V1445.5h1V1445h1V1444.5h1V1443.5h1V1443h1V1440.5h1V1437.5h1V1432h1V1423.5h1V1402h2V1419.5h1V1432h1V1436h1V1439.5h1V1438.5h1V1441h2V1437.5h1V1432.5h2V1440h1V1441.5h1V1442.5h1V1443.5h2V1444h1V1444.5h2V1445h1V1445.5h18V1444h1V1445.5h7V1443h1V1445.5h20V1445h1V1445.5h4V1444.5h1V1445.5h1V1443.5h1V1445.5h1V1444h1V1445.5h5V1444.5h1V1445.5h4V1443h1V1445.5h1V1445h1V1444.5h2V1443.5h1V1442.5h1V1443.5h1V1444.5h2V1445h1V1445.5h26V1444.5h1V1445.5h1V1445.3Z" fill="#262b8c" stroke="none" stroke-width="1"/>
<line x1="804" y1="1445.8" x2="1194.4" y2="1445.8" stroke="#4a4a4a" stroke-width="1"/>
<path d="M804 1549.8V1549.8V1550h1V1549h1V1550h8V1548.5h1V1550h19V1548.5h1V1550h4V1549h1V1550h5V1549h1V1550h1V1549h1V1548.5h1V1549.5h1V1550h11V1549h1V1550h8V1548h1V1550h2V1549h1V1550h8V1549h1V1550h2V1549.5h1V1550h2V1548h1V1550h3V1549h1V1549.5h1V1550h4V1548.5h1V1550h21V1549h1V1550h1V1548h1V1550h3V1549h1V1548.5h1V1548h1V1547h1V1543.5h1V1545h1V1544h1V1545h1V1546.5h1V1547h1V1547.5h1V1548.5h1V1549h1V1550h2V1549.5h1V1550h12V1547h1V1550h9V1549h1V1550h2V1549.5h1V1550h4V1549h2V1546.5h1V1548h1V1543.5h1V1544h1V1548h1V1548.5h1V1549h2V1550h17V1548.5h1V1550h2V1548.5h1V1549.5h1V1550h1V1547h1V1550h2V1549.5h1V1550h2V1549h1V1550h5V1548.5h1V1549.5h1V1550h8V1549.5h1V1549h2V1548.5h2V1545.5h1V1547.5h1V1546.5h1V1547h1V1546h3V1545h1V1543.5h1V1546h1V1545.5h1V1546h1V1546.5h2V1547.5h2V1548h1V1547.5h1V1548h1V1549h1V1549.5h1V1550h5V1546.5h1V1549h1V1548h1V1547h1V1543.5h1V1537.5h1V1530h1V1532h1V1537h1V1532.5h1V1535h1V1543.5h2V1545.5h1V1546.5h1V1546h1V1544.5h1V1541.5h1V1540.5h1V1545.5h1V1546h1V1547.5h1V1548h2V1548.5h3V1549h1V1549.5h1V1550h4V1549.5h1V1550h3V1549h1V1548h1V1550h2V1548.5h1V1550h13V1548.5h1V1550h1V1549h1V1550h21V1547.5h1V1550h4V1548.5h1V1550h5V1548.5h1V1550h4V1549h1V1548.5h1V1550h5V1547.5h1V1550h21V1549.5h2V1550h1V1547.5h1V1550h2V1549.5h1V1549h1V1548.5h1V1548h1V1540h1V1543h1V1549.8Z" fill="#262b8c" stroke="none" stroke-width="1"/>
<line x1="804" y1="1550.3" x2="1194.4" y2="1550.3" stroke="#4a4a4a" stroke-width="1"/>
<path d="M804 1653V1653h21V1652.5h1V1653h10V1652.5h1V1653h4V1652.5h1V1653h1V1652h1V1653h3V1652.5h1V1653h2V1650h1V1652.5h1V1653h2V1652.5h1V1653h18V1652.5h1V1653h5V1652.5h2V1652h1V1650.5h2V1652h1V1652.5h1V1650h1V1653h38V1652.5h1V1652h1V1651.5h1V1651h1V1649.5h2V1648h1V1647.5h1V1645.5h2V1647h1V1648h1V1648.5h1V1649h1V1648.5h1V1651.5h1V1652h1V1651.5h1V1653h8V1651.5h1V1653h10V1652.5h1V1653h5V1652.5h2V1652h2V1651h1V1650h1V1648h2V1651h1V1650.5h1V1652h1V1650h1V1652.5h2V1653h9V1652h1V1650.5h1V1649h1V1647.5h1V1644h2V1646.5h1V1648h1V1650.5h1V1649.5h1V1653h19V1652h1V1651h1V1652h1V1651.5h1V1651h1V1649.5h1V1646h1V1645h1V1639.5h1V1630.5h1V1625.5h1V1632.5h1V1641h1V1644.5h1V1647.5h1V1650h1V1651.5h1V1652h1V1652.5h2V1650h1V1653h5V1651.5h1V1653h12V1652.5h1V1652h1V1651.5h1V1650.5h1V1648h1V1642.5h1V1636h1V1622h1V1599h2V1621.5h1V1637h1V1644.5h1V1648h1V1646.5h1V1650h2V1650.5h1V1648.5h1V1643.5h2V1648h1V1650.5h2V1651.5h2V1652h2V1652.5h5V1652h1V1651.5h3V1651h1V1648.5h1V1644.5h2V1649.5h1V1651h2V1650.5h1V1651.5h1V1652h1V1651h1V1651.5h1V1653h1V1651.5h1V1653h9V1650.5h1V1653h2V1652.5h1V1652h2V1651h1V1648h2V1651h1V1651.5h3V1651h1V1651.5h2V1649.5h1V1648h1V1647h1V1649h1V1651.5h1V1648.5h1V1652h1V1649.5h1V1652.5h1V1650.5h1V1653h2V1652.5h1V1653h2V1652.5h1V1653h3V1652h2V1653h2V1652h1V1653h5V1652.5h1V1651h1V1650.5h1V1653h5V1652h1V1652.5h2V1653h9V1652.5h1V1653h1V1650.5h1V1653h1V1650h1V1651h1V1653h4V1653Z" fill="#262b8c" stroke="none" stroke-width="1"/>
<line x1="804" y1="1653.5" x2="1194.4" y2="1653.5" stroke="#4a4a4a" stroke-width="1"/>
<path d="M804 1756.6V1756.6V1756.5h7V1756h1V1756.5h15V1756h1V1756.5h31V1755.5h1V1756.5h2V1754.5h1V1756.5h18V1755h1V1756.5h8V1754.5h1V1756.5h7V1755h1V1756.5h13V1754.5h1V1756.5h14V1756h2V1755h1V1754.5h1V1754h1V1753h1V1752.5h2V1753h1V1753.5h1V1754.5h1V1755h1V1756h2V1756.5h24V1755h1V1756.5h3V1756h1V1754.5h1V1756h2V1755h1V1753.5h2V1755h1V1756h4V1756.5h9V1756h4V1755h1V1753.5h2V1755h1V1756h1V1755h1V1756h2V1756.5h13V1755.5h1V1756.5h5V1756h2V1755.5h1V1755h1V1754h1V1752h1V1751h1V1748.5h1V1741.5h1V1738.5h1V1743h1V1749h1V1751.5h1V1753h1V1754h1V1754.5h2V1755h2V1754h1V1751h1V1751.5h1V1754h1V1755h1V1755.5h2V1756h2V1756.5h11V1756h1V1755.5h2V1754h1V1752.5h1V1749h1V1745h1V1732h2V1741.5h1V1750h1V1752h1V1754h1V1755h1V1755.5h1V1755h1V1754h1V1750.5h1V1744.5h2V1751h1V1754h1V1755.5h1V1754.5h1V1756.5h17V1755h1V1756.5h74V1756h1V1756.5h17V1756.6Z" fill="#262b8c" stroke="none" stroke-width="1"/>
<line x1="804" y1="1757.1" x2="1194.4" y2="1757.1" stroke="#4a4a4a" stroke-width="1"/>
<path d="M804 1860.8V1860.8V1861h2V1859.5h1V1861h2V1859.5h1V1861h2V1860h1V1861h3V1860h1V1861h6V1859.5h1V1861h5V1860.5h2V1861h4V1860.5h1V1860h1V1859.5h2V1859h1V1853.5h1V1854h1V1858.5h1V1858h1V1859.5h1V1859h1V1860.5h1V1861h13V1860h1V1861h1V1859.5h1V1858h1V1861h6V1860h1V1859h1V1861h4V1860.5h1V1861h5V1860.5h1V1861h3V1859h1V1861h3V1859.5h1V1861h10V1858h1V1861h9V1858.5h1V1861h1V1860h1V1861h7V1859.5h1V1861h2V1860h1V1861h2V1860.5h1V1858h1V1859h1V1858h1V1857h1V1854.5h1V1854h2V1856.5h1V1857.5h1V1858h1V1859.5h1V1860h1V1860.5h1V1861h5V1860.5h1V1861h2V1858h1V1861h10V1860.5h1V1861h11V1860.5h1V1861h15V1860h1V1861h4V1860h1V1859h1V1861h1V1859h1V1861h1V1860h1V1861h6V1860.5h1V1861h7V1858h1V1861h9V1860.5h1V1860h1V1858h2V1856.5h1V1855h1V1851h1V1848h1V1849.5h1V1855h1V1856.5h1V1858h1V1859.5h1V1859h1V1858h1V1860h1V1859h1V1861h3V1860.5h1V1860h1V1861h14V1860.5h1V1860h1V1858h1V1858.5h1V1856.5h1V1855h1V1852h1V1842.5h2V1851h1V1852.5h1V1855.5h1V1857h2V1856.5h1V1848.5h1V1849.5h1V1852.5h1V1856.5h1V1855.5h1V1849.5h1V1850h1V1857.5h1V1856h1V1859h1V1859.5h1V1860h1V1861h20V1860.5h1V1861h13V1860h1V1861h1V1860.5h1V1860h1V1859h1V1859.5h1V1857h1V1856.5h1V1859.5h1V1860h2V1859.5h1V1860h3V1858h1V1856.5h1V1857h1V1859.5h1V1860h2V1860.5h1V1861h6V1860h1V1861h4V1859h1V1861h4V1859h1V1861h2V1859.5h1V1860.5h1V1861h31V1860.8Z" fill="#262b8c" stroke="none" stroke-width="1"/>
<line x1="804" y1="1861.3" x2="1194.4" y2="1861.3" stroke="#4a4a4a" stroke-width="1"/>
<rect x="799.8" y="1030" width="3.8" height="100" fill="#3b76b3"/>
<rect x="799.8" y="1134.4" width="3.8" height="100" fill="#3b76b3"/>
<rect x="799.8" y="1238.8" width="3.8" height="100" fill="#3b76b3"/>
<rect x="799.8" y="1343.2" width="3.8" height="100" fill="#d02a2d"/>
<rect x="799.8" y="1447.6" width="3.8" height="100" fill="#d02a2d"/>
<rect x="799.8" y="1552" width="3.8" height="100" fill="#a65da9"/>
<rect x="799.8" y="1656.4" width="3.8" height="100" fill="#a65da9"/>
<rect x="799.8" y="1760.8" width="3.8" height="100" fill="#a65da9"/>
<path d="M1210 1134V1134h2V1129.5h1V1134h8V1132.5h1V1134h4V1131h1V1134h2V1130.5h1V1134h1V1132.5h1V1134h10V1129.5h1V1132.5h1V1130h1V1134h6V1132h1V1132.5h1V1129.5h1V1132.5h1V1133h1V1131h1V1125.5h1V1107.5h2V1127h1V1131h1V1133h1V1134h1V1131.5h1V1134h1V1130.5h1V1133h1V1134h5V1128.5h1V1129.5h1V1116h1V1085h1V1102h1V1120h1V1127.5h1V1126.5h1V1118h1V1123h1V1129.5h1V1130.5h1V1131.5h1V1132h1V1131h1V1128h1V1126h1V1131.5h1V1132.5h2V1129.5h1V1133.5h1V1134h2V1131h1V1134h6V1130.5h1V1134h2V1132h1V1134h10V1133h1V1134h4V1133h1V1134h2V1132.5h1V1130h1V1117.5h1V1104.5h1V1121.5h1V1130.5h1V1133h1V1134h3V1129h1V1129.5h1V1134h1V1132.5h1V1134h10V1133h1V1134h7V1133h1V1130h1V1131.5h1V1127.5h1V1122.5h1V1099.5h1V1108.5h1V1125h1V1129.5h1V1130.5h1V1133.5h1V1134h3V1132.5h1V1134h1V1129h1V1130.5h1V1132.5h1V1134h4V1133h1V1134h4V1133h1V1134h9V1133h1V1134h2V1133.5h1V1132.5h1V1129h1V1122.5h1V1112.5h1V1122.5h1V1129.5h1V1131h2V1129h1V1124h1V1108.5h1V1121h1V1128.5h1V1130.5h1V1132.5h1V1133.5h1V1133h2V1134h2V1132.5h1V1133h2V1132h1V1128h2V1115h1V1103.5h1V1120h1V1127h1V1130.5h1V1132h1V1133.5h1V1134h1V1131h1V1134h2V1132.5h2V1130.5h1V1126.5h1V1120.5h1V1105.5h1V1043.5h1V1074.5h1V1117h1V1124.5h1V1129h1V1131.5h1V1133h1V1134h3V1131h1V1133h1V1134h1V1133h1V1134h1V1131.5h1V1134h7V1132h1V1134h1V1133h1V1132.5h1V1132h1V1129.5h1V1121h1V1128h1V1132h1V1131h1V1132.5h2V1131.5h1V1130h1V1125.5h1V1121.5h1V1117.5h1V1106h1V1068.5h1V1050h1V1104.5h1V1112h1V1116.5h1V1122h1V1128.5h1V1130.5h1V1132h1V1133.5h1V1131.5h1V1134h7V1130.5h1V1132.5h1V1134h1V1133.5h1V1129h1V1130.5h1V1128h1V1117.5h1V1108h1V1125.5h1V1129.5h1V1130h1V1132.5h1V1133.5h1V1129.5h1V1134h1V1131.5h1V1134h2V1133h2V1134h1V1133.5h1V1132h1V1131h1V1131.5h1V1126.5h1V1124.5h1V1126h1V1131h1V1132.5h1V1133.5h1V1129.5h1V1134h5V1132h1V1134h1V1132h1V1134h3V1131.5h1V1133h1V1134h2V1132.5h1V1134h9V1133h1V1130h1V1134h3V1133h1V1132.5h1V1129h1V1126h1V1120h1V1127.5h2V1128.5h1V1130.5h1V1129h1V1131h1V1129.5h1V1125h1V1126.5h1V1131.5h1V1132.5h1V1131h1V1134h3V1130.5h1V1133h1V1131.5h1V1130.5h1V1131h1V1130h1V1120.5h2V1130h1V1131h1V1132h1V1132.5h1V1134Z" fill="#262b8c" stroke="none" stroke-width="1"/>
<line x1="1210" y1="1134.5" x2="1597" y2="1134.5" stroke="#4a4a4a" stroke-width="1"/>
<path d="M1210 1238V1238V1235.5h1V1233h1V1229h1V1232h1V1235.5h1V1236h4V1235.5h1V1232h1V1230h1V1233.5h1V1236.5h2V1237h1V1237.5h1V1236.5h1V1238h1V1236.5h1V1238h8V1235h1V1235.5h1V1238h1V1237h1V1238h2V1237h1V1238h1V1234.5h1V1238h1V1235.5h1V1238h6V1237h1V1235h1V1225h1V1206h1V1202.5h1V1227h1V1231.5h1V1237h1V1238h6V1233.5h1V1238h3V1235.5h1V1229h1V1222.5h1V1198h1V1212.5h1V1231h1V1235.5h1V1232.5h1V1238h6V1234.5h1V1237h1V1238h5V1236.5h1V1238h6V1234h1V1238h1V1233h1V1238h7V1237h1V1238h2V1236h1V1238h2V1235.5h1V1238h6V1237h1V1235.5h1V1234h1V1231h1V1218h1V1202.5h1V1221.5h1V1224h1V1223h1V1215h1V1223h1V1233.5h2V1236h1V1236.5h1V1235.5h1V1234.5h1V1236h1V1231.5h1V1231h1V1234h1V1236.5h1V1237h2V1237.5h1V1238h5V1237h1V1235h1V1237h1V1238h1V1237h1V1238h1V1237h1V1234.5h1V1225h1V1212.5h1V1218h1V1231.5h1V1235.5h1V1234.5h1V1238h1V1237h1V1238h1V1236h1V1237h1V1238h1V1234h2V1235h1V1238h1V1233h1V1238h2V1236.5h1V1238h2V1237.5h1V1236.5h1V1235.5h1V1235h1V1223.5h2V1231.5h1V1230.5h1V1236.5h1V1237.5h1V1238h1V1233h1V1238h1V1237h1V1238h1V1237.5h1V1235.5h1V1231h1V1224h1V1211.5h1V1224h1V1232h1V1234.5h1V1235h1V1234h1V1226.5h1V1218.5h1V1223.5h1V1233.5h1V1235.5h1V1236.5h1V1236h1V1238h1V1236h1V1238h3V1234.5h1V1235h1V1236h1V1235.5h1V1234.5h1V1228.5h1V1221h1V1229.5h1V1234.5h2V1237h1V1238h1V1236.5h1V1238h5V1236.5h1V1230.5h1V1226h1V1222.5h1V1195.5h1V1205.5h1V1228.5h1V1231h1V1236h1V1237.5h1V1238h3V1236.5h1V1238h2V1237h1V1234.5h1V1238h3V1235.5h1V1238h10V1233h1V1237h1V1233.5h1V1238h2V1237h1V1238h1V1233.5h3V1229h1V1226h1V1218.5h1V1192.5h1V1182h1V1216.5h1V1214.5h1V1226.5h1V1228.5h1V1233.5h1V1236.5h2V1238h5V1237h1V1238h2V1237h1V1238h3V1237.5h1V1237h1V1234.5h1V1234h1V1228h1V1222.5h1V1229.5h1V1235.5h1V1236.5h1V1237h1V1236.5h1V1238h2V1236h1V1238h3V1236h1V1238h1V1237.5h1V1236.5h1V1234h1V1234.5h1V1225h2V1232.5h1V1235.5h1V1236.5h1V1237h1V1237.5h1V1234.5h1V1237h1V1238h7V1236h1V1238h5V1235h1V1237h1V1238h4V1236h1V1238h7V1237.5h1V1236.5h1V1235.5h1V1231h1V1226.5h1V1217.5h1V1229.5h1V1233.5h1V1235.5h1V1237h1V1237.5h1V1237h1V1238h5V1235.5h1V1237h1V1238h3V1236.5h1V1236h1V1231.5h1V1232.5h1V1234.5h1V1226.5h1V1227.5h1V1234.5h1V1231h1V1236.5h1V1237h1V1238Z" fill="#262b8c" stroke="none" stroke-width="1"/>
<line x1="1210" y1="1238.5" x2="1597" y2="1238.5" stroke="#4a4a4a" stroke-width="1"/>
<path d="M1210 1341V1341h1V1340h2V1341h2V1340.5h1V1340h1V1338.5h1V1339.5h1V1335.5h1V1335h1V1329h1V1336h1V1338.5h1V1339.5h1V1340h1V1340.5h1V1341h1V1339.5h1V1337h1V1341h2V1338h1V1341h3V1339.5h1V1341h1V1339h1V1341h1V1337.5h1V1337h1V1337.5h1V1339.5h1V1341h6V1339h1V1339.5h1V1341h1V1339.5h1V1337h1V1339.5h1V1336.5h1V1331h1V1300.5h2V1329h1V1337h1V1338.5h1V1341h2V1340h3V1338.5h1V1340h1V1341h2V1339.5h2V1335.5h1V1328h1V1303.5h1V1316.5h1V1335.5h1V1338.5h1V1336h1V1341h1V1337.5h1V1341h1V1336h1V1341h2V1339.5h1V1341h2V1337h1V1341h1V1336.5h1V1341h6V1339.5h1V1338.5h1V1341h3V1339.5h1V1341h5V1339.5h1V1341h3V1338.5h1V1340h1V1341h6V1338.5h1V1340h1V1336h1V1340.5h1V1338h1V1334h1V1323h1V1309h1V1327.5h1V1337h1V1339.5h1V1341h1V1337h1V1337.5h1V1341h3V1339.5h1V1340h1V1338.5h1V1341h5V1339.5h1V1338h1V1341h2V1337h1V1341h2V1340h1V1341h5V1340h1V1338h1V1332.5h1V1310.5h1V1319.5h1V1333h1V1337h1V1340.5h1V1341h2V1337.5h1V1341h3V1339.5h1V1341h1V1339.5h1V1341h2V1338h1V1341h2V1340h1V1341h8V1339h1V1341h3V1340h1V1341h1V1339h1V1340.5h1V1339.5h1V1337.5h1V1337h1V1332.5h1V1326.5h1V1329.5h1V1337h1V1334h1V1337h1V1335.5h1V1332h1V1316.5h1V1329.5h1V1336.5h1V1338.5h1V1339.5h2V1341h1V1338.5h1V1341h2V1337.5h1V1341h1V1340.5h1V1339h1V1338.5h1V1334h1V1331.5h1V1324h1V1334h1V1333h1V1339h1V1340h1V1341h5V1340.5h1V1339.5h1V1338.5h1V1334h1V1330.5h1V1319h1V1280h1V1300h1V1328h1V1330.5h1V1336.5h1V1339.5h1V1340.5h1V1341h1V1339h1V1341h2V1340h1V1339.5h1V1341h2V1338.5h1V1341h7V1339h1V1341h3V1339.5h1V1341h1V1339h1V1341h5V1340h1V1338.5h1V1336h1V1331h1V1327.5h1V1320h1V1289h1V1274.5h1V1317h1V1326h1V1329h1V1334.5h1V1334h1V1339.5h1V1336h1V1341h1V1340h1V1341h7V1340h1V1341h1V1338h1V1340.5h1V1339.5h1V1338.5h1V1337h1V1329h1V1322h1V1332.5h1V1337.5h1V1338.5h1V1340h2V1341h1V1340h1V1341h1V1338.5h1V1341h3V1338h1V1340.5h1V1339h1V1337.5h1V1338.5h1V1334.5h1V1332.5h1V1336h1V1335h1V1336.5h1V1327h1V1329h1V1338.5h1V1339h1V1338.5h1V1340.5h1V1338.5h1V1337h1V1341h1V1338.5h1V1336.5h1V1341h3V1339h1V1336.5h1V1341h1V1339h1V1341h1V1339h1V1341h5V1338h1V1341h2V1338h1V1341h1V1340h1V1340.5h1V1339.5h1V1333.5h1V1336.5h1V1325h1V1320.5h1V1332.5h1V1336.5h1V1338.5h1V1336.5h1V1340.5h1V1338.5h1V1337h1V1341h2V1339.5h1V1338.5h1V1341h5V1340.5h1V1335h1V1338.5h1V1336.5h1V1335h1V1319.5h1V1316.5h1V1336h1V1336.5h1V1338.5h1V1339.5h1V1341Z" fill="#262b8c" stroke="none" stroke-width="1"/>
<line x1="1210" y1="1341.5" x2="1597" y2="1341.5" stroke="#4a4a4a" stroke-width="1"/>
<path d="M1210 1444.6V1444.6V1444.5h3V1443.5h1V1441h1V1444h1V1443.5h1V1443h1V1440.5h1V1442h1V1438h1V1434h1V1437.5h1V1441h1V1443h1V1443.5h1V1443h1V1444h1V1444.5h2V1439.5h1V1444.5h14V1441h1V1444.5h5V1440h1V1443h2V1442.5h1V1441.5h1V1439h1V1436.5h1V1412h2V1434.5h1V1436h1V1440.5h1V1442.5h1V1442h1V1444.5h6V1444h1V1442.5h1V1439h1V1435.5h1V1428.5h1V1402h1V1413h1V1434.5h1V1439.5h1V1440.5h1V1442.5h1V1444.5h9V1444h1V1441h1V1443.5h1V1444.5h1V1443.5h2V1444.5h6V1441h1V1444.5h6V1443.5h1V1444.5h1V1441h1V1443.5h1V1444.5h5V1444h1V1439.5h1V1444.5h3V1443.5h1V1443h1V1442h1V1440.5h1V1432.5h1V1423h1V1435.5h1V1439.5h1V1442h1V1443.5h1V1444h1V1444.5h2V1440.5h1V1444.5h3V1442.5h1V1442h1V1444.5h2V1444h1V1444.5h2V1444h1V1444.5h6V1442h1V1444.5h3V1443.5h1V1442.5h1V1437.5h1V1438.5h1V1420.5h1V1425h1V1435.5h1V1440.5h1V1439.5h1V1444h1V1444.5h3V1443.5h1V1443h1V1440h1V1444h1V1444.5h7V1443h1V1444.5h4V1442.5h1V1444.5h1V1442h1V1444.5h4V1439.5h1V1440h1V1444.5h1V1444h1V1443.5h1V1442.5h1V1442h1V1437h1V1431h1V1437h1V1441h1V1442.5h1V1439.5h1V1443.5h1V1441.5h1V1444.5h1V1442h1V1441.5h1V1444.5h3V1442h1V1444.5h2V1444h1V1444.5h2V1440.5h1V1443.5h1V1443h1V1441.5h1V1436h1V1431h1V1438.5h1V1441h1V1443h1V1444h1V1444.5h2V1442.5h1V1444.5h2V1441.5h1V1444h1V1442h1V1439.5h1V1433h1V1416.5h1V1368.5h1V1395h1V1427.5h1V1435h1V1439h1V1443.5h1V1444.5h3V1439.5h1V1441h1V1444.5h1V1443.5h1V1444.5h1V1439.5h1V1444.5h5V1442h1V1442.5h1V1444.5h5V1441.5h1V1444.5h3V1443.5h1V1444.5h1V1442h1V1444.5h1V1444h1V1442h1V1440.5h1V1436.5h1V1430.5h1V1426.5h1V1398.5h1V1389.5h1V1421h1V1427h1V1433.5h1V1439h1V1441.5h1V1443.5h1V1444h1V1444.5h3V1443.5h1V1444.5h3V1443h1V1443.5h1V1444.5h3V1444h1V1439h1V1442.5h1V1441h1V1431.5h1V1425h1V1437.5h1V1439.5h1V1441h1V1443.5h1V1444.5h1V1443.5h1V1444.5h6V1442h1V1444h1V1443.5h1V1439h1V1442h1V1437.5h1V1436h1V1441.5h1V1443h1V1443.5h1V1440h1V1444.5h1V1443h1V1444h1V1443.5h1V1443h1V1441.5h1V1436h1V1434.5h1V1440.5h1V1442.5h1V1439.5h1V1444h1V1442h1V1443.5h1V1444.5h6V1443.5h1V1444.5h3V1444h1V1444.5h2V1443h1V1444.5h1V1444h1V1443h1V1441.5h1V1436.5h2V1427h1V1407.5h1V1432h1V1439h1V1441.5h1V1442h1V1444.5h7V1443.5h1V1444.5h4V1444h1V1443.5h2V1438.5h1V1441h1V1434.5h1V1436h1V1442h1V1443h1V1443.5h2V1444.6Z" fill="#262b8c" stroke="none" stroke-width="1"/>
<line x1="1210" y1="1445.1" x2="1597" y2="1445.1" stroke="#4a4a4a" stroke-width="1"/>
<path d="M1210 1548.5V1548.5V1545h1V1540h1V1533h1V1539h1V1545.5h1V1546h1V1542.5h1V1547h1V1546h1V1542h1V1530.5h1V1523h1V1535.5h1V1543h1V1546.5h1V1548h1V1548.5h1V1546.5h1V1548.5h3V1547.5h1V1546.5h1V1547.5h1V1548.5h3V1543.5h1V1548.5h2V1546.5h1V1544.5h1V1548.5h1V1546h1V1548.5h2V1545.5h1V1548.5h3V1547h1V1548.5h1V1545.5h1V1548.5h2V1547.5h1V1546h1V1540h1V1529h2V1541h1V1546h1V1547.5h1V1548.5h3V1547h1V1548.5h4V1548h1V1547.5h1V1546h1V1547h1V1542h1V1540.5h1V1541.5h1V1546h1V1547h1V1546h1V1547h1V1546.5h1V1546h1V1544.5h1V1532.5h1V1536.5h1V1545h1V1546h1V1547h1V1548h1V1546h1V1548.5h3V1544.5h1V1548.5h5V1547.5h1V1548.5h2V1547.5h1V1548.5h2V1547.5h1V1548.5h4V1547h1V1548.5h2V1547.5h1V1547h1V1548.5h7V1546h1V1548h1V1545.5h1V1536h1V1525.5h1V1507.5h1V1527h1V1535.5h1V1532.5h1V1507h1V1524.5h1V1540.5h1V1543.5h1V1545.5h1V1544.5h1V1547h1V1548.5h3V1547h1V1545h1V1548.5h3V1547h1V1548.5h3V1544h1V1547.5h1V1548.5h5V1547.5h1V1545.5h1V1540h1V1535.5h1V1515h1V1522.5h1V1541.5h1V1543.5h1V1546.5h1V1544.5h1V1543.5h1V1547.5h1V1548.5h2V1546.5h1V1548.5h1V1543.5h1V1548.5h4V1544.5h1V1548.5h3V1547.5h1V1546.5h1V1545h1V1543h1V1527.5h1V1525.5h1V1544h1V1543.5h1V1546.5h1V1547.5h1V1548.5h1V1544h2V1546.5h1V1547.5h1V1548.5h4V1545.5h1V1547.5h1V1545.5h1V1548.5h1V1545.5h1V1544.5h1V1546h1V1547.5h1V1548.5h5V1546.5h1V1545h1V1548.5h5V1546.5h1V1542.5h1V1547h1V1544.5h1V1541.5h1V1545.5h1V1547h1V1546.5h1V1548h1V1548.5h2V1547.5h1V1548.5h3V1548h1V1547h2V1546h1V1539.5h1V1533h1V1540.5h1V1545.5h1V1546h3V1545.5h1V1540.5h1V1542h1V1546.5h1V1547h1V1547.5h1V1548.5h5V1546h1V1548.5h1V1546h2V1548.5h2V1548h1V1546.5h1V1545.5h2V1544.5h1V1539.5h1V1532.5h1V1538h1V1543.5h1V1540.5h1V1546h1V1545.5h1V1547.5h2V1547h1V1545.5h1V1542.5h1V1539.5h1V1525h1V1519.5h1V1533.5h1V1527h1V1529h1V1541h1V1542h1V1546h1V1546.5h1V1547.5h1V1548h1V1546.5h1V1548.5h1V1547.5h1V1547h1V1548.5h6V1548h1V1547h1V1544.5h1V1543.5h1V1533.5h1V1523.5h1V1541.5h1V1542.5h1V1546h1V1545h1V1547h1V1548.5h4V1547.5h1V1545.5h1V1548.5h2V1548h1V1547h1V1546.5h1V1545h1V1537h1V1534h1V1539h1V1541h2V1538.5h1V1539h1V1544.5h1V1546h1V1546.5h1V1546h2V1541h1V1539h1V1542.5h1V1546h1V1543h1V1545h1V1548.5h2V1547.5h1V1548.5h1V1544h1V1548.5h5V1547h2V1546.5h2V1548.5h2V1547h1V1548.5h1V1548h1V1547h1V1544h1V1543h1V1536h1V1523.5h1V1538.5h1V1544.5h1V1546h1V1547h1V1548h1V1548.5h1V1547h2V1546h1V1541.5h1V1531h1V1533.5h1V1545h1V1544.5h1V1545h1V1547.5h1V1548h1V1544h1V1546h2V1545.5h1V1540.5h2V1545.5h1V1545h1V1547h1V1547.5h1V1548.5Z" fill="#262b8c" stroke="none" stroke-width="1"/>
<line x1="1210" y1="1549" x2="1597" y2="1549" stroke="#4a4a4a" stroke-width="1"/>
<path d="M1210 1653V1653V1652h2V1653h1V1650h1V1653h1V1651h1V1653h1V1652h1V1653h6V1650h1V1653h1V1652h1V1650.5h1V1651h1V1653h2V1648.5h1V1653h11V1649.5h1V1652h1V1653h1V1652h2V1653h1V1651h1V1653h1V1651h1V1652h1V1652.5h1V1647.5h1V1649h1V1648h1V1646h1V1624.5h2V1646.5h1V1647h1V1649.5h1V1651.5h1V1652.5h1V1653h1V1650h1V1653h6V1651.5h1V1648h1V1640.5h1V1612h1V1624.5h1V1645.5h1V1648h1V1647h1V1638.5h1V1643h1V1648.5h1V1650.5h1V1651.5h1V1652.5h1V1652h1V1653h1V1651.5h1V1652h1V1651.5h1V1652h1V1653h2V1651.5h1V1650h1V1653h3V1652h2V1653h1V1652h1V1653h3V1649.5h1V1653h2V1650h1V1652h1V1651h1V1653h4V1652h1V1649h1V1653h2V1651h1V1653h2V1652.5h1V1649h1V1646.5h1V1649h1V1641h1V1631h1V1644h1V1648.5h1V1645.5h1V1652h1V1652.5h1V1652h1V1653h1V1649h1V1653h18V1648.5h1V1648h1V1652.5h1V1651.5h1V1647h1V1647.5h1V1643h1V1622h1V1630h1V1646h1V1648.5h1V1651h1V1649.5h1V1653h3V1651.5h1V1653h1V1652h1V1653h1V1649.5h1V1653h3V1649h1V1653h2V1651.5h1V1649.5h1V1648.5h1V1650.5h2V1638.5h1V1642h1V1648h2V1651.5h1V1652.5h1V1653h1V1649h1V1651.5h1V1653h1V1652.5h1V1650.5h1V1649.5h1V1645h1V1640h1V1621.5h1V1640h1V1647h1V1648.5h2V1646h1V1638.5h1V1623h1V1638h1V1648h1V1649.5h1V1651.5h1V1652.5h1V1653h2V1652h1V1653h3V1652.5h1V1651.5h1V1648h1V1644.5h1V1632.5h1V1613.5h1V1638.5h1V1645.5h1V1649h1V1651.5h1V1653h6V1652.5h1V1650.5h1V1644.5h1V1636.5h1V1624h1V1564.5h1V1595h1V1638.5h1V1642.5h1V1649h1V1652h1V1653h1V1651h1V1653h2V1652h1V1651.5h1V1653h5V1652h3V1653h5V1651h1V1652h1V1653h2V1648.5h1V1653h3V1652h1V1652.5h1V1651.5h1V1646.5h1V1645h1V1636h1V1632.5h1V1621h1V1600.5h1V1585.5h1V1621.5h1V1630h1V1637.5h1V1644.5h1V1648h1V1651h1V1652h1V1650.5h1V1653h1V1652h1V1649.5h1V1653h3V1651.5h1V1653h4V1652.5h1V1651h2V1644.5h1V1643.5h1V1638.5h1V1647.5h1V1650.5h1V1648h1V1652h1V1653h3V1650.5h1V1653h1V1651h1V1653h1V1650.5h1V1653h1V1652.5h1V1652h1V1651.5h1V1651h1V1646h1V1642.5h1V1648h1V1651h1V1651.5h1V1652.5h1V1653h4V1650.5h1V1653h6V1650.5h1V1653h2V1649.5h1V1653h1V1652h1V1653h2V1651.5h1V1653h1V1652h1V1650h1V1653h1V1652h1V1650.5h1V1653h4V1650.5h1V1648.5h1V1651.5h1V1651h1V1646.5h1V1641.5h1V1648h1V1650.5h1V1651.5h1V1652.5h1V1651.5h1V1653h5V1651.5h1V1653h3V1648.5h1V1653h2V1652.5h1V1651.5h1V1648h1V1650h1V1639h1V1642h1V1650.5h2V1651h1V1652.5h1V1653Z" fill="#262b8c" stroke="none" stroke-width="1"/>
<line x1="1210" y1="1653.5" x2="1597" y2="1653.5" stroke="#4a4a4a" stroke-width="1"/>
<path d="M1210 1757V1757V1755h1V1752h1V1747.5h1V1751.5h1V1754.5h1V1755.5h1V1754.5h1V1755h1V1751h1V1753h1V1748.5h1V1742.5h1V1750h1V1752.5h1V1755h2V1752h1V1753.5h1V1752.5h1V1756h1V1757h1V1755.5h1V1757h1V1756h2V1753h1V1757h1V1755h1V1757h2V1753h1V1756h1V1757h6V1756h1V1757h4V1756.5h1V1755h1V1753.5h1V1751.5h1V1748.5h1V1731.5h1V1728.5h1V1751h1V1748h1V1753.5h1V1755h1V1756.5h1V1757h3V1754h1V1757h1V1756h1V1757h1V1756h1V1752h1V1752.5h1V1749.5h1V1733h1V1743.5h1V1753h1V1754h1V1755.5h1V1756.5h1V1757h4V1755.5h1V1756h1V1757h2V1755h1V1757h5V1755h2V1757h1V1756h1V1757h2V1756h2V1757h3V1756h1V1754h1V1757h7V1752.5h1V1757h1V1755.5h1V1752.5h1V1755h1V1757h3V1756.5h1V1754h1V1750h1V1750.5h1V1741h1V1728.5h1V1742.5h1V1749h2V1740.5h1V1747h1V1750.5h2V1754.5h1V1756.5h1V1757h2V1753h1V1756h1V1757h2V1754.5h1V1757h2V1752.5h1V1757h3V1754.5h1V1753h1V1757h5V1756h1V1754.5h1V1752.5h1V1748.5h1V1723h1V1733.5h1V1750.5h1V1752.5h1V1754.5h1V1756h2V1757h4V1756h1V1757h5V1756h1V1757h3V1756.5h1V1752h1V1755.5h1V1755h1V1745.5h1V1746h1V1754.5h1V1755.5h1V1755h1V1756.5h1V1757h2V1753.5h1V1752h1V1757h6V1755h1V1757h7V1755.5h1V1757h5V1755h2V1757h7V1752.5h1V1757h9V1755.5h1V1757h1V1756.5h1V1755.5h1V1754.5h1V1753.5h1V1747.5h1V1748.5h1V1755h1V1755.5h1V1754h1V1756.5h1V1757h7V1754.5h1V1755h1V1757h2V1755h1V1757h2V1756h1V1757h3V1756h2V1755h1V1752.5h1V1750.5h1V1741.5h1V1748h1V1753.5h1V1755h1V1756h1V1756.5h1V1757h1V1756.5h1V1755.5h1V1753.5h1V1750h1V1748h1V1729h1V1717.5h1V1742.5h1V1749h1V1748h1V1754.5h1V1751.5h1V1757h3V1755.5h1V1756h2V1757h9V1753h1V1755.5h1V1754.5h1V1750h1V1746.5h1V1752.5h1V1751.5h1V1755.5h1V1756.5h1V1755.5h1V1757h2V1753.5h1V1752h1V1757h2V1755.5h1V1757h10V1755.5h2V1756h1V1757h6V1753.5h1V1757h4V1754h1V1757h1V1756h1V1753h1V1757h2V1755.5h1V1757h5V1755.5h1V1757h5V1756h1V1755h1V1750h1V1742.5h1V1736.5h1V1749.5h1V1752h1V1755h1V1751.5h1V1757h2V1755h1V1757h1V1752.5h1V1756h1V1752.5h1V1757h1V1756h1V1757h2V1754h1V1757h1V1755.5h1V1754.5h2V1751h1V1745h1V1742.5h1V1753.5h1V1754.5h1V1752h1V1756.5h1V1757Z" fill="#262b8c" stroke="none" stroke-width="1"/>
<line x1="1210" y1="1757.5" x2="1597" y2="1757.5" stroke="#4a4a4a" stroke-width="1"/>
<path d="M1210 1860V1860h1V1854.5h1V1859h1V1860h3V1859.5h1V1857.5h1V1858h1V1856.5h1V1851.5h1V1845h1V1848.5h1V1852h1V1858h1V1859h1V1859.5h1V1860h2V1855.5h1V1860h3V1858.5h1V1860h1V1859h1V1860h1V1857h1V1855.5h1V1860h3V1856h1V1858.5h1V1860h1V1857h1V1860h1V1858.5h1V1860h1V1859h1V1857.5h1V1856h1V1860h1V1859.5h1V1857h1V1857.5h1V1855h1V1852h1V1839.5h2V1852.5h1V1856h1V1856.5h1V1858.5h1V1859.5h1V1860h2V1859h1V1860h1V1859h1V1855.5h1V1860h1V1859h1V1853h1V1856.5h1V1850h1V1842h1V1848.5h1V1856h1V1857.5h1V1858.5h1V1859.5h1V1860h2V1854.5h1V1860h1V1857h1V1857.5h1V1860h1V1859h1V1860h1V1859h1V1860h2V1858h1V1859h1V1860h1V1858h1V1857h1V1857.5h1V1854h1V1860h2V1857.5h1V1856.5h1V1860h4V1859h1V1858.5h1V1860h1V1858h1V1856.5h1V1860h2V1856.5h1V1858.5h1V1860h2V1859h1V1854.5h1V1860h1V1854.5h1V1858.5h1V1857.5h1V1855.5h1V1854h1V1846h1V1837h1V1847.5h1V1852.5h1V1849.5h1V1839.5h1V1847h1V1855.5h2V1855h1V1859.5h1V1857h1V1855.5h1V1860h5V1859h1V1854.5h1V1859h1V1858h1V1856h1V1859.5h1V1856.5h1V1858h1V1857h1V1845.5h1V1846h1V1854.5h1V1854h1V1858h1V1855h1V1850.5h1V1851.5h1V1832h1V1840h1V1853h1V1856.5h2V1860h3V1859h1V1860h5V1859h1V1858.5h1V1854.5h1V1860h1V1858h1V1860h2V1858h1V1859h1V1857.5h1V1856.5h1V1847h1V1844.5h1V1856.5h1V1858h1V1859h1V1854.5h1V1858h1V1856h1V1855h1V1858h1V1860h1V1859h1V1860h1V1859h1V1860h2V1859h1V1857h1V1860h2V1859h1V1860h1V1857.5h1V1860h1V1857.5h1V1860h2V1854.5h1V1860h9V1859h1V1858h1V1860h1V1855.5h1V1860h3V1856.5h1V1860h2V1859h1V1860h1V1856h1V1857h1V1857.5h1V1857h1V1855h1V1852h1V1842h1V1846.5h1V1855.5h1V1857.5h1V1858h1V1854h1V1855.5h2V1860h5V1856h1V1857h1V1858h1V1860h6V1857.5h1V1860h1V1858.5h1V1859h1V1852.5h1V1857.5h1V1855h1V1846h1V1853.5h1V1856h1V1858.5h1V1859h1V1859.5h1V1856.5h1V1860h1V1858.5h1V1857.5h1V1855h1V1846h1V1824.5h1V1809.5h1V1847.5h1V1853.5h1V1856.5h1V1858h1V1855.5h2V1859h2V1860h2V1859h1V1860h2V1859h1V1860h1V1856.5h1V1860h2V1856.5h1V1860h1V1858h2V1857.5h1V1849h1V1846h1V1856h1V1852h1V1853.5h1V1859.5h1V1858.5h1V1860h2V1858.5h1V1855.5h1V1860h1V1859h1V1856h1V1860h6V1859.5h1V1858.5h1V1858h1V1851.5h1V1844.5h1V1845.5h1V1851.5h1V1857.5h1V1858.5h2V1860h1V1859h1V1860h1V1859h1V1860h2V1858h1V1860h1V1856.5h1V1860h1V1858.5h1V1858h1V1854.5h1V1856h1V1860h3V1859h2V1860h2V1858h1V1857h1V1860h2V1859h1V1858.5h2V1857.5h1V1854h1V1849.5h1V1855.5h1V1854h1V1856h1V1854.5h1V1860h2V1859h1V1860h2V1859h1V1858.5h1V1855.5h1V1860h1V1855.5h1V1860h1V1855.5h1V1860h1V1854h1V1858.5h1V1856h1V1857h1V1849.5h1V1846.5h1V1855h1V1857.5h1V1858.5h1V1859.5h1V1860Z" fill="#262b8c" stroke="none" stroke-width="1"/>
<line x1="1210" y1="1860.5" x2="1597" y2="1860.5" stroke="#4a4a4a" stroke-width="1"/>
<rect x="1205" y="1030" width="3.8" height="100" fill="#3b76b3"/>
<rect x="1205" y="1134.4" width="3.8" height="100" fill="#3b76b3"/>
<rect x="1205" y="1238.8" width="3.8" height="100" fill="#3b76b3"/>
<rect x="1205" y="1343.2" width="3.8" height="100" fill="#d02a2d"/>
<rect x="1205" y="1447.6" width="3.8" height="100" fill="#d02a2d"/>
<rect x="1205" y="1552" width="3.8" height="100" fill="#a65da9"/>
<rect x="1205" y="1656.4" width="3.8" height="100" fill="#a65da9"/>
<rect x="1205" y="1760.8" width="3.8" height="100" fill="#a65da9"/>
<text x="393" y="1050.3" font-size="8.6" fill="#333">[0 - 99]</text>
<text x="393" y="1153.1" font-size="8.6" fill="#333">[0 - 99]</text>
<text x="393" y="1255.7" font-size="8.6" fill="#333">[0 - 99]</text>
<text x="393" y="1358.7" font-size="8.6" fill="#333">[0 - 99]</text>
<text x="393" y="1461.4" font-size="8.6" fill="#333">[0 - 99]</text>
<text x="393" y="1564.4" font-size="8.6" fill="#333">[0 - 99]</text>
<text x="393" y="1666.8" font-size="8.6" fill="#333">[0 - 99]</text>
<text x="393" y="1769.8" font-size="8.6" fill="#333">[0 - 99]</text>
<text x="805.4" y="1042.9" font-size="8.6" fill="#333">[0 - 169]</text>
<text x="805.4" y="1147.2" font-size="8.6" fill="#333">[0 - 169]</text>
<text x="805.4" y="1250.1" font-size="8.6" fill="#333">[0 - 169]</text>
<text x="805.4" y="1353.3" font-size="8.6" fill="#333">[0 - 169]</text>
<text x="805.4" y="1457.8" font-size="8.6" fill="#333">[0 - 169]</text>
<text x="805.4" y="1561" font-size="8.6" fill="#333">[0 - 169]</text>
<text x="805.4" y="1664.6" font-size="8.6" fill="#333">[0 - 169]</text>
<text x="805.4" y="1768.8" font-size="8.6" fill="#333">[0 - 169]</text>
<text x="1211" y="1041" font-size="8.6" fill="#333">[0 - 150]</text>
<text x="1211" y="1145" font-size="8.6" fill="#333">[0 - 150]</text>
<text x="1211" y="1248" font-size="8.6" fill="#333">[0 - 150]</text>
<text x="1211" y="1351.6" font-size="8.6" fill="#333">[0 - 150]</text>
<text x="1211" y="1455.5" font-size="8.6" fill="#333">[0 - 150]</text>
<text x="1211" y="1560" font-size="8.6" fill="#333">[0 - 150]</text>
<text x="1211" y="1664" font-size="8.6" fill="#333">[0 - 150]</text>
<text x="1211" y="1767" font-size="8.6" fill="#333">[0 - 150]</text>
<rect x="197" y="1047.5" width="3.2" height="275.5" fill="#000"/>
<rect x="197" y="1363" width="3.2" height="174" fill="#000"/>
<rect x="197" y="1580" width="3.2" height="272" fill="#000"/>
<text x="64" y="1195.2" font-size="34.5" font-weight="bold">WT</text>
<text x="39.5" y="1450.4" font-size="35.5" font-weight="bold">Kras</text>
<text x="113.5" y="1421" font-size="19.5" font-weight="bold">G12D</text>
<text x="49.5" y="1487.5" font-size="37" font-weight="bold">(TAM)</text>
<text x="39.5" y="1705.4" font-size="35.5" font-weight="bold">Kras</text>
<text x="113.5" y="1677.6" font-size="19.5" font-weight="bold">G12D</text>
<text x="3.5" y="1741" font-size="36.3" font-weight="bold">(Pdx1-cre)</text>
<text x="292" y="1087.7" font-size="27" fill="#27388f" text-anchor="middle">NT</text>
<text x="292" y="1113.2" font-size="27" fill="#27388f" text-anchor="middle">(normal duct)</text>
<text x="292" y="1184.5" font-size="27" fill="#c1272d" text-anchor="middle">D2</text>
<text x="292" y="1210" font-size="27" fill="#c1272d" text-anchor="middle">(PDLP)</text>
<text x="292" y="1281" font-size="27" fill="#27388f" text-anchor="middle">D7</text>
<text x="292" y="1306.5" font-size="27" fill="#27388f" text-anchor="middle">(recovery)</text>
<text x="292" y="1397.8" font-size="27" fill="#c1272d" text-anchor="middle">D7</text>
<text x="292" y="1423.3" font-size="27" fill="#c1272d" text-anchor="middle">(Lock in)</text>
<text x="292" y="1493.7" font-size="27" fill="#a54ea6" text-anchor="middle">PDA</text>
<text x="292" y="1519.2" font-size="27" fill="#a54ea6" text-anchor="middle">(Cdkn2a loss)</text>
<text x="292" y="1609.6" font-size="27" fill="#27388f" text-anchor="middle">NT</text>
<text x="292" y="1635.1" font-size="27" fill="#27388f" text-anchor="middle">(“normal duct”)</text>
<text x="292" y="1707" font-size="27" fill="#c1272d" text-anchor="middle">D2</text>
<text x="292" y="1732.5" font-size="27" fill="#c1272d" text-anchor="middle">(PDLP-like)</text>
<text x="292" y="1802.8" font-size="27" fill="#c1272d" text-anchor="middle">D7</text>
<text x="292" y="1828.3" font-size="27" fill="#c1272d" text-anchor="middle">(Lock in)</text>
<rect x="560.5" y="1880" width="33.1" height="7.5" fill="#2a3593"/>
<rect x="579.6" y="1876.8" width="14.4" height="14.5" fill="#2a3593"/>
<rect x="593.6" y="1882.2" width="55.2" height="3.2" fill="#2a3593"/>
<rect x="624" y="1876.8" width="9.7" height="14.5" fill="#2a3593"/>
<rect x="633.7" y="1880" width="8.2" height="7.5" fill="#2a3593"/>
<rect x="647.9" y="1872" width="1.7" height="16" fill="#2a3593"/>
<path d="M648.8 1872.6 L621 1872.6" fill="none" stroke="#000" stroke-width="1.4"/>
<path d="M622.5 1869.6 L616.8 1872.6 L622.5 1875.6 Z" fill="#000" stroke="none" stroke-width="1"/>
<rect x="668" y="1880" width="47.6" height="7.5" fill="#2a3593"/>
<rect x="714.6" y="1876" width="1.8" height="15" fill="#2a3593"/>
<rect x="715.6" y="1882.2" width="63.4" height="3.2" fill="#2a3593"/>
<text x="555" y="1925.6" font-size="35" font-style="italic">Foxj1</text>
<rect x="932.6" y="1880.4" width="3.8" height="7.8" fill="#2a3593"/>
<rect x="936.4" y="1883" width="13.4" height="3" fill="#2a3593"/>
<rect x="949.8" y="1880.4" width="15.3" height="7.8" fill="#2a3593"/>
<rect x="1031.7" y="1877.3" width="10.2" height="14" fill="#2a3593"/>
<rect x="1041.9" y="1882.3" width="153.8" height="4.2" fill="#2a3593"/>
<path d="M1032.6 1877.5 L1032.6 1873.6 L1060 1873.6" fill="none" stroke="#000" stroke-width="1.4"/>
<path d="M1058.5 1870.6 L1064.8 1873.6 L1058.5 1876.6 Z" fill="#000" stroke="none" stroke-width="1"/>
<text x="1048.2" y="1926.1" font-size="35" font-style="italic">Onecut1</text>
<rect x="1207.6" y="1881.7" width="391.9" height="3.7" fill="#2a3593"/>
<rect x="1215" y="1876" width="1.2" height="13.7" fill="#2a3593"/>
<rect x="1234.6" y="1876" width="1.2" height="13.7" fill="#2a3593"/>
<rect x="1239.1" y="1876" width="1.2" height="13.7" fill="#2a3593"/>
<rect x="1285.6" y="1876" width="1.2" height="13.7" fill="#2a3593"/>
<rect x="1480.4" y="1876" width="1.2" height="13.7" fill="#2a3593"/>
<rect x="1519.8" y="1876" width="1.2" height="13.7" fill="#2a3593"/>
<path d="M1387.2 1874 L1357 1874" fill="none" stroke="#000" stroke-width="1.4"/>
<path d="M1359 1871 L1353.3 1874 L1359 1877 Z" fill="#000" stroke="none" stroke-width="1"/>
<text x="1393.5" y="1925" font-size="35" font-style="italic">Tns1</text>
<text x="1618.5" y="989" font-size="43" font-weight="bold">d</text>
<text x="1662.4" y="1082.5" font-size="36" font-weight="bold">K-LOCKED</text>
<text x="1854" y="1071.5" font-size="20.5" font-weight="bold">CLOSED</text>
<path d="M1679.7 1309.5 L1680.7 1309.4 L1681.7 1309.3 L1682.7 1309.1 L1683.7 1309 L1684.7 1308.8 L1685.7 1308.6 L1686.7 1308.5 L1687.7 1308.2 L1688.7 1308 L1689.7 1307.8 L1690.7 1307.5 L1691.7 1307.2 L1692.7 1306.9 L1693.7 1306.6 L1694.7 1306.2 L1695.7 1305.8 L1696.7 1305.4 L1697.7 1305 L1698.7 1304.5 L1699.7 1303.9 L1700.7 1303.4 L1701.7 1302.8 L1702.7 1302.1 L1703.7 1301.4 L1704.7 1300.6 L1705.7 1299.8 L1706.7 1298.9 L1707.7 1298 L1708.7 1297 L1709.7 1295.9 L1710.7 1294.7 L1711.7 1293.4 L1712.7 1292.1 L1713.7 1290.7 L1714.7 1289.1 L1715.7 1287.5 L1716.7 1285.8 L1717.7 1283.9 L1718.7 1282 L1719.7 1279.9 L1720.7 1277.7 L1721.7 1275.4 L1722.7 1272.9 L1723.7 1270.3 L1724.7 1267.6 L1725.7 1264.8 L1726.7 1261.8 L1727.7 1258.8 L1728.7 1255.6 L1729.7 1252.3 L1730.7 1248.9 L1731.7 1245.4 L1732.7 1241.9 L1733.7 1238.2 L1734.7 1234.6 L1735.7 1230.9 L1736.7 1227.3 L1737.7 1223.6 L1738.7 1220.1 L1739.7 1216.6 L1740.7 1213.2 L1741.7 1209.9 L1742.7 1206.9 L1743.7 1204 L1744.7 1201.4 L1745.7 1199.1 L1746.7 1197 L1747.7 1195.3 L1748.7 1193.8 L1749.7 1192.8 L1750.7 1192.1 L1751.7 1191.8 L1752.7 1191.9 L1753.7 1192.3 L1754.7 1193.2 L1755.7 1194.4 L1756.7 1195.9 L1757.7 1197.8 L1758.7 1200 L1759.7 1202.4 L1760.7 1205.1 L1761.7 1208.1 L1762.7 1211.2 L1763.7 1214.5 L1764.7 1217.9 L1765.7 1221.5 L1766.7 1225.1 L1767.7 1228.7 L1768.7 1232.4 L1769.7 1236.1 L1770.7 1239.7 L1771.7 1243.3 L1772.7 1246.8 L1773.7 1250.3 L1774.7 1253.6 L1775.7 1256.9 L1776.7 1260 L1777.7 1263 L1778.7 1265.9 L1779.7 1268.7 L1780.7 1271.4 L1781.7 1273.9 L1782.7 1276.3 L1783.7 1278.6 L1784.7 1280.7 L1785.7 1282.8 L1786.7 1284.7 L1787.7 1286.5 L1788.7 1288.2 L1789.7 1289.8 L1790.7 1291.3 L1791.7 1292.6 L1792.7 1294 L1793.7 1295.2 L1794.7 1296.3 L1795.7 1297.4 L1796.7 1298.4 L1797.7 1299.3 L1798.7 1300.1 L1799.7 1300.9 L1800.7 1301.7 L1801.7 1302.4 L1802.7 1303 L1803.7 1303.6 L1804.7 1304.2 L1805.7 1304.7 L1806.7 1305.1 L1807.7 1305.6 L1808.7 1306 L1809.7 1306.4 L1810.7 1306.7 L1811.7 1307 L1812.7 1307.3 L1813.7 1307.6 L1814.7 1307.9 L1815.7 1308.1 L1816.7 1308.3 L1817.7 1308.5 L1818.7 1308.7 L1819.7 1308.9 L1820.7 1309.1 L1821.7 1309.2 L1822.7 1309.3 L1823.7 1309.5" fill="none" stroke="#c4212f" stroke-width="4.8" stroke-linejoin="round"/>
<path d="M1679.7 1309.5 L1680.7 1309.4 L1681.7 1309.1 L1682.7 1308.9 L1683.7 1308.6 L1684.7 1308.3 L1685.7 1308 L1686.7 1307.7 L1687.7 1307.3 L1688.7 1306.9 L1689.7 1306.5 L1690.7 1306.1 L1691.7 1305.6 L1692.7 1305.1 L1693.7 1304.5 L1694.7 1303.9 L1695.7 1303.2 L1696.7 1302.5 L1697.7 1301.7 L1698.7 1300.9 L1699.7 1299.9 L1700.7 1299 L1701.7 1297.9 L1702.7 1296.8 L1703.7 1295.6 L1704.7 1294.2 L1705.7 1292.8 L1706.7 1291.3 L1707.7 1289.7 L1708.7 1287.9 L1709.7 1286.1 L1710.7 1284 L1711.7 1281.9 L1712.7 1279.6 L1713.7 1277.1 L1714.7 1274.5 L1715.7 1271.7 L1716.7 1268.7 L1717.7 1265.5 L1718.7 1262.1 L1719.7 1258.6 L1720.7 1254.8 L1721.7 1250.8 L1722.7 1246.6 L1723.7 1242.1 L1724.7 1237.5 L1725.7 1232.6 L1726.7 1227.5 L1727.7 1222.3 L1728.7 1216.8 L1729.7 1211.1 L1730.7 1205.3 L1731.7 1199.3 L1732.7 1193.2 L1733.7 1187 L1734.7 1180.7 L1735.7 1174.4 L1736.7 1168.1 L1737.7 1161.8 L1738.7 1155.7 L1739.7 1149.7 L1740.7 1143.8 L1741.7 1138.3 L1742.7 1133 L1743.7 1128.1 L1744.7 1123.6 L1745.7 1119.6 L1746.7 1116 L1747.7 1113 L1748.7 1110.6 L1749.7 1108.8 L1750.7 1107.6 L1751.7 1107.1 L1752.7 1107.2 L1753.7 1108 L1754.7 1109.4 L1755.7 1111.5 L1756.7 1114.1 L1757.7 1117.4 L1758.7 1121.1 L1759.7 1125.3 L1760.7 1130 L1761.7 1135.1 L1762.7 1140.5 L1763.7 1146.1 L1764.7 1152 L1765.7 1158.1 L1766.7 1164.3 L1767.7 1170.6 L1768.7 1176.9 L1769.7 1183.2 L1770.7 1189.5 L1771.7 1195.6 L1772.7 1201.7 L1773.7 1207.6 L1774.7 1213.4 L1775.7 1219 L1776.7 1224.4 L1777.7 1229.6 L1778.7 1234.6 L1779.7 1239.4 L1780.7 1243.9 L1781.7 1248.3 L1782.7 1252.4 L1783.7 1256.3 L1784.7 1260 L1785.7 1263.5 L1786.7 1266.8 L1787.7 1269.9 L1788.7 1272.8 L1789.7 1275.6 L1790.7 1278.1 L1791.7 1280.5 L1792.7 1282.8 L1793.7 1284.9 L1794.7 1286.8 L1795.7 1288.6 L1796.7 1290.4 L1797.7 1291.9 L1798.7 1293.4 L1799.7 1294.8 L1800.7 1296.1 L1801.7 1297.2 L1802.7 1298.3 L1803.7 1299.4 L1804.7 1300.3 L1805.7 1301.2 L1806.7 1302 L1807.7 1302.8 L1808.7 1303.5 L1809.7 1304.1 L1810.7 1304.7 L1811.7 1305.3 L1812.7 1305.8 L1813.7 1306.3 L1814.7 1306.7 L1815.7 1307.1 L1816.7 1307.5 L1817.7 1307.8 L1818.7 1308.2 L1819.7 1308.5 L1820.7 1308.7 L1821.7 1309 L1822.7 1309.2 L1823.7 1309.4" fill="none" stroke="#2b4b9f" stroke-width="4.8" stroke-linejoin="round"/>
<path d="M1679.7 1309.5 L1680.7 1309.4 L1681.7 1309.2 L1682.7 1309 L1683.7 1308.8 L1684.7 1308.6 L1685.7 1308.3 L1686.7 1308.1 L1687.7 1307.8 L1688.7 1307.5 L1689.7 1307.1 L1690.7 1306.8 L1691.7 1306.4 L1692.7 1305.9 L1693.7 1305.5 L1694.7 1305 L1695.7 1304.5 L1696.7 1303.9 L1697.7 1303.3 L1698.7 1302.6 L1699.7 1301.9 L1700.7 1301.1 L1701.7 1300.2 L1702.7 1299.3 L1703.7 1298.4 L1704.7 1297.3 L1705.7 1296.2 L1706.7 1295 L1707.7 1293.7 L1708.7 1292.3 L1709.7 1290.8 L1710.7 1289.2 L1711.7 1287.4 L1712.7 1285.6 L1713.7 1283.6 L1714.7 1281.5 L1715.7 1279.3 L1716.7 1276.9 L1717.7 1274.4 L1718.7 1271.7 L1719.7 1268.8 L1720.7 1265.8 L1721.7 1262.6 L1722.7 1259.2 L1723.7 1255.7 L1724.7 1252 L1725.7 1248.1 L1726.7 1244 L1727.7 1239.8 L1728.7 1235.4 L1729.7 1230.9 L1730.7 1226.3 L1731.7 1221.5 L1732.7 1216.6 L1733.7 1211.6 L1734.7 1206.6 L1735.7 1201.6 L1736.7 1196.6 L1737.7 1191.6 L1738.7 1186.6 L1739.7 1181.8 L1740.7 1177.2 L1741.7 1172.8 L1742.7 1168.5 L1743.7 1164.6 L1744.7 1161 L1745.7 1157.8 L1746.7 1155 L1747.7 1152.6 L1748.7 1150.6 L1749.7 1149.2 L1750.7 1148.3 L1751.7 1147.8 L1752.7 1148 L1753.7 1148.6 L1754.7 1149.7 L1755.7 1151.4 L1756.7 1153.5 L1757.7 1156.1 L1758.7 1159 L1759.7 1162.4 L1760.7 1166.2 L1761.7 1170.2 L1762.7 1174.5 L1763.7 1179 L1764.7 1183.7 L1765.7 1188.6 L1766.7 1193.5 L1767.7 1198.6 L1768.7 1203.6 L1769.7 1208.6 L1770.7 1213.6 L1771.7 1218.6 L1772.7 1223.4 L1773.7 1228.1 L1774.7 1232.7 L1775.7 1237.2 L1776.7 1241.5 L1777.7 1245.7 L1778.7 1249.7 L1779.7 1253.5 L1780.7 1257.1 L1781.7 1260.6 L1782.7 1263.9 L1783.7 1267 L1784.7 1270 L1785.7 1272.8 L1786.7 1275.4 L1787.7 1277.9 L1788.7 1280.2 L1789.7 1282.4 L1790.7 1284.4 L1791.7 1286.4 L1792.7 1288.1 L1793.7 1289.8 L1794.7 1291.4 L1795.7 1292.8 L1796.7 1294.2 L1797.7 1295.5 L1798.7 1296.7 L1799.7 1297.7 L1800.7 1298.8 L1801.7 1299.7 L1802.7 1300.6 L1803.7 1301.4 L1804.7 1302.2 L1805.7 1302.9 L1806.7 1303.5 L1807.7 1304.1 L1808.7 1304.7 L1809.7 1305.2 L1810.7 1305.7 L1811.7 1306.1 L1812.7 1306.5 L1813.7 1306.9 L1814.7 1307.3 L1815.7 1307.6 L1816.7 1307.9 L1817.7 1308.2 L1818.7 1308.4 L1819.7 1308.7 L1820.7 1308.9 L1821.7 1309.1 L1822.7 1309.3 L1823.7 1309.5" fill="none" stroke="#6b9dd4" stroke-width="4.8" stroke-linejoin="round"/>
<rect x="1673.6" y="1098.9" width="158.6" height="223.1" fill="none" stroke="#222" stroke-width="1.6"/>
<text x="1671.6" y="1313.5" font-size="11.5" fill="#333" text-anchor="end">0</text>
<line x1="1671.6" y1="1309.5" x2="1673.6" y2="1309.5" stroke="#333" stroke-width="1"/>
<text x="1671.6" y="1267.7" font-size="11.5" fill="#333" text-anchor="end">10</text>
<line x1="1671.6" y1="1263.7" x2="1673.6" y2="1263.7" stroke="#333" stroke-width="1"/>
<text x="1671.6" y="1221.9" font-size="11.5" fill="#333" text-anchor="end">20</text>
<line x1="1671.6" y1="1217.9" x2="1673.6" y2="1217.9" stroke="#333" stroke-width="1"/>
<text x="1671.6" y="1176.1" font-size="11.5" fill="#333" text-anchor="end">30</text>
<line x1="1671.6" y1="1172.1" x2="1673.6" y2="1172.1" stroke="#333" stroke-width="1"/>
<text x="1671.6" y="1130.3" font-size="11.5" fill="#333" text-anchor="end">40</text>
<line x1="1671.6" y1="1126.3" x2="1673.6" y2="1126.3" stroke="#333" stroke-width="1"/>
<text x="1683" y="1337.8" font-size="11.5" fill="#333" text-anchor="middle">−1000b</text>
<text x="1753" y="1337.8" font-size="11.5" fill="#333" text-anchor="middle">center</text>
<text x="1826" y="1337.8" font-size="11.5" fill="#333" text-anchor="middle">1000b</text>
<line x1="1677.3" y1="1322" x2="1677.3" y2="1324.5" stroke="#333" stroke-width="1"/>
<line x1="1752" y1="1322" x2="1752" y2="1324.5" stroke="#333" stroke-width="1"/>
<line x1="1825.2" y1="1322" x2="1825.2" y2="1324.5" stroke="#333" stroke-width="1"/>
<text transform="translate(1642.7 1216) rotate(-90)" font-size="27.5" text-anchor="middle">ATAC-seq intensity</text>
<line x1="1720" y1="1106.8" x2="1789.6" y2="1106.8" stroke="#333" stroke-width="1.1" stroke-dasharray="4 2.5"/>
<line x1="1748" y1="1146.1" x2="1793" y2="1146.1" stroke="#333" stroke-width="1.1" stroke-dasharray="4 2.5"/>
<line x1="1721.4" y1="1190.8" x2="1800.7" y2="1190.8" stroke="#333" stroke-width="1.1" stroke-dasharray="4 2.5"/>
<line x1="1725.5" y1="1108" x2="1725.5" y2="1128" stroke="#111" stroke-width="1.1"/>
<path d="M1723.5 1113 L1725.5 1108 L1727.5 1113 Z" fill="#111" stroke="none" stroke-width="1"/>
<line x1="1725.5" y1="1189.5" x2="1725.5" y2="1168" stroke="#111" stroke-width="1.1"/>
<path d="M1723.5 1184.5 L1725.5 1189.5 L1727.5 1184.5 Z" fill="#111" stroke="none" stroke-width="1"/>
<line x1="1785" y1="1147.5" x2="1785" y2="1153" stroke="#111" stroke-width="1.1"/>
<path d="M1783 1152.5 L1785 1147.5 L1787 1152.5 Z" fill="#111" stroke="none" stroke-width="1"/>
<line x1="1785" y1="1189.5" x2="1785" y2="1185" stroke="#111" stroke-width="1.1"/>
<path d="M1783 1184.5 L1785 1189.5 L1787 1184.5 Z" fill="#111" stroke="none" stroke-width="1"/>
<text x="1703.7" y="1152.8" font-size="22" text-anchor="middle">****</text>
<text x="1677.5" y="1164.6" font-size="22">1.74X</text>
<text x="1800.2" y="1176" font-size="22" text-anchor="middle">***</text>
<text x="1772" y="1184.7" font-size="22">1.37X</text>
<text x="1842.3" y="1127.6" font-size="36" font-weight="bold">Sample</text>
<text x="1899.4" y="1167.6" font-size="25" text-anchor="middle">WT</text>
<text x="1899.4" y="1204" font-size="25" text-anchor="middle">D2</text>
<text x="1899.4" y="1238.6" font-size="25" text-anchor="middle">D7</text>
<text x="1899.4" y="1277.2" font-size="25" text-anchor="middle">NT</text>
<rect x="1837" y="1188.6" width="10" height="4.4" fill="#c4212f"/>
<rect x="1837" y="1223.2" width="10" height="4.4" fill="#6b9dd4"/>
<rect x="1837" y="1261.2" width="10" height="4.4" fill="#2b4b9f"/>
<path d="M1680.3 1573 L1681.3 1572.9 L1682.3 1572.6 L1683.3 1572.4 L1684.3 1572.1 L1685.3 1571.9 L1686.3 1571.5 L1687.3 1571.2 L1688.3 1570.9 L1689.3 1570.5 L1690.3 1570.1 L1691.3 1569.6 L1692.3 1569.1 L1693.3 1568.6 L1694.3 1568 L1695.3 1567.4 L1696.3 1566.8 L1697.3 1566 L1698.3 1565.3 L1699.3 1564.4 L1700.3 1563.5 L1701.3 1562.6 L1702.3 1561.5 L1703.3 1560.4 L1704.3 1559.2 L1705.3 1557.9 L1706.3 1556.5 L1707.3 1555 L1708.3 1553.4 L1709.3 1551.7 L1710.3 1549.8 L1711.3 1547.8 L1712.3 1545.7 L1713.3 1543.4 L1714.3 1540.9 L1715.3 1538.3 L1716.3 1535.6 L1717.3 1532.6 L1718.3 1529.5 L1719.3 1526.1 L1720.3 1522.6 L1721.3 1518.8 L1722.3 1514.9 L1723.3 1510.7 L1724.3 1506.3 L1725.3 1501.7 L1726.3 1496.9 L1727.3 1491.9 L1728.3 1486.6 L1729.3 1481.2 L1730.3 1475.6 L1731.3 1469.8 L1732.3 1463.9 L1733.3 1457.9 L1734.3 1451.7 L1735.3 1445.5 L1736.3 1439.3 L1737.3 1433 L1738.3 1426.8 L1739.3 1420.7 L1740.3 1414.8 L1741.3 1409 L1742.3 1403.5 L1743.3 1398.3 L1744.3 1393.5 L1745.3 1389 L1746.3 1385 L1747.3 1381.5 L1748.3 1378.5 L1749.3 1376.1 L1750.3 1374.3 L1751.3 1373.2 L1752.3 1372.7 L1753.3 1372.8 L1754.3 1373.6 L1755.3 1375 L1756.3 1377 L1757.3 1379.6 L1758.3 1382.8 L1759.3 1386.5 L1760.3 1390.7 L1761.3 1395.4 L1762.3 1400.4 L1763.3 1405.7 L1764.3 1411.3 L1765.3 1417.2 L1766.3 1423.2 L1767.3 1429.3 L1768.3 1435.5 L1769.3 1441.8 L1770.3 1448 L1771.3 1454.2 L1772.3 1460.3 L1773.3 1466.3 L1774.3 1472.2 L1775.3 1477.9 L1776.3 1483.4 L1777.3 1488.8 L1778.3 1493.9 L1779.3 1498.9 L1780.3 1503.6 L1781.3 1508.1 L1782.3 1512.4 L1783.3 1516.5 L1784.3 1520.4 L1785.3 1524 L1786.3 1527.5 L1787.3 1530.7 L1788.3 1533.8 L1789.3 1536.7 L1790.3 1539.4 L1791.3 1541.9 L1792.3 1544.3 L1793.3 1546.5 L1794.3 1548.6 L1795.3 1550.6 L1796.3 1552.4 L1797.3 1554 L1798.3 1555.6 L1799.3 1557.1 L1800.3 1558.4 L1801.3 1559.7 L1802.3 1560.9 L1803.3 1562 L1804.3 1563 L1805.3 1563.9 L1806.3 1564.8 L1807.3 1565.6 L1808.3 1566.3 L1809.3 1567 L1810.3 1567.7 L1811.3 1568.3 L1812.3 1568.8 L1813.3 1569.3 L1814.3 1569.8 L1815.3 1570.2 L1816.3 1570.6 L1817.3 1571 L1818.3 1571.4 L1819.3 1571.7 L1820.3 1572 L1821.3 1572.2 L1822.3 1572.5 L1823.3 1572.7 L1824.3 1572.9" fill="none" stroke="#6b9dd4" stroke-width="4.8" stroke-linejoin="round"/>
<path d="M1680.3 1573 L1681.3 1572.9 L1682.3 1572.7 L1683.3 1572.5 L1684.3 1572.3 L1685.3 1572.1 L1686.3 1571.9 L1687.3 1571.6 L1688.3 1571.4 L1689.3 1571.1 L1690.3 1570.7 L1691.3 1570.4 L1692.3 1570 L1693.3 1569.6 L1694.3 1569.2 L1695.3 1568.7 L1696.3 1568.2 L1697.3 1567.7 L1698.3 1567.1 L1699.3 1566.4 L1700.3 1565.8 L1701.3 1565 L1702.3 1564.2 L1703.3 1563.4 L1704.3 1562.4 L1705.3 1561.4 L1706.3 1560.4 L1707.3 1559.2 L1708.3 1558 L1709.3 1556.7 L1710.3 1555.2 L1711.3 1553.7 L1712.3 1552.1 L1713.3 1550.3 L1714.3 1548.5 L1715.3 1546.5 L1716.3 1544.3 L1717.3 1542.1 L1718.3 1539.7 L1719.3 1537.1 L1720.3 1534.4 L1721.3 1531.5 L1722.3 1528.5 L1723.3 1525.3 L1724.3 1522 L1725.3 1518.4 L1726.3 1514.7 L1727.3 1510.9 L1728.3 1506.9 L1729.3 1502.7 L1730.3 1498.4 L1731.3 1494 L1732.3 1489.5 L1733.3 1484.9 L1734.3 1480.2 L1735.3 1475.4 L1736.3 1470.6 L1737.3 1465.8 L1738.3 1461.1 L1739.3 1456.4 L1740.3 1451.9 L1741.3 1447.5 L1742.3 1443.3 L1743.3 1439.3 L1744.3 1435.6 L1745.3 1432.1 L1746.3 1429.1 L1747.3 1426.4 L1748.3 1424.1 L1749.3 1422.3 L1750.3 1420.9 L1751.3 1420 L1752.3 1419.6 L1753.3 1419.7 L1754.3 1420.3 L1755.3 1421.4 L1756.3 1423 L1757.3 1425 L1758.3 1427.4 L1759.3 1430.3 L1760.3 1433.5 L1761.3 1437 L1762.3 1440.8 L1763.3 1444.9 L1764.3 1449.2 L1765.3 1453.7 L1766.3 1458.3 L1767.3 1463 L1768.3 1467.7 L1769.3 1472.5 L1770.3 1477.3 L1771.3 1482 L1772.3 1486.7 L1773.3 1491.3 L1774.3 1495.8 L1775.3 1500.2 L1776.3 1504.4 L1777.3 1508.5 L1778.3 1512.5 L1779.3 1516.2 L1780.3 1519.9 L1781.3 1523.3 L1782.3 1526.6 L1783.3 1529.7 L1784.3 1532.7 L1785.3 1535.5 L1786.3 1538.2 L1787.3 1540.7 L1788.3 1543 L1789.3 1545.2 L1790.3 1547.3 L1791.3 1549.2 L1792.3 1551 L1793.3 1552.7 L1794.3 1554.3 L1795.3 1555.8 L1796.3 1557.2 L1797.3 1558.5 L1798.3 1559.7 L1799.3 1560.8 L1800.3 1561.8 L1801.3 1562.8 L1802.3 1563.7 L1803.3 1564.5 L1804.3 1565.3 L1805.3 1566 L1806.3 1566.7 L1807.3 1567.3 L1808.3 1567.9 L1809.3 1568.4 L1810.3 1568.9 L1811.3 1569.4 L1812.3 1569.8 L1813.3 1570.2 L1814.3 1570.5 L1815.3 1570.9 L1816.3 1571.2 L1817.3 1571.5 L1818.3 1571.7 L1819.3 1572 L1820.3 1572.2 L1821.3 1572.4 L1822.3 1572.6 L1823.3 1572.8 L1824.3 1573" fill="none" stroke="#c4212f" stroke-width="4.8" stroke-linejoin="round"/>
<rect x="1674" y="1363.4" width="158" height="221.3" fill="none" stroke="#222" stroke-width="1.6"/>
<text x="1672" y="1577" font-size="11.5" fill="#333" text-anchor="end">0</text>
<line x1="1672" y1="1573" x2="1674" y2="1573" stroke="#333" stroke-width="1"/>
<text x="1672" y="1520.4" font-size="11.5" fill="#333" text-anchor="end">10</text>
<line x1="1672" y1="1516.4" x2="1674" y2="1516.4" stroke="#333" stroke-width="1"/>
<text x="1672" y="1463.8" font-size="11.5" fill="#333" text-anchor="end">20</text>
<line x1="1672" y1="1459.8" x2="1674" y2="1459.8" stroke="#333" stroke-width="1"/>
<text x="1672" y="1407.2" font-size="11.5" fill="#333" text-anchor="end">30</text>
<line x1="1672" y1="1403.2" x2="1674" y2="1403.2" stroke="#333" stroke-width="1"/>
<text x="1683.6" y="1603" font-size="11.5" fill="#333" text-anchor="middle">−1000b</text>
<text x="1753.6" y="1603" font-size="11.5" fill="#333" text-anchor="middle">center</text>
<text x="1826.6" y="1603" font-size="11.5" fill="#333" text-anchor="middle">1000b</text>
<line x1="1677.9" y1="1584.7" x2="1677.9" y2="1587.2" stroke="#333" stroke-width="1"/>
<line x1="1752.6" y1="1584.7" x2="1752.6" y2="1587.2" stroke="#333" stroke-width="1"/>
<line x1="1825.8" y1="1584.7" x2="1825.8" y2="1587.2" stroke="#333" stroke-width="1"/>
<text transform="translate(1644 1483) rotate(-90)" font-size="27.5" text-anchor="middle">ATAC-seq intensity</text>
<line x1="1726" y1="1371.5" x2="1794.2" y2="1371.5" stroke="#333" stroke-width="1.1" stroke-dasharray="4 2.5"/>
<line x1="1726" y1="1417" x2="1765.3" y2="1417" stroke="#333" stroke-width="1.1" stroke-dasharray="4 2.5"/>
<line x1="1730.6" y1="1373" x2="1730.6" y2="1386" stroke="#111" stroke-width="1.1"/>
<path d="M1728.6 1378 L1730.6 1373 L1732.6 1378 Z" fill="#111" stroke="none" stroke-width="1"/>
<line x1="1730.6" y1="1415.5" x2="1730.6" y2="1409" stroke="#111" stroke-width="1.1"/>
<path d="M1728.6 1410.5 L1730.6 1415.5 L1732.6 1410.5 Z" fill="#111" stroke="none" stroke-width="1"/>
<text x="1704.7" y="1395" font-size="22" text-anchor="middle">**</text>
<text x="1679" y="1407.3" font-size="22">1.28X</text>
<text x="1842.3" y="1395" font-size="36" font-weight="bold">Sample</text>
<text x="1902" y="1435.5" font-size="25" text-anchor="middle">D7</text>
<text x="1855" y="1468" font-size="26">Kras</text>
<text x="1909.5" y="1459.5" font-size="15.2">G12D</text>
<text x="1903" y="1500.3" font-size="26.5" text-anchor="middle">(TAM)</text>
<text x="1902" y="1554.6" font-size="25" text-anchor="middle">D7</text>
<text x="1902" y="1587" font-size="25" text-anchor="middle">WT</text>
<rect x="1836" y="1456" width="11" height="4.4" fill="#c4212f"/>
<rect x="1836" y="1550.1" width="11" height="4.4" fill="#6b9dd4"/>
<path d="M1682.2 1839.2 L1683.2 1839.1 L1684.2 1838.8 L1685.2 1838.6 L1686.2 1838.3 L1687.2 1838 L1688.2 1837.7 L1689.2 1837.4 L1690.2 1837.1 L1691.2 1836.7 L1692.2 1836.2 L1693.2 1835.8 L1694.2 1835.3 L1695.2 1834.8 L1696.2 1834.2 L1697.2 1833.6 L1698.2 1832.9 L1699.2 1832.2 L1700.2 1831.4 L1701.2 1830.6 L1702.2 1829.7 L1703.2 1828.7 L1704.2 1827.7 L1705.2 1826.6 L1706.2 1825.3 L1707.2 1824 L1708.2 1822.6 L1709.2 1821.1 L1710.2 1819.5 L1711.2 1817.8 L1712.2 1815.9 L1713.2 1813.9 L1714.2 1811.8 L1715.2 1809.5 L1716.2 1807 L1717.2 1804.4 L1718.2 1801.6 L1719.2 1798.6 L1720.2 1795.5 L1721.2 1792.1 L1722.2 1788.6 L1723.2 1784.8 L1724.2 1780.8 L1725.2 1776.6 L1726.2 1772.2 L1727.2 1767.6 L1728.2 1762.8 L1729.2 1757.7 L1730.2 1752.5 L1731.2 1747 L1732.2 1741.4 L1733.2 1735.6 L1734.2 1729.6 L1735.2 1723.6 L1736.2 1717.4 L1737.2 1711.2 L1738.2 1704.9 L1739.2 1698.6 L1740.2 1692.4 L1741.2 1686.3 L1742.2 1680.3 L1743.2 1674.5 L1744.2 1669 L1745.2 1663.8 L1746.2 1658.9 L1747.2 1654.4 L1748.2 1650.4 L1749.2 1646.9 L1750.2 1643.9 L1751.2 1641.5 L1752.2 1639.7 L1753.2 1638.5 L1754.2 1638 L1755.2 1638.1 L1756.2 1638.9 L1757.2 1640.3 L1758.2 1642.4 L1759.2 1645 L1760.2 1648.2 L1761.2 1652 L1762.2 1656.2 L1763.2 1660.8 L1764.2 1665.8 L1765.2 1671.2 L1766.2 1676.8 L1767.2 1682.7 L1768.2 1688.7 L1769.2 1694.9 L1770.2 1701.1 L1771.2 1707.4 L1772.2 1713.7 L1773.2 1719.9 L1774.2 1726 L1775.2 1732 L1776.2 1737.9 L1777.2 1743.7 L1778.2 1749.2 L1779.2 1754.6 L1780.2 1759.8 L1781.2 1764.7 L1782.2 1769.5 L1783.2 1774 L1784.2 1778.3 L1785.2 1782.4 L1786.2 1786.3 L1787.2 1790 L1788.2 1793.5 L1789.2 1796.8 L1790.2 1799.8 L1791.2 1802.7 L1792.2 1805.5 L1793.2 1808 L1794.2 1810.4 L1795.2 1812.6 L1796.2 1814.7 L1797.2 1816.7 L1798.2 1818.5 L1799.2 1820.2 L1800.2 1821.7 L1801.2 1823.2 L1802.2 1824.6 L1803.2 1825.8 L1804.2 1827 L1805.2 1828.1 L1806.2 1829.1 L1807.2 1830.1 L1808.2 1830.9 L1809.2 1831.8 L1810.2 1832.5 L1811.2 1833.2 L1812.2 1833.8 L1813.2 1834.4 L1814.2 1835 L1815.2 1835.5 L1816.2 1836 L1817.2 1836.4 L1818.2 1836.8 L1819.2 1837.2 L1820.2 1837.5 L1821.2 1837.9 L1822.2 1838.2 L1823.2 1838.4 L1824.2 1838.7 L1825.2 1838.9 L1826.2 1839.1" fill="none" stroke="#6b9dd4" stroke-width="4.8" stroke-linejoin="round"/>
<path d="M1682.2 1839.2 L1683.2 1839.1 L1684.2 1839 L1685.2 1838.9 L1686.2 1838.7 L1687.2 1838.6 L1688.2 1838.4 L1689.2 1838.2 L1690.2 1838 L1691.2 1837.8 L1692.2 1837.6 L1693.2 1837.3 L1694.2 1837 L1695.2 1836.7 L1696.2 1836.4 L1697.2 1836.1 L1698.2 1835.7 L1699.2 1835.3 L1700.2 1834.9 L1701.2 1834.4 L1702.2 1833.9 L1703.2 1833.4 L1704.2 1832.8 L1705.2 1832.2 L1706.2 1831.5 L1707.2 1830.8 L1708.2 1830 L1709.2 1829.2 L1710.2 1828.3 L1711.2 1827.3 L1712.2 1826.3 L1713.2 1825.1 L1714.2 1824 L1715.2 1822.7 L1716.2 1821.3 L1717.2 1819.9 L1718.2 1818.3 L1719.2 1816.7 L1720.2 1814.9 L1721.2 1813.1 L1722.2 1811.1 L1723.2 1809 L1724.2 1806.8 L1725.2 1804.5 L1726.2 1802 L1727.2 1799.5 L1728.2 1796.8 L1729.2 1794 L1730.2 1791 L1731.2 1788 L1732.2 1784.9 L1733.2 1781.7 L1734.2 1778.4 L1735.2 1775 L1736.2 1771.6 L1737.2 1768.1 L1738.2 1764.6 L1739.2 1761.2 L1740.2 1757.7 L1741.2 1754.3 L1742.2 1751 L1743.2 1747.8 L1744.2 1744.7 L1745.2 1741.8 L1746.2 1739.1 L1747.2 1736.6 L1748.2 1734.4 L1749.2 1732.4 L1750.2 1730.8 L1751.2 1729.4 L1752.2 1728.4 L1753.2 1727.8 L1754.2 1727.5 L1755.2 1727.6 L1756.2 1728 L1757.2 1728.8 L1758.2 1729.9 L1759.2 1731.4 L1760.2 1733.2 L1761.2 1735.2 L1762.2 1737.6 L1763.2 1740.1 L1764.2 1742.9 L1765.2 1745.9 L1766.2 1749 L1767.2 1752.3 L1768.2 1755.7 L1769.2 1759.1 L1770.2 1762.5 L1771.2 1766 L1772.2 1769.5 L1773.2 1772.9 L1774.2 1776.4 L1775.2 1779.7 L1776.2 1783 L1777.2 1786.2 L1778.2 1789.2 L1779.2 1792.2 L1780.2 1795.1 L1781.2 1797.9 L1782.2 1800.5 L1783.2 1803 L1784.2 1805.4 L1785.2 1807.7 L1786.2 1809.8 L1787.2 1811.9 L1788.2 1813.8 L1789.2 1815.6 L1790.2 1817.3 L1791.2 1819 L1792.2 1820.5 L1793.2 1821.9 L1794.2 1823.2 L1795.2 1824.4 L1796.2 1825.6 L1797.2 1826.7 L1798.2 1827.7 L1799.2 1828.6 L1800.2 1829.5 L1801.2 1830.3 L1802.2 1831.1 L1803.2 1831.8 L1804.2 1832.4 L1805.2 1833 L1806.2 1833.6 L1807.2 1834.1 L1808.2 1834.6 L1809.2 1835.1 L1810.2 1835.5 L1811.2 1835.9 L1812.2 1836.2 L1813.2 1836.6 L1814.2 1836.9 L1815.2 1837.1 L1816.2 1837.4 L1817.2 1837.7 L1818.2 1837.9 L1819.2 1838.1 L1820.2 1838.3 L1821.2 1838.5 L1822.2 1838.6 L1823.2 1838.8 L1824.2 1838.9 L1825.2 1839 L1826.2 1839.2" fill="none" stroke="#c4212f" stroke-width="4.8" stroke-linejoin="round"/>
<rect x="1674" y="1628.1" width="161.4" height="221.9" fill="none" stroke="#222" stroke-width="1.6"/>
<text x="1672" y="1843.2" font-size="11.5" fill="#333" text-anchor="end">0</text>
<line x1="1672" y1="1839.2" x2="1674" y2="1839.2" stroke="#333" stroke-width="1"/>
<text x="1672" y="1786.2" font-size="11.5" fill="#333" text-anchor="end">10</text>
<line x1="1672" y1="1782.2" x2="1674" y2="1782.2" stroke="#333" stroke-width="1"/>
<text x="1672" y="1729.2" font-size="11.5" fill="#333" text-anchor="end">20</text>
<line x1="1672" y1="1725.2" x2="1674" y2="1725.2" stroke="#333" stroke-width="1"/>
<text x="1672" y="1672.2" font-size="11.5" fill="#333" text-anchor="end">30</text>
<line x1="1672" y1="1668.2" x2="1674" y2="1668.2" stroke="#333" stroke-width="1"/>
<text x="1685.5" y="1867" font-size="11.5" fill="#333" text-anchor="middle">−1000b</text>
<text x="1755.5" y="1867" font-size="11.5" fill="#333" text-anchor="middle">center</text>
<text x="1828.5" y="1867" font-size="11.5" fill="#333" text-anchor="middle">1000b</text>
<line x1="1679.8" y1="1850" x2="1679.8" y2="1852.5" stroke="#333" stroke-width="1"/>
<line x1="1754.5" y1="1850" x2="1754.5" y2="1852.5" stroke="#333" stroke-width="1"/>
<line x1="1827.7" y1="1850" x2="1827.7" y2="1852.5" stroke="#333" stroke-width="1"/>
<text transform="translate(1644 1753) rotate(-90)" font-size="27.5" text-anchor="middle">ATAC-seq intensity</text>
<line x1="1721.4" y1="1634.3" x2="1790" y2="1634.3" stroke="#333" stroke-width="1.1" stroke-dasharray="4 2.5"/>
<line x1="1723.7" y1="1725.2" x2="1763" y2="1725.2" stroke="#333" stroke-width="1.1" stroke-dasharray="4 2.5"/>
<line x1="1726" y1="1635.5" x2="1726" y2="1663" stroke="#111" stroke-width="1.1"/>
<path d="M1724 1640.5 L1726 1635.5 L1728 1640.5 Z" fill="#111" stroke="none" stroke-width="1"/>
<line x1="1726" y1="1723.7" x2="1726" y2="1700" stroke="#111" stroke-width="1.1"/>
<path d="M1724 1718.7 L1726 1723.7 L1728 1718.7 Z" fill="#111" stroke="none" stroke-width="1"/>
<text x="1709" y="1681" font-size="22" text-anchor="middle">****</text>
<text x="1678" y="1692.8" font-size="22">1.85X</text>
<text x="1842.3" y="1665" font-size="36" font-weight="bold">Sample</text>
<text x="1905" y="1709" font-size="25" text-anchor="middle">D7</text>
<text x="1859" y="1741.4" font-size="26">Kras</text>
<text x="1913.5" y="1733" font-size="15.2">G12D</text>
<text x="1905.8" y="1773.8" font-size="26.7" text-anchor="middle">(Pdx1-Cre)</text>
<text x="1905" y="1828" font-size="25" text-anchor="middle">D7</text>
<text x="1905" y="1860.5" font-size="25" text-anchor="middle">WT</text>
<rect x="1835.8" y="1729.8" width="11.2" height="4.4" fill="#c4212f"/>
<rect x="1835.8" y="1823.1" width="11.2" height="4.4" fill="#6b9dd4"/>
<text x="9" y="1972.5" font-size="43" font-weight="bold">e</text>
<rect x="121" y="2039.5" width="204.7" height="3" fill="#000"/>
<rect x="413.4" y="2039.5" width="208.9" height="3" fill="#000"/>
<text x="336" y="2052" font-size="37" font-weight="bold">WT</text>
<rect x="661.6" y="2042.5" width="81.7" height="3" fill="#000"/>
<rect x="909.8" y="2042.5" width="81.2" height="3" fill="#000"/>
<text x="737" y="2027.8" font-size="36" font-weight="bold">Kras</text>
<text x="843" y="2015.8" font-size="21" font-weight="bold">G12D</text>
<text x="756.7" y="2061" font-size="36.3" font-weight="bold">(TAM)</text>
<rect x="1048.5" y="2039.8" width="118.3" height="3" fill="#000"/>
<rect x="1419.7" y="2039.8" width="126.1" height="3" fill="#000"/>
<text x="1209.2" y="2028" font-size="36" font-weight="bold">Kras</text>
<text x="1313.5" y="2015.8" font-size="21" font-weight="bold">G12D</text>
<text x="1179" y="2060" font-size="36.4" font-weight="bold">(Pdx1-cre)</text>
<text x="181.6" y="2096" font-size="28.7" fill="#27388f" text-anchor="middle">NT</text>
<text x="186.5" y="2124.6" font-size="28.7" fill="#27388f" text-anchor="middle">(normal duct)</text>
<text x="357" y="2096" font-size="28.7" fill="#c1272d" text-anchor="middle">D2</text>
<text x="357.2" y="2124.6" font-size="28.7" fill="#c1272d" text-anchor="middle">(PDLP)</text>
<text x="540.6" y="2096" font-size="28.7" fill="#27388f" text-anchor="middle">D7</text>
<text x="546.3" y="2124.6" font-size="28.7" fill="#27388f" text-anchor="middle">(recovery)</text>
<text x="734.3" y="2096" font-size="28.7" fill="#c1272d" text-anchor="middle">D7</text>
<text x="736.4" y="2124.6" font-size="28.7" fill="#c1272d" text-anchor="middle">(Lock in)</text>
<text x="917" y="2096" font-size="28.7" fill="#a54ea6" text-anchor="middle">PDA</text>
<text x="910.4" y="2124.6" font-size="28.7" fill="#a54ea6" text-anchor="middle">(Cdkn2a loss)</text>
<text x="1107.3" y="2096" font-size="28.7" fill="#27388f" text-anchor="middle">NT</text>
<text x="1104.9" y="2124.6" font-size="28.7" fill="#27388f" text-anchor="middle">(“normal duct”)</text>
<text x="1283.2" y="2096" font-size="28.7" fill="#c1272d" text-anchor="middle">D2</text>
<text x="1289.3" y="2124.6" font-size="28.7" fill="#c1272d" text-anchor="middle">(PDLP-like)</text>
<text x="1463.3" y="2096" font-size="28.7" fill="#c1272d" text-anchor="middle">D7</text>
<text x="1464.2" y="2124.6" font-size="28.7" fill="#c1272d" text-anchor="middle">(Lock in)</text>
<text x="89.5" y="2354.5" font-size="13.5" fill="#333" text-anchor="end">0</text>
<text x="89.5" y="2312.7" font-size="13.5" fill="#333" text-anchor="end">10</text>
<text x="89.5" y="2270.9" font-size="13.5" fill="#333" text-anchor="end">20</text>
<text x="89.5" y="2229.1" font-size="13.5" fill="#333" text-anchor="end">30</text>
<text x="89.5" y="2187.3" font-size="13.5" fill="#333" text-anchor="end">40</text>
<text x="89.5" y="2145.5" font-size="13.5" fill="#333" text-anchor="end">50</text>
<path d="M96 2340.8 L97 2340.9 L98 2341.1 L99 2341.3 L100 2341.4 L101 2341.6 L102 2341.7 L103 2341.8 L104 2341.9 L105 2342 L106 2342 L107 2342 L108 2342 L109 2341.9 L110 2341.7 L111 2341.5 L112 2341.2 L113 2340.9 L114 2340.4 L115 2339.8 L116 2339.1 L117 2338.2 L118 2337.1 L119 2335.7 L120 2333.8 L121 2331.5 L122 2328.5 L123 2324.6 L124 2319.6 L125 2313.3 L126 2305.2 L127 2295.1 L128 2282.8 L129 2267.9 L130 2250.5 L131 2231.2 L132 2210.8 L133 2190.8 L134 2173.2 L135 2160.2 L136 2153.7 L137 2154.6 L138 2162.9 L139 2177.3 L140 2195.8 L141 2216.3 L142 2236.9 L143 2256 L144 2273 L145 2287.5 L146 2299.4 L147 2309 L148 2316.6 L149 2322.5 L150 2327.1 L151 2330.5 L152 2333.1 L153 2335 L154 2336.4 L155 2337.4 L156 2338.2 L157 2338.7 L158 2339 L159 2339.3 L160 2339.5 L161 2339.6 L162 2339.7 L163 2339.7 L164 2339.8 L165 2339.9 L166 2340 L167 2340.1 L168 2340.2 L169 2340.3 L170 2340.5 L171 2340.7 L172 2340.8 L173 2341 L174 2341.2 L175 2341.4 L176 2341.5" fill="none" stroke="#2e2c7e" stroke-width="4.4" stroke-linejoin="round" stroke-linecap="round"/>
<rect x="95" y="2137.7" width="82.5" height="214.3" fill="none" stroke="#111" stroke-width="1.8"/>
<line x1="95" y1="2352" x2="177.5" y2="2352" stroke="#111" stroke-width="2.6"/>
<line x1="92" y1="2349.5" x2="95" y2="2349.5" stroke="#111" stroke-width="1.2"/>
<line x1="92" y1="2307.7" x2="95" y2="2307.7" stroke="#111" stroke-width="1.2"/>
<line x1="92" y1="2265.9" x2="95" y2="2265.9" stroke="#111" stroke-width="1.2"/>
<line x1="92" y1="2224.1" x2="95" y2="2224.1" stroke="#111" stroke-width="1.2"/>
<line x1="92" y1="2182.3" x2="95" y2="2182.3" stroke="#111" stroke-width="1.2"/>
<line x1="92" y1="2140.5" x2="95" y2="2140.5" stroke="#111" stroke-width="1.2"/>
<line x1="136.4" y1="2352" x2="136.4" y2="2356" stroke="#111" stroke-width="1.3"/>
<line x1="95" y1="2352" x2="95" y2="2356" stroke="#111" stroke-width="1.3"/>
<line x1="177.5" y1="2352" x2="177.5" y2="2356" stroke="#111" stroke-width="1.3"/>
<text x="96" y="2365.2" font-size="8.8" fill="#222">-3.0</text>
<text x="136.4" y="2365.2" font-size="8.8" fill="#222" text-anchor="middle">center</text>
<text x="180" y="2365.2" font-size="8.8" fill="#222" text-anchor="end">3.0Kb</text>
<text x="96" y="2716.2" font-size="8.8" fill="#222">-3.0</text>
<text x="136.4" y="2716.2" font-size="8.8" fill="#222" text-anchor="middle">center</text>
<text x="180" y="2716.2" font-size="8.8" fill="#222" text-anchor="end">3.0Kb</text>
<g clip-path="url(#hc0)">
<rect x="95" y="2368.7" width="82.5" height="336.3" fill="url(#hazeG)"/>
<rect x="95" y="2368.7" width="82.5" height="336.3" filter="url(#noiseF)" mask="url(#nmask)" opacity="0.55"/>
<path d="M119.1 2360.7 L121.1 2406.5 L122.9 2454.1 L124.4 2501.6 L125.3 2547.4 L126 2593.2 L126.5 2639 L127.1 2713 L145.7 2713 L146.3 2639 L146.8 2593.2 L147.5 2547.4 L148.4 2501.6 L149.9 2454.1 L151.7 2406.5 L153.7 2360.7 Z" fill="url(#haloG)" opacity="0.8" filter="url(#bl6)"/>
<path d="M126.1 2360.7 L128.1 2406.5 L129.9 2454.1 L131.4 2501.6 L132.3 2547.4 L133 2593.2 L133.5 2639 L134.1 2713 L138.7 2713 L139.3 2639 L139.8 2593.2 L140.5 2547.4 L141.4 2501.6 L142.9 2454.1 L144.7 2406.5 L146.7 2360.7 Z" fill="url(#cg0)" filter="url(#bl2)"/>
</g>
<rect x="95" y="2368.7" width="82.5" height="336.3" fill="none" stroke="#111" stroke-width="1.8"/>
<line x1="136.4" y1="2705" x2="136.4" y2="2709" stroke="#111" stroke-width="1.3"/>
<path d="M185.5 2340.2 L186.5 2340.3 L187.5 2340.4 L188.5 2340.6 L189.5 2340.7 L190.5 2340.9 L191.5 2341 L192.5 2341.2 L193.5 2341.4 L194.5 2341.5 L195.5 2341.6 L196.5 2341.7 L197.5 2341.8 L198.5 2341.8 L199.5 2341.7 L200.5 2341.6 L201.5 2341.5 L202.5 2341.2 L203.5 2340.8 L204.5 2340.3 L205.5 2339.6 L206.5 2338.8 L207.5 2337.6 L208.5 2336.2 L209.5 2334.3 L210.5 2331.8 L211.5 2328.6 L212.5 2324.6 L213.5 2319.3 L214.5 2312.6 L215.5 2304.2 L216.5 2293.6 L217.5 2280.6 L218.5 2265.1 L219.5 2247 L220.5 2226.8 L221.5 2205.5 L222.5 2184.6 L223.5 2166.3 L224.5 2152.8 L225.5 2145.9 L226.5 2146.9 L227.5 2155.4 L228.5 2170.4 L229.5 2189.7 L230.5 2211 L231.5 2232.3 L232.5 2252.3 L233.5 2270 L234.5 2285.2 L235.5 2297.6 L236.5 2307.7 L237.5 2315.7 L238.5 2322 L239.5 2326.8 L240.5 2330.5 L241.5 2333.2 L242.5 2335.3 L243.5 2336.9 L244.5 2338 L245.5 2338.8 L246.5 2339.3 L247.5 2339.7 L248.5 2339.9 L249.5 2340 L250.5 2340.1 L251.5 2340.1 L252.5 2340.1 L253.5 2340.1 L254.5 2340 L255.5 2340 L256.5 2340 L257.5 2340 L258.5 2340 L259.5 2340.1 L260.5 2340.2 L261.5 2340.3 L262.5 2340.4 L263.5 2340.5 L264.5 2340.7 L265.5 2340.8" fill="none" stroke="#2e2c7e" stroke-width="4.4" stroke-linejoin="round" stroke-linecap="round"/>
<rect x="184.5" y="2137.7" width="82.5" height="214.3" fill="none" stroke="#111" stroke-width="1.8"/>
<line x1="184.5" y1="2352" x2="267" y2="2352" stroke="#111" stroke-width="2.6"/>
<line x1="181.5" y1="2349.5" x2="184.5" y2="2349.5" stroke="#111" stroke-width="1.2"/>
<line x1="181.5" y1="2307.7" x2="184.5" y2="2307.7" stroke="#111" stroke-width="1.2"/>
<line x1="181.5" y1="2265.9" x2="184.5" y2="2265.9" stroke="#111" stroke-width="1.2"/>
<line x1="181.5" y1="2224.1" x2="184.5" y2="2224.1" stroke="#111" stroke-width="1.2"/>
<line x1="181.5" y1="2182.3" x2="184.5" y2="2182.3" stroke="#111" stroke-width="1.2"/>
<line x1="181.5" y1="2140.5" x2="184.5" y2="2140.5" stroke="#111" stroke-width="1.2"/>
<line x1="225.9" y1="2352" x2="225.9" y2="2356" stroke="#111" stroke-width="1.3"/>
<line x1="184.5" y1="2352" x2="184.5" y2="2356" stroke="#111" stroke-width="1.3"/>
<line x1="267" y1="2352" x2="267" y2="2356" stroke="#111" stroke-width="1.3"/>
<text x="185.5" y="2365.2" font-size="8.8" fill="#222">-3.0</text>
<text x="225.9" y="2365.2" font-size="8.8" fill="#222" text-anchor="middle">center</text>
<text x="269.5" y="2365.2" font-size="8.8" fill="#222" text-anchor="end">3.0Kb</text>
<text x="185.5" y="2716.2" font-size="8.8" fill="#222">-3.0</text>
<text x="225.9" y="2716.2" font-size="8.8" fill="#222" text-anchor="middle">center</text>
<text x="269.5" y="2716.2" font-size="8.8" fill="#222" text-anchor="end">3.0Kb</text>
<g clip-path="url(#hc1)">
<rect x="184.5" y="2368.7" width="82.5" height="336.3" fill="url(#hazeG)"/>
<rect x="184.5" y="2368.7" width="82.5" height="336.3" filter="url(#noiseF)" mask="url(#nmask)" opacity="0.55"/>
<path d="M208.4 2360.7 L210.5 2406.5 L212.4 2454.1 L213.9 2501.6 L214.8 2547.4 L215.5 2593.2 L216 2639 L216.6 2713 L235.2 2713 L235.8 2639 L236.3 2593.2 L237 2547.4 L237.9 2501.6 L239.4 2454.1 L241.3 2406.5 L243.4 2360.7 Z" fill="url(#haloG)" opacity="0.8" filter="url(#bl6)"/>
<path d="M215.4 2360.7 L217.5 2406.5 L219.4 2454.1 L220.9 2501.6 L221.8 2547.4 L222.5 2593.2 L223 2639 L223.6 2713 L228.2 2713 L228.8 2639 L229.3 2593.2 L230 2547.4 L230.9 2501.6 L232.4 2454.1 L234.3 2406.5 L236.4 2360.7 Z" fill="url(#cg1)" filter="url(#bl2)"/>
</g>
<rect x="184.5" y="2368.7" width="82.5" height="336.3" fill="none" stroke="#111" stroke-width="1.8"/>
<line x1="225.9" y1="2705" x2="225.9" y2="2709" stroke="#111" stroke-width="1.3"/>
<path d="M275 2340.1 L276 2340.1 L277 2340.1 L278 2340.2 L279 2340.2 L280 2340.4 L281 2340.5 L282 2340.6 L283 2340.8 L284 2340.9 L285 2341.1 L286 2341.2 L287 2341.3 L288 2341.5 L289 2341.5 L290 2341.6 L291 2341.6 L292 2341.5 L293 2341.4 L294 2341.2 L295 2340.8 L296 2340.4 L297 2339.7 L298 2338.8 L299 2337.7 L300 2336.2 L301 2334.3 L302 2331.8 L303 2328.7 L304 2324.6 L305 2319.5 L306 2313.2 L307 2305.4 L308 2296.1 L309 2285.3 L310 2273.3 L311 2260.6 L312 2248.2 L313 2237.3 L314 2229.2 L315 2225.1 L316 2225.7 L317 2230.7 L318 2239.6 L319 2251 L320 2263.7 L321 2276.4 L322 2288.2 L323 2298.8 L324 2307.8 L325 2315.3 L326 2321.4 L327 2326.2 L328 2330 L329 2333 L330 2335.2 L331 2336.9 L332 2338.2 L333 2339.2 L334 2339.9 L335 2340.4 L336 2340.7 L337 2340.9 L338 2341 L339 2341 L340 2341 L341 2340.9 L342 2340.8 L343 2340.7 L344 2340.6 L345 2340.5 L346 2340.4 L347 2340.3 L348 2340.2 L349 2340.1 L350 2340.1 L351 2340.1 L352 2340.1 L353 2340.1 L354 2340.2 L355 2340.3" fill="none" stroke="#2e2c7e" stroke-width="4.4" stroke-linejoin="round" stroke-linecap="round"/>
<rect x="274" y="2137.7" width="82.5" height="214.3" fill="none" stroke="#111" stroke-width="1.8"/>
<line x1="274" y1="2352" x2="356.5" y2="2352" stroke="#111" stroke-width="2.6"/>
<line x1="271" y1="2349.5" x2="274" y2="2349.5" stroke="#111" stroke-width="1.2"/>
<line x1="271" y1="2307.7" x2="274" y2="2307.7" stroke="#111" stroke-width="1.2"/>
<line x1="271" y1="2265.9" x2="274" y2="2265.9" stroke="#111" stroke-width="1.2"/>
<line x1="271" y1="2224.1" x2="274" y2="2224.1" stroke="#111" stroke-width="1.2"/>
<line x1="271" y1="2182.3" x2="274" y2="2182.3" stroke="#111" stroke-width="1.2"/>
<line x1="271" y1="2140.5" x2="274" y2="2140.5" stroke="#111" stroke-width="1.2"/>
<line x1="315.4" y1="2352" x2="315.4" y2="2356" stroke="#111" stroke-width="1.3"/>
<line x1="274" y1="2352" x2="274" y2="2356" stroke="#111" stroke-width="1.3"/>
<line x1="356.5" y1="2352" x2="356.5" y2="2356" stroke="#111" stroke-width="1.3"/>
<text x="275" y="2365.2" font-size="8.8" fill="#222">-3.0</text>
<text x="315.4" y="2365.2" font-size="8.8" fill="#222" text-anchor="middle">center</text>
<text x="359" y="2365.2" font-size="8.8" fill="#222" text-anchor="end">3.0Kb</text>
<text x="275" y="2716.2" font-size="8.8" fill="#222">-3.0</text>
<text x="315.4" y="2716.2" font-size="8.8" fill="#222" text-anchor="middle">center</text>
<text x="359" y="2716.2" font-size="8.8" fill="#222" text-anchor="end">3.0Kb</text>
<g clip-path="url(#hc2)">
<rect x="274" y="2368.7" width="82.5" height="336.3" fill="url(#hazeG)"/>
<rect x="274" y="2368.7" width="82.5" height="336.3" filter="url(#noiseF)" mask="url(#nmask)" opacity="0.55"/>
<path d="M299.4 2360.7 L301.1 2406.5 L302.7 2454.1 L304.1 2501.6 L304.8 2547.4 L305.4 2593.2 L305.9 2639 L306.4 2713 L324.4 2713 L324.9 2639 L325.4 2593.2 L326 2547.4 L326.7 2501.6 L328.1 2454.1 L329.7 2406.5 L331.4 2360.7 Z" fill="url(#haloG)" opacity="0.7" filter="url(#bl6)"/>
<path d="M306.4 2360.7 L308.1 2406.5 L309.7 2454.1 L311.1 2501.6 L311.8 2547.4 L312.4 2593.2 L312.9 2639 L313.4 2713 L317.4 2713 L317.9 2639 L318.4 2593.2 L319 2547.4 L319.7 2501.6 L321.1 2454.1 L322.7 2406.5 L324.4 2360.7 Z" fill="url(#cg2)" filter="url(#bl2)"/>
</g>
<rect x="274" y="2368.7" width="82.5" height="336.3" fill="none" stroke="#111" stroke-width="1.8"/>
<line x1="315.4" y1="2705" x2="315.4" y2="2709" stroke="#111" stroke-width="1.3"/>
<path d="M364.3 2342.1 L365.3 2342.2 L366.3 2342.2 L367.3 2342.2 L368.3 2342.1 L369.3 2342 L370.3 2341.9 L371.3 2341.8 L372.3 2341.6 L373.3 2341.5 L374.3 2341.3 L375.3 2341.1 L376.3 2340.9 L377.3 2340.7 L378.3 2340.4 L379.3 2340.2 L380.3 2340 L381.3 2339.7 L382.3 2339.5 L383.3 2339.2 L384.3 2338.8 L385.3 2338.4 L386.3 2337.8 L387.3 2337.2 L388.3 2336.3 L389.3 2335.1 L390.3 2333.5 L391.3 2331.4 L392.3 2328.7 L393.3 2325.2 L394.3 2320.7 L395.3 2314.9 L396.3 2307.8 L397.3 2299.2 L398.3 2289.1 L399.3 2277.9 L400.3 2265.9 L401.3 2254.2 L402.3 2243.8 L403.3 2236.1 L404.3 2232.2 L405.3 2232.6 L406.3 2237.3 L407.3 2245.6 L408.3 2256.3 L409.3 2268.1 L410.3 2279.9 L411.3 2291 L412.3 2300.7 L413.3 2309 L414.3 2315.9 L415.3 2321.3 L416.3 2325.7 L417.3 2329 L418.3 2331.6 L419.3 2333.6 L420.3 2335.2 L421.3 2336.3 L422.3 2337.2 L423.3 2338 L424.3 2338.5 L425.3 2339 L426.3 2339.4 L427.3 2339.7 L428.3 2340 L429.3 2340.3 L430.3 2340.6 L431.3 2340.8 L432.3 2341 L433.3 2341.2 L434.3 2341.4 L435.3 2341.6 L436.3 2341.8 L437.3 2341.9 L438.3 2342 L439.3 2342.1 L440.3 2342.1 L441.3 2342.2 L442.3 2342.2 L443.3 2342.1 L444.3 2342.1" fill="none" stroke="#2e2c7e" stroke-width="4.4" stroke-linejoin="round" stroke-linecap="round"/>
<rect x="363.3" y="2137.7" width="82.5" height="214.3" fill="none" stroke="#111" stroke-width="1.8"/>
<line x1="363.3" y1="2352" x2="445.8" y2="2352" stroke="#111" stroke-width="2.6"/>
<line x1="360.3" y1="2349.5" x2="363.3" y2="2349.5" stroke="#111" stroke-width="1.2"/>
<line x1="360.3" y1="2307.7" x2="363.3" y2="2307.7" stroke="#111" stroke-width="1.2"/>
<line x1="360.3" y1="2265.9" x2="363.3" y2="2265.9" stroke="#111" stroke-width="1.2"/>
<line x1="360.3" y1="2224.1" x2="363.3" y2="2224.1" stroke="#111" stroke-width="1.2"/>
<line x1="360.3" y1="2182.3" x2="363.3" y2="2182.3" stroke="#111" stroke-width="1.2"/>
<line x1="360.3" y1="2140.5" x2="363.3" y2="2140.5" stroke="#111" stroke-width="1.2"/>
<line x1="404.7" y1="2352" x2="404.7" y2="2356" stroke="#111" stroke-width="1.3"/>
<line x1="363.3" y1="2352" x2="363.3" y2="2356" stroke="#111" stroke-width="1.3"/>
<line x1="445.8" y1="2352" x2="445.8" y2="2356" stroke="#111" stroke-width="1.3"/>
<text x="364.3" y="2365.2" font-size="8.8" fill="#222">-3.0</text>
<text x="404.7" y="2365.2" font-size="8.8" fill="#222" text-anchor="middle">center</text>
<text x="448.3" y="2365.2" font-size="8.8" fill="#222" text-anchor="end">3.0Kb</text>
<text x="364.3" y="2716.2" font-size="8.8" fill="#222">-3.0</text>
<text x="404.7" y="2716.2" font-size="8.8" fill="#222" text-anchor="middle">center</text>
<text x="448.3" y="2716.2" font-size="8.8" fill="#222" text-anchor="end">3.0Kb</text>
<g clip-path="url(#hc3)">
<rect x="363.3" y="2368.7" width="82.5" height="336.3" fill="url(#hazeG)"/>
<rect x="363.3" y="2368.7" width="82.5" height="336.3" filter="url(#noiseF)" mask="url(#nmask)" opacity="0.55"/>
<path d="M388.7 2360.7 L390.5 2406.5 L392.1 2454.1 L393.4 2501.6 L394.2 2547.4 L394.8 2593.2 L395.2 2639 L395.7 2713 L413.7 2713 L414.2 2639 L414.6 2593.2 L415.2 2547.4 L416 2501.6 L417.3 2454.1 L418.9 2406.5 L420.7 2360.7 Z" fill="url(#haloG)" opacity="0.7" filter="url(#bl6)"/>
<path d="M395.7 2360.7 L397.5 2406.5 L399.1 2454.1 L400.4 2501.6 L401.2 2547.4 L401.8 2593.2 L402.2 2639 L402.7 2713 L406.7 2713 L407.2 2639 L407.6 2593.2 L408.2 2547.4 L409 2501.6 L410.3 2454.1 L411.9 2406.5 L413.7 2360.7 Z" fill="url(#cg3)" filter="url(#bl2)"/>
</g>
<rect x="363.3" y="2368.7" width="82.5" height="336.3" fill="none" stroke="#111" stroke-width="1.8"/>
<line x1="404.7" y1="2705" x2="404.7" y2="2709" stroke="#111" stroke-width="1.3"/>
<path d="M453.3 2342.1 L454.3 2342.2 L455.3 2342.2 L456.3 2342.1 L457.3 2342.1 L458.3 2342 L459.3 2341.9 L460.3 2341.8 L461.3 2341.6 L462.3 2341.4 L463.3 2341.2 L464.3 2341 L465.3 2340.8 L466.3 2340.6 L467.3 2340.4 L468.3 2340.1 L469.3 2339.8 L470.3 2339.6 L471.3 2339.2 L472.3 2338.9 L473.3 2338.4 L474.3 2337.8 L475.3 2337.1 L476.3 2336.2 L477.3 2335 L478.3 2333.4 L479.3 2331.3 L480.3 2328.6 L481.3 2324.9 L482.3 2320.3 L483.3 2314.2 L484.3 2306.6 L485.3 2297.2 L486.3 2285.9 L487.3 2272.6 L488.3 2257.7 L489.3 2242 L490.3 2226.5 L491.3 2212.9 L492.3 2202.8 L493.3 2197.6 L494.3 2198.2 L495.3 2204.4 L496.3 2215.3 L497.3 2229.3 L498.3 2244.9 L499.3 2260.5 L500.3 2275.1 L501.3 2288 L502.3 2298.9 L503.3 2308 L504.3 2315.2 L505.3 2321 L506.3 2325.5 L507.3 2328.9 L508.3 2331.6 L509.3 2333.6 L510.3 2335.2 L511.3 2336.3 L512.3 2337.3 L513.3 2338 L514.3 2338.6 L515.3 2339.1 L516.3 2339.5 L517.3 2339.8 L518.3 2340.2 L519.3 2340.5 L520.3 2340.7 L521.3 2341 L522.3 2341.2 L523.3 2341.4 L524.3 2341.6 L525.3 2341.8 L526.3 2341.9 L527.3 2342 L528.3 2342.1 L529.3 2342.1 L530.3 2342.2 L531.3 2342.2 L532.3 2342.1 L533.3 2342.1" fill="none" stroke="#2e2c7e" stroke-width="4.4" stroke-linejoin="round" stroke-linecap="round"/>
<rect x="452.3" y="2137.7" width="82.5" height="214.3" fill="none" stroke="#111" stroke-width="1.8"/>
<line x1="452.3" y1="2352" x2="534.8" y2="2352" stroke="#111" stroke-width="2.6"/>
<line x1="449.3" y1="2349.5" x2="452.3" y2="2349.5" stroke="#111" stroke-width="1.2"/>
<line x1="449.3" y1="2307.7" x2="452.3" y2="2307.7" stroke="#111" stroke-width="1.2"/>
<line x1="449.3" y1="2265.9" x2="452.3" y2="2265.9" stroke="#111" stroke-width="1.2"/>
<line x1="449.3" y1="2224.1" x2="452.3" y2="2224.1" stroke="#111" stroke-width="1.2"/>
<line x1="449.3" y1="2182.3" x2="452.3" y2="2182.3" stroke="#111" stroke-width="1.2"/>
<line x1="449.3" y1="2140.5" x2="452.3" y2="2140.5" stroke="#111" stroke-width="1.2"/>
<line x1="493.7" y1="2352" x2="493.7" y2="2356" stroke="#111" stroke-width="1.3"/>
<line x1="452.3" y1="2352" x2="452.3" y2="2356" stroke="#111" stroke-width="1.3"/>
<line x1="534.8" y1="2352" x2="534.8" y2="2356" stroke="#111" stroke-width="1.3"/>
<text x="453.3" y="2365.2" font-size="8.8" fill="#222">-3.0</text>
<text x="493.7" y="2365.2" font-size="8.8" fill="#222" text-anchor="middle">center</text>
<text x="537.3" y="2365.2" font-size="8.8" fill="#222" text-anchor="end">3.0Kb</text>
<text x="453.3" y="2716.2" font-size="8.8" fill="#222">-3.0</text>
<text x="493.7" y="2716.2" font-size="8.8" fill="#222" text-anchor="middle">center</text>
<text x="537.3" y="2716.2" font-size="8.8" fill="#222" text-anchor="end">3.0Kb</text>
<g clip-path="url(#hc4)">
<rect x="452.3" y="2368.7" width="82.5" height="336.3" fill="url(#hazeG)"/>
<rect x="452.3" y="2368.7" width="82.5" height="336.3" filter="url(#noiseF)" mask="url(#nmask)" opacity="0.55"/>
<path d="M477.1 2360.7 L479 2406.5 L480.7 2454.1 L482.1 2501.6 L482.9 2547.4 L483.6 2593.2 L484 2639 L484.6 2713 L502.8 2713 L503.4 2639 L503.8 2593.2 L504.5 2547.4 L505.3 2501.6 L506.7 2454.1 L508.4 2406.5 L510.3 2360.7 Z" fill="url(#haloG)" opacity="0.7" filter="url(#bl6)"/>
<path d="M484.1 2360.7 L486 2406.5 L487.7 2454.1 L489.1 2501.6 L489.9 2547.4 L490.6 2593.2 L491 2639 L491.6 2713 L495.8 2713 L496.4 2639 L496.8 2593.2 L497.5 2547.4 L498.3 2501.6 L499.7 2454.1 L501.4 2406.5 L503.3 2360.7 Z" fill="url(#cg4)" filter="url(#bl2)"/>
</g>
<rect x="452.3" y="2368.7" width="82.5" height="336.3" fill="none" stroke="#111" stroke-width="1.8"/>
<line x1="493.7" y1="2705" x2="493.7" y2="2709" stroke="#111" stroke-width="1.3"/>
<path d="M542.7 2340.8 L543.7 2340.7 L544.7 2340.5 L545.7 2340.4 L546.7 2340.3 L547.7 2340.2 L548.7 2340.1 L549.7 2340.1 L550.7 2340 L551.7 2340 L552.7 2340.1 L553.7 2340.1 L554.7 2340.2 L555.7 2340.2 L556.7 2340.3 L557.7 2340.3 L558.7 2340.4 L559.7 2340.3 L560.7 2340.2 L561.7 2340 L562.7 2339.7 L563.7 2339.3 L564.7 2338.6 L565.7 2337.6 L566.7 2336.2 L567.7 2334.3 L568.7 2331.9 L569.7 2328.6 L570.7 2324.3 L571.7 2318.8 L572.7 2311.8 L573.7 2302.9 L574.7 2292 L575.7 2278.9 L576.7 2263.7 L577.7 2246.7 L578.7 2228.7 L579.7 2211.1 L580.7 2195.5 L581.7 2183.9 L582.7 2178 L583.7 2178.5 L584.7 2185.5 L585.7 2197.7 L586.7 2213.6 L587.7 2231.2 L588.7 2249 L589.7 2265.6 L590.7 2280.3 L591.7 2292.9 L592.7 2303.3 L593.7 2311.8 L594.7 2318.6 L595.7 2324 L596.7 2328.2 L597.7 2331.4 L598.7 2334 L599.7 2335.9 L600.7 2337.5 L601.7 2338.6 L602.7 2339.6 L603.7 2340.2 L604.7 2340.8 L605.7 2341.1 L606.7 2341.4 L607.7 2341.6 L608.7 2341.7 L609.7 2341.7 L610.7 2341.7 L611.7 2341.7 L612.7 2341.6 L613.7 2341.5 L614.7 2341.3 L615.7 2341.2 L616.7 2341 L617.7 2340.9 L618.7 2340.7 L619.7 2340.6 L620.7 2340.4 L621.7 2340.3 L622.7 2340.2" fill="none" stroke="#2e2c7e" stroke-width="4.4" stroke-linejoin="round" stroke-linecap="round"/>
<rect x="541.7" y="2137.7" width="82.5" height="214.3" fill="none" stroke="#111" stroke-width="1.8"/>
<line x1="541.7" y1="2352" x2="624.2" y2="2352" stroke="#111" stroke-width="2.6"/>
<line x1="538.7" y1="2349.5" x2="541.7" y2="2349.5" stroke="#111" stroke-width="1.2"/>
<line x1="538.7" y1="2307.7" x2="541.7" y2="2307.7" stroke="#111" stroke-width="1.2"/>
<line x1="538.7" y1="2265.9" x2="541.7" y2="2265.9" stroke="#111" stroke-width="1.2"/>
<line x1="538.7" y1="2224.1" x2="541.7" y2="2224.1" stroke="#111" stroke-width="1.2"/>
<line x1="538.7" y1="2182.3" x2="541.7" y2="2182.3" stroke="#111" stroke-width="1.2"/>
<line x1="538.7" y1="2140.5" x2="541.7" y2="2140.5" stroke="#111" stroke-width="1.2"/>
<line x1="583.1" y1="2352" x2="583.1" y2="2356" stroke="#111" stroke-width="1.3"/>
<line x1="541.7" y1="2352" x2="541.7" y2="2356" stroke="#111" stroke-width="1.3"/>
<line x1="624.2" y1="2352" x2="624.2" y2="2356" stroke="#111" stroke-width="1.3"/>
<text x="542.7" y="2365.2" font-size="8.8" fill="#222">-3.0</text>
<text x="583.1" y="2365.2" font-size="8.8" fill="#222" text-anchor="middle">center</text>
<text x="626.7" y="2365.2" font-size="8.8" fill="#222" text-anchor="end">3.0Kb</text>
<text x="542.7" y="2716.2" font-size="8.8" fill="#222">-3.0</text>
<text x="583.1" y="2716.2" font-size="8.8" fill="#222" text-anchor="middle">center</text>
<text x="626.7" y="2716.2" font-size="8.8" fill="#222" text-anchor="end">3.0Kb</text>
<g clip-path="url(#hc5)">
<rect x="541.7" y="2368.7" width="82.5" height="336.3" fill="url(#hazeG)"/>
<rect x="541.7" y="2368.7" width="82.5" height="336.3" filter="url(#noiseF)" mask="url(#nmask)" opacity="0.55"/>
<path d="M566.2 2360.7 L568.1 2406.5 L569.9 2454.1 L571.3 2501.6 L572.2 2547.4 L572.9 2593.2 L573.3 2639 L573.9 2713 L592.3 2713 L592.9 2639 L593.3 2593.2 L594 2547.4 L594.9 2501.6 L596.3 2454.1 L598.1 2406.5 L600 2360.7 Z" fill="url(#haloG)" opacity="0.7" filter="url(#bl6)"/>
<path d="M573.2 2360.7 L575.1 2406.5 L576.9 2454.1 L578.3 2501.6 L579.2 2547.4 L579.9 2593.2 L580.3 2639 L580.9 2713 L585.3 2713 L585.9 2639 L586.3 2593.2 L587 2547.4 L587.9 2501.6 L589.3 2454.1 L591.1 2406.5 L593 2360.7 Z" fill="url(#cg5)" filter="url(#bl2)"/>
</g>
<rect x="541.7" y="2368.7" width="82.5" height="336.3" fill="none" stroke="#111" stroke-width="1.8"/>
<line x1="583.1" y1="2705" x2="583.1" y2="2709" stroke="#111" stroke-width="1.3"/>
<path d="M645 2340.5 L646 2340.3 L647 2340.2 L648 2340.2 L649 2340.1 L650 2340.1 L651 2340.1 L652 2340.1 L653 2340.2 L654 2340.2 L655 2340.3 L656 2340.4 L657 2340.6 L658 2340.7 L659 2340.8 L660 2340.9 L661 2340.9 L662 2341 L663 2340.9 L664 2340.8 L665 2340.6 L666 2340.3 L667 2339.8 L668 2339.1 L669 2338.1 L670 2336.8 L671 2335.1 L672 2332.8 L673 2329.8 L674 2325.9 L675 2321 L676 2314.9 L677 2307.4 L678 2298.3 L679 2287.8 L680 2276.1 L681 2263.8 L682 2251.6 L683 2241 L684 2233.1 L685 2229 L686 2229.4 L687 2234.1 L688 2242.6 L689 2253.5 L690 2265.6 L691 2277.8 L692 2289.3 L693 2299.4 L694 2308.1 L695 2315.4 L696 2321.2 L697 2326 L698 2329.7 L699 2332.6 L700 2334.9 L701 2336.7 L702 2338 L703 2339.1 L704 2339.9 L705 2340.5 L706 2340.9 L707 2341.3 L708 2341.5 L709 2341.6 L710 2341.6 L711 2341.6 L712 2341.6 L713 2341.5 L714 2341.4 L715 2341.3 L716 2341.1 L717 2341 L718 2340.8 L719 2340.6 L720 2340.5 L721 2340.4 L722 2340.3 L723 2340.2 L724 2340.1 L725 2340.1" fill="none" stroke="#2e2c7e" stroke-width="4.4" stroke-linejoin="round" stroke-linecap="round"/>
<rect x="644" y="2137.7" width="82.5" height="214.3" fill="none" stroke="#111" stroke-width="1.8"/>
<line x1="644" y1="2352" x2="726.5" y2="2352" stroke="#111" stroke-width="2.6"/>
<line x1="641" y1="2349.5" x2="644" y2="2349.5" stroke="#111" stroke-width="1.2"/>
<line x1="641" y1="2307.7" x2="644" y2="2307.7" stroke="#111" stroke-width="1.2"/>
<line x1="641" y1="2265.9" x2="644" y2="2265.9" stroke="#111" stroke-width="1.2"/>
<line x1="641" y1="2224.1" x2="644" y2="2224.1" stroke="#111" stroke-width="1.2"/>
<line x1="641" y1="2182.3" x2="644" y2="2182.3" stroke="#111" stroke-width="1.2"/>
<line x1="641" y1="2140.5" x2="644" y2="2140.5" stroke="#111" stroke-width="1.2"/>
<line x1="685.4" y1="2352" x2="685.4" y2="2356" stroke="#111" stroke-width="1.3"/>
<line x1="644" y1="2352" x2="644" y2="2356" stroke="#111" stroke-width="1.3"/>
<line x1="726.5" y1="2352" x2="726.5" y2="2356" stroke="#111" stroke-width="1.3"/>
<text x="645" y="2365.2" font-size="8.8" fill="#222">-3.0</text>
<text x="685.4" y="2365.2" font-size="8.8" fill="#222" text-anchor="middle">center</text>
<text x="729" y="2365.2" font-size="8.8" fill="#222" text-anchor="end">3.0Kb</text>
<text x="645" y="2716.2" font-size="8.8" fill="#222">-3.0</text>
<text x="685.4" y="2716.2" font-size="8.8" fill="#222" text-anchor="middle">center</text>
<text x="729" y="2716.2" font-size="8.8" fill="#222" text-anchor="end">3.0Kb</text>
<g clip-path="url(#hc6)">
<rect x="644" y="2368.7" width="82.5" height="336.3" fill="url(#hazeG)"/>
<rect x="644" y="2368.7" width="82.5" height="336.3" filter="url(#noiseF)" mask="url(#nmask)" opacity="0.55"/>
<path d="M669.4 2360.7 L671.1 2406.5 L672.8 2454.1 L674.1 2501.6 L674.9 2547.4 L675.5 2593.2 L675.9 2639 L676.4 2713 L694.4 2713 L694.9 2639 L695.3 2593.2 L695.9 2547.4 L696.7 2501.6 L698 2454.1 L699.7 2406.5 L701.4 2360.7 Z" fill="url(#haloG)" opacity="0.7" filter="url(#bl6)"/>
<path d="M676.4 2360.7 L678.1 2406.5 L679.8 2454.1 L681.1 2501.6 L681.9 2547.4 L682.5 2593.2 L682.9 2639 L683.4 2713 L687.4 2713 L687.9 2639 L688.3 2593.2 L688.9 2547.4 L689.7 2501.6 L691 2454.1 L692.7 2406.5 L694.4 2360.7 Z" fill="url(#cg6)" filter="url(#bl2)"/>
</g>
<rect x="644" y="2368.7" width="82.5" height="336.3" fill="none" stroke="#111" stroke-width="1.8"/>
<line x1="685.4" y1="2705" x2="685.4" y2="2709" stroke="#111" stroke-width="1.3"/>
<path d="M734 2340.3 L735 2340.2 L736 2340.2 L737 2340.1 L738 2340.1 L739 2340.1 L740 2340.1 L741 2340.2 L742 2340.3 L743 2340.4 L744 2340.5 L745 2340.6 L746 2340.7 L747 2340.8 L748 2340.9 L749 2341 L750 2341.1 L751 2341.1 L752 2341 L753 2340.8 L754 2340.6 L755 2340.2 L756 2339.5 L757 2338.7 L758 2337.6 L759 2336 L760 2334 L761 2331.4 L762 2328 L763 2323.6 L764 2318 L765 2311 L766 2302.5 L767 2292.2 L768 2280.3 L769 2267 L770 2252.9 L771 2239.2 L772 2227.1 L773 2218.1 L774 2213.5 L775 2214 L776 2219.4 L777 2229.1 L778 2241.6 L779 2255.4 L780 2269.3 L781 2282.3 L782 2293.9 L783 2303.8 L784 2312 L785 2318.7 L786 2324.1 L787 2328.3 L788 2331.6 L789 2334.1 L790 2336.1 L791 2337.6 L792 2338.8 L793 2339.7 L794 2340.3 L795 2340.8 L796 2341.1 L797 2341.3 L798 2341.4 L799 2341.5 L800 2341.5 L801 2341.4 L802 2341.3 L803 2341.2 L804 2341.1 L805 2340.9 L806 2340.8 L807 2340.6 L808 2340.5 L809 2340.4 L810 2340.3 L811 2340.2 L812 2340.1 L813 2340.1 L814 2340.1" fill="none" stroke="#2e2c7e" stroke-width="4.4" stroke-linejoin="round" stroke-linecap="round"/>
<rect x="733" y="2137.7" width="82.5" height="214.3" fill="none" stroke="#111" stroke-width="1.8"/>
<line x1="733" y1="2352" x2="815.5" y2="2352" stroke="#111" stroke-width="2.6"/>
<line x1="730" y1="2349.5" x2="733" y2="2349.5" stroke="#111" stroke-width="1.2"/>
<line x1="730" y1="2307.7" x2="733" y2="2307.7" stroke="#111" stroke-width="1.2"/>
<line x1="730" y1="2265.9" x2="733" y2="2265.9" stroke="#111" stroke-width="1.2"/>
<line x1="730" y1="2224.1" x2="733" y2="2224.1" stroke="#111" stroke-width="1.2"/>
<line x1="730" y1="2182.3" x2="733" y2="2182.3" stroke="#111" stroke-width="1.2"/>
<line x1="730" y1="2140.5" x2="733" y2="2140.5" stroke="#111" stroke-width="1.2"/>
<line x1="774.4" y1="2352" x2="774.4" y2="2356" stroke="#111" stroke-width="1.3"/>
<line x1="733" y1="2352" x2="733" y2="2356" stroke="#111" stroke-width="1.3"/>
<line x1="815.5" y1="2352" x2="815.5" y2="2356" stroke="#111" stroke-width="1.3"/>
<text x="734" y="2365.2" font-size="8.8" fill="#222">-3.0</text>
<text x="774.4" y="2365.2" font-size="8.8" fill="#222" text-anchor="middle">center</text>
<text x="818" y="2365.2" font-size="8.8" fill="#222" text-anchor="end">3.0Kb</text>
<text x="734" y="2716.2" font-size="8.8" fill="#222">-3.0</text>
<text x="774.4" y="2716.2" font-size="8.8" fill="#222" text-anchor="middle">center</text>
<text x="818" y="2716.2" font-size="8.8" fill="#222" text-anchor="end">3.0Kb</text>
<g clip-path="url(#hc7)">
<rect x="733" y="2368.7" width="82.5" height="336.3" fill="url(#hazeG)"/>
<rect x="733" y="2368.7" width="82.5" height="336.3" filter="url(#noiseF)" mask="url(#nmask)" opacity="0.55"/>
<path d="M758.1 2360.7 L759.9 2406.5 L761.6 2454.1 L763 2501.6 L763.8 2547.4 L764.4 2593.2 L764.8 2639 L765.4 2713 L783.4 2713 L784 2639 L784.4 2593.2 L785 2547.4 L785.8 2501.6 L787.2 2454.1 L788.9 2406.5 L790.7 2360.7 Z" fill="url(#haloG)" opacity="0.7" filter="url(#bl6)"/>
<path d="M765.1 2360.7 L766.9 2406.5 L768.6 2454.1 L770 2501.6 L770.8 2547.4 L771.4 2593.2 L771.8 2639 L772.4 2713 L776.4 2713 L777 2639 L777.4 2593.2 L778 2547.4 L778.8 2501.6 L780.2 2454.1 L781.9 2406.5 L783.7 2360.7 Z" fill="url(#cg7)" filter="url(#bl2)"/>
</g>
<rect x="733" y="2368.7" width="82.5" height="336.3" fill="none" stroke="#111" stroke-width="1.8"/>
<line x1="774.4" y1="2705" x2="774.4" y2="2709" stroke="#111" stroke-width="1.3"/>
<path d="M823.7 2340.9 L824.7 2341.1 L825.7 2341.3 L826.7 2341.4 L827.7 2341.6 L828.7 2341.7 L829.7 2341.9 L830.7 2342 L831.7 2342.1 L832.7 2342.1 L833.7 2342.1 L834.7 2342.1 L835.7 2342.1 L836.7 2342 L837.7 2341.9 L838.7 2341.8 L839.7 2341.6 L840.7 2341.4 L841.7 2341.1 L842.7 2340.8 L843.7 2340.5 L844.7 2340.1 L845.7 2339.6 L846.7 2339 L847.7 2338.4 L848.7 2337.6 L849.7 2336.5 L850.7 2335.3 L851.7 2333.7 L852.7 2331.7 L853.7 2329.2 L854.7 2326 L855.7 2322.2 L856.7 2317.6 L857.7 2312.3 L858.7 2306.3 L859.7 2300 L860.7 2293.8 L861.7 2288.5 L862.7 2284.5 L863.7 2282.6 L864.7 2283 L865.7 2285.7 L866.7 2290.3 L867.7 2296.2 L868.7 2302.7 L869.7 2309.2 L870.7 2315.2 L871.7 2320.5 L872.7 2325 L873.7 2328.7 L874.7 2331.7 L875.7 2334 L876.7 2335.8 L877.7 2337.1 L878.7 2338.1 L879.7 2338.8 L880.7 2339.3 L881.7 2339.6 L882.7 2339.8 L883.7 2339.9 L884.7 2340 L885.7 2340 L886.7 2340 L887.7 2340 L888.7 2340 L889.7 2340 L890.7 2340 L891.7 2340 L892.7 2340.1 L893.7 2340.2 L894.7 2340.3 L895.7 2340.4 L896.7 2340.5 L897.7 2340.7 L898.7 2340.8 L899.7 2341 L900.7 2341.2 L901.7 2341.4 L902.7 2341.5 L903.7 2341.7" fill="none" stroke="#2e2c7e" stroke-width="4.4" stroke-linejoin="round" stroke-linecap="round"/>
<rect x="822.7" y="2137.7" width="82.5" height="214.3" fill="none" stroke="#111" stroke-width="1.8"/>
<line x1="822.7" y1="2352" x2="905.2" y2="2352" stroke="#111" stroke-width="2.6"/>
<line x1="819.7" y1="2349.5" x2="822.7" y2="2349.5" stroke="#111" stroke-width="1.2"/>
<line x1="819.7" y1="2307.7" x2="822.7" y2="2307.7" stroke="#111" stroke-width="1.2"/>
<line x1="819.7" y1="2265.9" x2="822.7" y2="2265.9" stroke="#111" stroke-width="1.2"/>
<line x1="819.7" y1="2224.1" x2="822.7" y2="2224.1" stroke="#111" stroke-width="1.2"/>
<line x1="819.7" y1="2182.3" x2="822.7" y2="2182.3" stroke="#111" stroke-width="1.2"/>
<line x1="819.7" y1="2140.5" x2="822.7" y2="2140.5" stroke="#111" stroke-width="1.2"/>
<line x1="864.1" y1="2352" x2="864.1" y2="2356" stroke="#111" stroke-width="1.3"/>
<line x1="822.7" y1="2352" x2="822.7" y2="2356" stroke="#111" stroke-width="1.3"/>
<line x1="905.2" y1="2352" x2="905.2" y2="2356" stroke="#111" stroke-width="1.3"/>
<text x="823.7" y="2365.2" font-size="8.8" fill="#222">-3.0</text>
<text x="864.1" y="2365.2" font-size="8.8" fill="#222" text-anchor="middle">center</text>
<text x="907.7" y="2365.2" font-size="8.8" fill="#222" text-anchor="end">3.0Kb</text>
<text x="823.7" y="2716.2" font-size="8.8" fill="#222">-3.0</text>
<text x="864.1" y="2716.2" font-size="8.8" fill="#222" text-anchor="middle">center</text>
<text x="907.7" y="2716.2" font-size="8.8" fill="#222" text-anchor="end">3.0Kb</text>
<g clip-path="url(#hc8)">
<rect x="822.7" y="2368.7" width="82.5" height="336.3" fill="url(#hazeG)"/>
<rect x="822.7" y="2368.7" width="82.5" height="336.3" filter="url(#noiseF)" mask="url(#nmask)" opacity="0.55"/>
<path d="M849 2360.7 L850.6 2406.5 L852.1 2454.1 L853.2 2501.6 L853.9 2547.4 L854.5 2593.2 L854.9 2639 L855.3 2713 L872.9 2713 L873.3 2639 L873.7 2593.2 L874.3 2547.4 L875 2501.6 L876.1 2454.1 L877.6 2406.5 L879.2 2360.7 Z" fill="url(#haloG)" opacity="0.6" filter="url(#bl6)"/>
<path d="M856 2360.7 L857.6 2406.5 L859.1 2454.1 L860.2 2501.6 L860.9 2547.4 L861.5 2593.2 L861.9 2639 L862.3 2713 L865.9 2713 L866.3 2639 L866.7 2593.2 L867.3 2547.4 L868 2501.6 L869.1 2454.1 L870.6 2406.5 L872.2 2360.7 Z" fill="url(#cg8)" filter="url(#bl2)"/>
</g>
<rect x="822.7" y="2368.7" width="82.5" height="336.3" fill="none" stroke="#111" stroke-width="1.8"/>
<line x1="864.1" y1="2705" x2="864.1" y2="2709" stroke="#111" stroke-width="1.3"/>
<path d="M913 2340.6 L914 2340.8 L915 2340.9 L916 2341.1 L917 2341.3 L918 2341.4 L919 2341.6 L920 2341.7 L921 2341.9 L922 2342 L923 2342 L924 2342.1 L925 2342.1 L926 2342.1 L927 2342 L928 2341.9 L929 2341.8 L930 2341.6 L931 2341.3 L932 2341.1 L933 2340.7 L934 2340.3 L935 2339.7 L936 2339.1 L937 2338.3 L938 2337.4 L939 2336.2 L940 2334.7 L941 2332.8 L942 2330.5 L943 2327.5 L944 2323.8 L945 2319.3 L946 2313.9 L947 2307.7 L948 2300.7 L949 2293.4 L950 2286.2 L951 2279.9 L952 2275.3 L953 2273.1 L954 2273.5 L955 2276.6 L956 2282 L957 2288.8 L958 2296.3 L959 2303.8 L960 2310.9 L961 2317.1 L962 2322.3 L963 2326.7 L964 2330.2 L965 2332.9 L966 2335 L967 2336.6 L968 2337.8 L969 2338.7 L970 2339.3 L971 2339.7 L972 2339.9 L973 2340.1 L974 2340.2 L975 2340.2 L976 2340.2 L977 2340.1 L978 2340.1 L979 2340.1 L980 2340 L981 2340 L982 2340 L983 2340 L984 2340.1 L985 2340.2 L986 2340.3 L987 2340.4 L988 2340.5 L989 2340.7 L990 2340.9 L991 2341 L992 2341.2 L993 2341.4" fill="none" stroke="#2e2c7e" stroke-width="4.4" stroke-linejoin="round" stroke-linecap="round"/>
<rect x="912" y="2137.7" width="82.5" height="214.3" fill="none" stroke="#111" stroke-width="1.8"/>
<line x1="912" y1="2352" x2="994.5" y2="2352" stroke="#111" stroke-width="2.6"/>
<line x1="909" y1="2349.5" x2="912" y2="2349.5" stroke="#111" stroke-width="1.2"/>
<line x1="909" y1="2307.7" x2="912" y2="2307.7" stroke="#111" stroke-width="1.2"/>
<line x1="909" y1="2265.9" x2="912" y2="2265.9" stroke="#111" stroke-width="1.2"/>
<line x1="909" y1="2224.1" x2="912" y2="2224.1" stroke="#111" stroke-width="1.2"/>
<line x1="909" y1="2182.3" x2="912" y2="2182.3" stroke="#111" stroke-width="1.2"/>
<line x1="909" y1="2140.5" x2="912" y2="2140.5" stroke="#111" stroke-width="1.2"/>
<line x1="953.4" y1="2352" x2="953.4" y2="2356" stroke="#111" stroke-width="1.3"/>
<line x1="912" y1="2352" x2="912" y2="2356" stroke="#111" stroke-width="1.3"/>
<line x1="994.5" y1="2352" x2="994.5" y2="2356" stroke="#111" stroke-width="1.3"/>
<text x="913" y="2365.2" font-size="8.8" fill="#222">-3.0</text>
<text x="953.4" y="2365.2" font-size="8.8" fill="#222" text-anchor="middle">center</text>
<text x="997" y="2365.2" font-size="8.8" fill="#222" text-anchor="end">3.0Kb</text>
<text x="913" y="2716.2" font-size="8.8" fill="#222">-3.0</text>
<text x="953.4" y="2716.2" font-size="8.8" fill="#222" text-anchor="middle">center</text>
<text x="997" y="2716.2" font-size="8.8" fill="#222" text-anchor="end">3.0Kb</text>
<g clip-path="url(#hc9)">
<rect x="912" y="2368.7" width="82.5" height="336.3" fill="url(#hazeG)"/>
<rect x="912" y="2368.7" width="82.5" height="336.3" filter="url(#noiseF)" mask="url(#nmask)" opacity="0.55"/>
<path d="M938.2 2360.7 L939.8 2406.5 L941.3 2454.1 L942.5 2501.6 L943.2 2547.4 L943.7 2593.2 L944.1 2639 L944.6 2713 L962.2 2713 L962.7 2639 L963.1 2593.2 L963.6 2547.4 L964.3 2501.6 L965.5 2454.1 L967 2406.5 L968.6 2360.7 Z" fill="url(#haloG)" opacity="0.6" filter="url(#bl6)"/>
<path d="M945.2 2360.7 L946.8 2406.5 L948.3 2454.1 L949.5 2501.6 L950.2 2547.4 L950.7 2593.2 L951.1 2639 L951.6 2713 L955.2 2713 L955.7 2639 L956.1 2593.2 L956.6 2547.4 L957.3 2501.6 L958.5 2454.1 L960 2406.5 L961.6 2360.7 Z" fill="url(#cg9)" filter="url(#bl2)"/>
</g>
<rect x="912" y="2368.7" width="82.5" height="336.3" fill="none" stroke="#111" stroke-width="1.8"/>
<line x1="953.4" y1="2705" x2="953.4" y2="2709" stroke="#111" stroke-width="1.3"/>
<path d="M1016 2341.4 L1017 2341.6 L1018 2341.7 L1019 2341.9 L1020 2342 L1021 2342.1 L1022 2342.1 L1023 2342.1 L1024 2342.1 L1025 2342.1 L1026 2342 L1027 2341.9 L1028 2341.7 L1029 2341.5 L1030 2341.3 L1031 2341 L1032 2340.7 L1033 2340.3 L1034 2339.8 L1035 2339.3 L1036 2338.6 L1037 2337.8 L1038 2336.8 L1039 2335.5 L1040 2333.9 L1041 2331.8 L1042 2329.1 L1043 2325.6 L1044 2321.1 L1045 2315.4 L1046 2308 L1047 2298.8 L1048 2287.5 L1049 2273.8 L1050 2257.9 L1051 2240 L1052 2221.2 L1053 2202.8 L1054 2186.5 L1055 2174.5 L1056 2168.5 L1057 2169.3 L1058 2176.9 L1059 2190.2 L1060 2207.2 L1061 2226.1 L1062 2245 L1063 2262.6 L1064 2278.2 L1065 2291.4 L1066 2302.4 L1067 2311.1 L1068 2318.1 L1069 2323.4 L1070 2327.6 L1071 2330.7 L1072 2333.1 L1073 2334.8 L1074 2336.1 L1075 2337.1 L1076 2337.8 L1077 2338.3 L1078 2338.7 L1079 2339 L1080 2339.3 L1081 2339.5 L1082 2339.7 L1083 2339.9 L1084 2340 L1085 2340.2 L1086 2340.4 L1087 2340.6 L1088 2340.8 L1089 2341 L1090 2341.2 L1091 2341.3 L1092 2341.5 L1093 2341.7 L1094 2341.8 L1095 2341.9 L1096 2342" fill="none" stroke="#2e2c7e" stroke-width="4.4" stroke-linejoin="round" stroke-linecap="round"/>
<rect x="1015" y="2137.7" width="82.5" height="214.3" fill="none" stroke="#111" stroke-width="1.8"/>
<line x1="1015" y1="2352" x2="1097.5" y2="2352" stroke="#111" stroke-width="2.6"/>
<line x1="1012" y1="2349.5" x2="1015" y2="2349.5" stroke="#111" stroke-width="1.2"/>
<line x1="1012" y1="2307.7" x2="1015" y2="2307.7" stroke="#111" stroke-width="1.2"/>
<line x1="1012" y1="2265.9" x2="1015" y2="2265.9" stroke="#111" stroke-width="1.2"/>
<line x1="1012" y1="2224.1" x2="1015" y2="2224.1" stroke="#111" stroke-width="1.2"/>
<line x1="1012" y1="2182.3" x2="1015" y2="2182.3" stroke="#111" stroke-width="1.2"/>
<line x1="1012" y1="2140.5" x2="1015" y2="2140.5" stroke="#111" stroke-width="1.2"/>
<line x1="1056.4" y1="2352" x2="1056.4" y2="2356" stroke="#111" stroke-width="1.3"/>
<line x1="1015" y1="2352" x2="1015" y2="2356" stroke="#111" stroke-width="1.3"/>
<line x1="1097.5" y1="2352" x2="1097.5" y2="2356" stroke="#111" stroke-width="1.3"/>
<text x="1016" y="2365.2" font-size="8.8" fill="#222">-3.0</text>
<text x="1056.4" y="2365.2" font-size="8.8" fill="#222" text-anchor="middle">center</text>
<text x="1100" y="2365.2" font-size="8.8" fill="#222" text-anchor="end">3.0Kb</text>
<text x="1016" y="2716.2" font-size="8.8" fill="#222">-3.0</text>
<text x="1056.4" y="2716.2" font-size="8.8" fill="#222" text-anchor="middle">center</text>
<text x="1100" y="2716.2" font-size="8.8" fill="#222" text-anchor="end">3.0Kb</text>
<g clip-path="url(#hc10)">
<rect x="1015" y="2368.7" width="82.5" height="336.3" fill="url(#hazeG)"/>
<rect x="1015" y="2368.7" width="82.5" height="336.3" filter="url(#noiseF)" mask="url(#nmask)" opacity="0.55"/>
<path d="M1039.3 2360.7 L1041.3 2406.5 L1043.1 2454.1 L1044.6 2501.6 L1045.4 2547.4 L1046.1 2593.2 L1046.6 2639 L1047.2 2713 L1065.6 2713 L1066.2 2639 L1066.7 2593.2 L1067.4 2547.4 L1068.2 2501.6 L1069.7 2454.1 L1071.5 2406.5 L1073.5 2360.7 Z" fill="url(#haloG)" opacity="0.8" filter="url(#bl6)"/>
<path d="M1046.3 2360.7 L1048.3 2406.5 L1050.1 2454.1 L1051.6 2501.6 L1052.4 2547.4 L1053.1 2593.2 L1053.6 2639 L1054.2 2713 L1058.6 2713 L1059.2 2639 L1059.7 2593.2 L1060.4 2547.4 L1061.2 2501.6 L1062.7 2454.1 L1064.5 2406.5 L1066.5 2360.7 Z" fill="url(#cg10)" filter="url(#bl2)"/>
</g>
<rect x="1015" y="2368.7" width="82.5" height="336.3" fill="none" stroke="#111" stroke-width="1.8"/>
<line x1="1056.4" y1="2705" x2="1056.4" y2="2709" stroke="#111" stroke-width="1.3"/>
<path d="M1105 2342.2 L1106 2342.2 L1107 2342.1 L1108 2342 L1109 2341.9 L1110 2341.8 L1111 2341.7 L1112 2341.5 L1113 2341.3 L1114 2341.1 L1115 2340.9 L1116 2340.7 L1117 2340.5 L1118 2340.3 L1119 2340.1 L1120 2339.8 L1121 2339.6 L1122 2339.3 L1123 2338.9 L1124 2338.5 L1125 2338 L1126 2337.4 L1127 2336.6 L1128 2335.5 L1129 2334 L1130 2332.1 L1131 2329.5 L1132 2326.1 L1133 2321.6 L1134 2315.8 L1135 2308.4 L1136 2299 L1137 2287.4 L1138 2273.4 L1139 2257 L1140 2238.7 L1141 2219.3 L1142 2200.3 L1143 2183.5 L1144 2171 L1145 2164.6 L1146 2165.3 L1147 2172.9 L1148 2186.2 L1149 2203.5 L1150 2222.6 L1151 2241.8 L1152 2259.7 L1153 2275.6 L1154 2289.1 L1155 2300.2 L1156 2309.2 L1157 2316.3 L1158 2321.8 L1159 2326.2 L1160 2329.5 L1161 2332 L1162 2334 L1163 2335.5 L1164 2336.7 L1165 2337.6 L1166 2338.4 L1167 2339 L1168 2339.5 L1169 2340 L1170 2340.3 L1171 2340.7 L1172 2340.9 L1173 2341.2 L1174 2341.4 L1175 2341.6 L1176 2341.8 L1177 2341.9 L1178 2342 L1179 2342.1 L1180 2342.1 L1181 2342.2 L1182 2342.1 L1183 2342.1 L1184 2342 L1185 2341.9" fill="none" stroke="#2e2c7e" stroke-width="4.4" stroke-linejoin="round" stroke-linecap="round"/>
<rect x="1104" y="2137.7" width="82.5" height="214.3" fill="none" stroke="#111" stroke-width="1.8"/>
<line x1="1104" y1="2352" x2="1186.5" y2="2352" stroke="#111" stroke-width="2.6"/>
<line x1="1101" y1="2349.5" x2="1104" y2="2349.5" stroke="#111" stroke-width="1.2"/>
<line x1="1101" y1="2307.7" x2="1104" y2="2307.7" stroke="#111" stroke-width="1.2"/>
<line x1="1101" y1="2265.9" x2="1104" y2="2265.9" stroke="#111" stroke-width="1.2"/>
<line x1="1101" y1="2224.1" x2="1104" y2="2224.1" stroke="#111" stroke-width="1.2"/>
<line x1="1101" y1="2182.3" x2="1104" y2="2182.3" stroke="#111" stroke-width="1.2"/>
<line x1="1101" y1="2140.5" x2="1104" y2="2140.5" stroke="#111" stroke-width="1.2"/>
<line x1="1145.4" y1="2352" x2="1145.4" y2="2356" stroke="#111" stroke-width="1.3"/>
<line x1="1104" y1="2352" x2="1104" y2="2356" stroke="#111" stroke-width="1.3"/>
<line x1="1186.5" y1="2352" x2="1186.5" y2="2356" stroke="#111" stroke-width="1.3"/>
<text x="1105" y="2365.2" font-size="8.8" fill="#222">-3.0</text>
<text x="1145.4" y="2365.2" font-size="8.8" fill="#222" text-anchor="middle">center</text>
<text x="1189" y="2365.2" font-size="8.8" fill="#222" text-anchor="end">3.0Kb</text>
<text x="1105" y="2716.2" font-size="8.8" fill="#222">-3.0</text>
<text x="1145.4" y="2716.2" font-size="8.8" fill="#222" text-anchor="middle">center</text>
<text x="1189" y="2716.2" font-size="8.8" fill="#222" text-anchor="end">3.0Kb</text>
<g clip-path="url(#hc11)">
<rect x="1104" y="2368.7" width="82.5" height="336.3" fill="url(#hazeG)"/>
<rect x="1104" y="2368.7" width="82.5" height="336.3" filter="url(#noiseF)" mask="url(#nmask)" opacity="0.55"/>
<path d="M1128.3 2360.7 L1130.2 2406.5 L1132.1 2454.1 L1133.5 2501.6 L1134.4 2547.4 L1135.1 2593.2 L1135.6 2639 L1136.2 2713 L1154.6 2713 L1155.2 2639 L1155.7 2593.2 L1156.4 2547.4 L1157.3 2501.6 L1158.7 2454.1 L1160.6 2406.5 L1162.5 2360.7 Z" fill="url(#haloG)" opacity="0.8" filter="url(#bl6)"/>
<path d="M1135.3 2360.7 L1137.2 2406.5 L1139.1 2454.1 L1140.5 2501.6 L1141.4 2547.4 L1142.1 2593.2 L1142.6 2639 L1143.2 2713 L1147.6 2713 L1148.2 2639 L1148.7 2593.2 L1149.4 2547.4 L1150.3 2501.6 L1151.7 2454.1 L1153.6 2406.5 L1155.5 2360.7 Z" fill="url(#cg11)" filter="url(#bl2)"/>
</g>
<rect x="1104" y="2368.7" width="82.5" height="336.3" fill="none" stroke="#111" stroke-width="1.8"/>
<line x1="1145.4" y1="2705" x2="1145.4" y2="2709" stroke="#111" stroke-width="1.3"/>
<path d="M1195 2340.1 L1196 2340.1 L1197 2340.1 L1198 2340.1 L1199 2340.2 L1200 2340.2 L1201 2340.3 L1202 2340.4 L1203 2340.6 L1204 2340.7 L1205 2340.9 L1206 2341 L1207 2341.2 L1208 2341.3 L1209 2341.4 L1210 2341.5 L1211 2341.6 L1212 2341.6 L1213 2341.5 L1214 2341.4 L1215 2341.2 L1216 2340.8 L1217 2340.3 L1218 2339.7 L1219 2338.9 L1220 2337.7 L1221 2336.2 L1222 2334.3 L1223 2331.9 L1224 2328.8 L1225 2324.9 L1226 2320 L1227 2314 L1228 2306.9 L1229 2298.6 L1230 2289.4 L1231 2279.7 L1232 2270.2 L1233 2261.9 L1234 2255.7 L1235 2252.6 L1236 2253 L1237 2256.8 L1238 2263.6 L1239 2272.3 L1240 2281.9 L1241 2291.6 L1242 2300.6 L1243 2308.7 L1244 2315.6 L1245 2321.4 L1246 2326 L1247 2329.8 L1248 2332.7 L1249 2335 L1250 2336.8 L1251 2338.1 L1252 2339.1 L1253 2339.9 L1254 2340.5 L1255 2340.9 L1256 2341.1 L1257 2341.3 L1258 2341.3 L1259 2341.3 L1260 2341.3 L1261 2341.2 L1262 2341.1 L1263 2341 L1264 2340.8 L1265 2340.7 L1266 2340.6 L1267 2340.4 L1268 2340.3 L1269 2340.2 L1270 2340.1 L1271 2340.1 L1272 2340.1 L1273 2340.1 L1274 2340.1 L1275 2340.2" fill="none" stroke="#2e2c7e" stroke-width="4.4" stroke-linejoin="round" stroke-linecap="round"/>
<rect x="1194" y="2137.7" width="82.5" height="214.3" fill="none" stroke="#111" stroke-width="1.8"/>
<line x1="1194" y1="2352" x2="1276.5" y2="2352" stroke="#111" stroke-width="2.6"/>
<line x1="1191" y1="2349.5" x2="1194" y2="2349.5" stroke="#111" stroke-width="1.2"/>
<line x1="1191" y1="2307.7" x2="1194" y2="2307.7" stroke="#111" stroke-width="1.2"/>
<line x1="1191" y1="2265.9" x2="1194" y2="2265.9" stroke="#111" stroke-width="1.2"/>
<line x1="1191" y1="2224.1" x2="1194" y2="2224.1" stroke="#111" stroke-width="1.2"/>
<line x1="1191" y1="2182.3" x2="1194" y2="2182.3" stroke="#111" stroke-width="1.2"/>
<line x1="1191" y1="2140.5" x2="1194" y2="2140.5" stroke="#111" stroke-width="1.2"/>
<line x1="1235.4" y1="2352" x2="1235.4" y2="2356" stroke="#111" stroke-width="1.3"/>
<line x1="1194" y1="2352" x2="1194" y2="2356" stroke="#111" stroke-width="1.3"/>
<line x1="1276.5" y1="2352" x2="1276.5" y2="2356" stroke="#111" stroke-width="1.3"/>
<text x="1195" y="2365.2" font-size="8.8" fill="#222">-3.0</text>
<text x="1235.4" y="2365.2" font-size="8.8" fill="#222" text-anchor="middle">center</text>
<text x="1279" y="2365.2" font-size="8.8" fill="#222" text-anchor="end">3.0Kb</text>
<text x="1195" y="2716.2" font-size="8.8" fill="#222">-3.0</text>
<text x="1235.4" y="2716.2" font-size="8.8" fill="#222" text-anchor="middle">center</text>
<text x="1279" y="2716.2" font-size="8.8" fill="#222" text-anchor="end">3.0Kb</text>
<g clip-path="url(#hc12)">
<rect x="1194" y="2368.7" width="82.5" height="336.3" fill="url(#hazeG)"/>
<rect x="1194" y="2368.7" width="82.5" height="336.3" filter="url(#noiseF)" mask="url(#nmask)" opacity="0.55"/>
<path d="M1219.8 2360.7 L1221.5 2406.5 L1223.1 2454.1 L1224.3 2501.6 L1225 2547.4 L1225.6 2593.2 L1226 2639 L1226.5 2713 L1244.3 2713 L1244.8 2639 L1245.2 2593.2 L1245.8 2547.4 L1246.5 2501.6 L1247.7 2454.1 L1249.3 2406.5 L1251 2360.7 Z" fill="url(#haloG)" opacity="0.6" filter="url(#bl6)"/>
<path d="M1226.8 2360.7 L1228.5 2406.5 L1230.1 2454.1 L1231.3 2501.6 L1232 2547.4 L1232.6 2593.2 L1233 2639 L1233.5 2713 L1237.3 2713 L1237.8 2639 L1238.2 2593.2 L1238.8 2547.4 L1239.5 2501.6 L1240.7 2454.1 L1242.3 2406.5 L1244 2360.7 Z" fill="url(#cg12)" filter="url(#bl2)"/>
</g>
<rect x="1194" y="2368.7" width="82.5" height="336.3" fill="none" stroke="#111" stroke-width="1.8"/>
<line x1="1235.4" y1="2705" x2="1235.4" y2="2709" stroke="#111" stroke-width="1.3"/>
<path d="M1284 2340.3 L1285 2340.2 L1286 2340.1 L1287 2340.1 L1288 2340.1 L1289 2340.1 L1290 2340.1 L1291 2340.2 L1292 2340.3 L1293 2340.4 L1294 2340.5 L1295 2340.7 L1296 2340.8 L1297 2341 L1298 2341.1 L1299 2341.2 L1300 2341.3 L1301 2341.3 L1302 2341.3 L1303 2341.2 L1304 2341.1 L1305 2340.8 L1306 2340.4 L1307 2339.8 L1308 2339.1 L1309 2338 L1310 2336.6 L1311 2334.8 L1312 2332.4 L1313 2329.4 L1314 2325.6 L1315 2320.8 L1316 2315 L1317 2308 L1318 2299.9 L1319 2290.9 L1320 2281.4 L1321 2272.1 L1322 2263.9 L1323 2257.8 L1324 2254.7 L1325 2255 L1326 2258.7 L1327 2265.3 L1328 2273.7 L1329 2283.1 L1330 2292.5 L1331 2301.3 L1332 2309.2 L1333 2315.9 L1334 2321.5 L1335 2326.1 L1336 2329.7 L1337 2332.6 L1338 2334.9 L1339 2336.7 L1340 2338 L1341 2339.1 L1342 2339.9 L1343 2340.5 L1344 2340.9 L1345 2341.2 L1346 2341.4 L1347 2341.5 L1348 2341.6 L1349 2341.6 L1350 2341.5 L1351 2341.4 L1352 2341.3 L1353 2341.2 L1354 2341 L1355 2340.9 L1356 2340.7 L1357 2340.6 L1358 2340.4 L1359 2340.3 L1360 2340.2 L1361 2340.2 L1362 2340.1 L1363 2340.1 L1364 2340.1" fill="none" stroke="#2e2c7e" stroke-width="4.4" stroke-linejoin="round" stroke-linecap="round"/>
<rect x="1283" y="2137.7" width="82.5" height="214.3" fill="none" stroke="#111" stroke-width="1.8"/>
<line x1="1283" y1="2352" x2="1365.5" y2="2352" stroke="#111" stroke-width="2.6"/>
<line x1="1280" y1="2349.5" x2="1283" y2="2349.5" stroke="#111" stroke-width="1.2"/>
<line x1="1280" y1="2307.7" x2="1283" y2="2307.7" stroke="#111" stroke-width="1.2"/>
<line x1="1280" y1="2265.9" x2="1283" y2="2265.9" stroke="#111" stroke-width="1.2"/>
<line x1="1280" y1="2224.1" x2="1283" y2="2224.1" stroke="#111" stroke-width="1.2"/>
<line x1="1280" y1="2182.3" x2="1283" y2="2182.3" stroke="#111" stroke-width="1.2"/>
<line x1="1280" y1="2140.5" x2="1283" y2="2140.5" stroke="#111" stroke-width="1.2"/>
<line x1="1324.4" y1="2352" x2="1324.4" y2="2356" stroke="#111" stroke-width="1.3"/>
<line x1="1283" y1="2352" x2="1283" y2="2356" stroke="#111" stroke-width="1.3"/>
<line x1="1365.5" y1="2352" x2="1365.5" y2="2356" stroke="#111" stroke-width="1.3"/>
<text x="1284" y="2365.2" font-size="8.8" fill="#222">-3.0</text>
<text x="1324.4" y="2365.2" font-size="8.8" fill="#222" text-anchor="middle">center</text>
<text x="1368" y="2365.2" font-size="8.8" fill="#222" text-anchor="end">3.0Kb</text>
<text x="1284" y="2716.2" font-size="8.8" fill="#222">-3.0</text>
<text x="1324.4" y="2716.2" font-size="8.8" fill="#222" text-anchor="middle">center</text>
<text x="1368" y="2716.2" font-size="8.8" fill="#222" text-anchor="end">3.0Kb</text>
<g clip-path="url(#hc13)">
<rect x="1283" y="2368.7" width="82.5" height="336.3" fill="url(#hazeG)"/>
<rect x="1283" y="2368.7" width="82.5" height="336.3" filter="url(#noiseF)" mask="url(#nmask)" opacity="0.55"/>
<path d="M1308.9 2360.7 L1310.5 2406.5 L1312.1 2454.1 L1313.3 2501.6 L1314 2547.4 L1314.6 2593.2 L1315 2639 L1315.5 2713 L1333.3 2713 L1333.8 2639 L1334.2 2593.2 L1334.8 2547.4 L1335.5 2501.6 L1336.7 2454.1 L1338.3 2406.5 L1339.9 2360.7 Z" fill="url(#haloG)" opacity="0.6" filter="url(#bl6)"/>
<path d="M1315.9 2360.7 L1317.5 2406.5 L1319.1 2454.1 L1320.3 2501.6 L1321 2547.4 L1321.6 2593.2 L1322 2639 L1322.5 2713 L1326.3 2713 L1326.8 2639 L1327.2 2593.2 L1327.8 2547.4 L1328.5 2501.6 L1329.7 2454.1 L1331.3 2406.5 L1332.9 2360.7 Z" fill="url(#cg13)" filter="url(#bl2)"/>
</g>
<rect x="1283" y="2368.7" width="82.5" height="336.3" fill="none" stroke="#111" stroke-width="1.8"/>
<line x1="1324.4" y1="2705" x2="1324.4" y2="2709" stroke="#111" stroke-width="1.3"/>
<path d="M1374 2341.1 L1375 2341.3 L1376 2341.5 L1377 2341.6 L1378 2341.8 L1379 2341.9 L1380 2342 L1381 2342.1 L1382 2342.1 L1383 2342.1 L1384 2342.1 L1385 2342.1 L1386 2342 L1387 2341.9 L1388 2341.7 L1389 2341.5 L1390 2341.3 L1391 2341 L1392 2340.7 L1393 2340.3 L1394 2339.9 L1395 2339.4 L1396 2338.8 L1397 2338.1 L1398 2337.2 L1399 2336.1 L1400 2334.7 L1401 2333 L1402 2330.7 L1403 2327.9 L1404 2324.3 L1405 2319.7 L1406 2314.2 L1407 2307.5 L1408 2299.7 L1409 2291 L1410 2281.8 L1411 2272.8 L1412 2264.8 L1413 2259 L1414 2256.1 L1415 2256.6 L1416 2260.5 L1417 2267.1 L1418 2275.6 L1419 2284.9 L1420 2294.3 L1421 2303 L1422 2310.7 L1423 2317.2 L1424 2322.6 L1425 2326.9 L1426 2330.2 L1427 2332.8 L1428 2334.8 L1429 2336.3 L1430 2337.3 L1431 2338.1 L1432 2338.7 L1433 2339 L1434 2339.3 L1435 2339.5 L1436 2339.6 L1437 2339.7 L1438 2339.7 L1439 2339.8 L1440 2339.9 L1441 2339.9 L1442 2340 L1443 2340.1 L1444 2340.3 L1445 2340.4 L1446 2340.5 L1447 2340.7 L1448 2340.9 L1449 2341.1 L1450 2341.2 L1451 2341.4 L1452 2341.6 L1453 2341.7 L1454 2341.9" fill="none" stroke="#2e2c7e" stroke-width="4.4" stroke-linejoin="round" stroke-linecap="round"/>
<rect x="1373" y="2137.7" width="82.5" height="214.3" fill="none" stroke="#111" stroke-width="1.8"/>
<line x1="1373" y1="2352" x2="1455.5" y2="2352" stroke="#111" stroke-width="2.6"/>
<line x1="1370" y1="2349.5" x2="1373" y2="2349.5" stroke="#111" stroke-width="1.2"/>
<line x1="1370" y1="2307.7" x2="1373" y2="2307.7" stroke="#111" stroke-width="1.2"/>
<line x1="1370" y1="2265.9" x2="1373" y2="2265.9" stroke="#111" stroke-width="1.2"/>
<line x1="1370" y1="2224.1" x2="1373" y2="2224.1" stroke="#111" stroke-width="1.2"/>
<line x1="1370" y1="2182.3" x2="1373" y2="2182.3" stroke="#111" stroke-width="1.2"/>
<line x1="1370" y1="2140.5" x2="1373" y2="2140.5" stroke="#111" stroke-width="1.2"/>
<line x1="1414.4" y1="2352" x2="1414.4" y2="2356" stroke="#111" stroke-width="1.3"/>
<line x1="1373" y1="2352" x2="1373" y2="2356" stroke="#111" stroke-width="1.3"/>
<line x1="1455.5" y1="2352" x2="1455.5" y2="2356" stroke="#111" stroke-width="1.3"/>
<text x="1374" y="2365.2" font-size="8.8" fill="#222">-3.0</text>
<text x="1414.4" y="2365.2" font-size="8.8" fill="#222" text-anchor="middle">center</text>
<text x="1458" y="2365.2" font-size="8.8" fill="#222" text-anchor="end">3.0Kb</text>
<text x="1374" y="2716.2" font-size="8.8" fill="#222">-3.0</text>
<text x="1414.4" y="2716.2" font-size="8.8" fill="#222" text-anchor="middle">center</text>
<text x="1458" y="2716.2" font-size="8.8" fill="#222" text-anchor="end">3.0Kb</text>
<g clip-path="url(#hc14)">
<rect x="1373" y="2368.7" width="82.5" height="336.3" fill="url(#hazeG)"/>
<rect x="1373" y="2368.7" width="82.5" height="336.3" filter="url(#noiseF)" mask="url(#nmask)" opacity="0.55"/>
<path d="M1398.9 2360.7 L1400.5 2406.5 L1402.1 2454.1 L1403.3 2501.6 L1404 2547.4 L1404.6 2593.2 L1405 2639 L1405.5 2713 L1423.3 2713 L1423.8 2639 L1424.2 2593.2 L1424.8 2547.4 L1425.5 2501.6 L1426.7 2454.1 L1428.3 2406.5 L1429.9 2360.7 Z" fill="url(#haloG)" opacity="0.6" filter="url(#bl6)"/>
<path d="M1405.9 2360.7 L1407.5 2406.5 L1409.1 2454.1 L1410.3 2501.6 L1411 2547.4 L1411.6 2593.2 L1412 2639 L1412.5 2713 L1416.3 2713 L1416.8 2639 L1417.2 2593.2 L1417.8 2547.4 L1418.5 2501.6 L1419.7 2454.1 L1421.3 2406.5 L1422.9 2360.7 Z" fill="url(#cg14)" filter="url(#bl2)"/>
</g>
<rect x="1373" y="2368.7" width="82.5" height="336.3" fill="none" stroke="#111" stroke-width="1.8"/>
<line x1="1414.4" y1="2705" x2="1414.4" y2="2709" stroke="#111" stroke-width="1.3"/>
<path d="M1463 2341.3 L1464 2341.1 L1465 2341 L1466 2340.8 L1467 2340.6 L1468 2340.5 L1469 2340.4 L1470 2340.2 L1471 2340.1 L1472 2340.1 L1473 2340 L1474 2340 L1475 2340 L1476 2340 L1477 2340.1 L1478 2340.1 L1479 2340.2 L1480 2340.2 L1481 2340.2 L1482 2340.2 L1483 2340.1 L1484 2340 L1485 2339.7 L1486 2339.3 L1487 2338.7 L1488 2337.8 L1489 2336.5 L1490 2334.9 L1491 2332.7 L1492 2329.8 L1493 2326.1 L1494 2321.4 L1495 2315.6 L1496 2308.6 L1497 2300.4 L1498 2291.3 L1499 2281.6 L1500 2272.2 L1501 2263.8 L1502 2257.5 L1503 2254.3 L1504 2254.4 L1505 2258 L1506 2264.5 L1507 2272.9 L1508 2282.2 L1509 2291.6 L1510 2300.3 L1511 2308.1 L1512 2314.8 L1513 2320.4 L1514 2324.9 L1515 2328.5 L1516 2331.4 L1517 2333.7 L1518 2335.5 L1519 2336.9 L1520 2338.1 L1521 2339 L1522 2339.7 L1523 2340.3 L1524 2340.7 L1525 2341.1 L1526 2341.4 L1527 2341.6 L1528 2341.8 L1529 2341.9 L1530 2342 L1531 2342 L1532 2342 L1533 2342 L1534 2341.9 L1535 2341.8 L1536 2341.7 L1537 2341.5 L1538 2341.4 L1539 2341.2 L1540 2341 L1541 2340.9 L1542 2340.7 L1543 2340.5" fill="none" stroke="#2e2c7e" stroke-width="4.4" stroke-linejoin="round" stroke-linecap="round"/>
<rect x="1462" y="2137.7" width="82.5" height="214.3" fill="none" stroke="#111" stroke-width="1.8"/>
<line x1="1462" y1="2352" x2="1544.5" y2="2352" stroke="#111" stroke-width="2.6"/>
<line x1="1459" y1="2349.5" x2="1462" y2="2349.5" stroke="#111" stroke-width="1.2"/>
<line x1="1459" y1="2307.7" x2="1462" y2="2307.7" stroke="#111" stroke-width="1.2"/>
<line x1="1459" y1="2265.9" x2="1462" y2="2265.9" stroke="#111" stroke-width="1.2"/>
<line x1="1459" y1="2224.1" x2="1462" y2="2224.1" stroke="#111" stroke-width="1.2"/>
<line x1="1459" y1="2182.3" x2="1462" y2="2182.3" stroke="#111" stroke-width="1.2"/>
<line x1="1459" y1="2140.5" x2="1462" y2="2140.5" stroke="#111" stroke-width="1.2"/>
<line x1="1503.4" y1="2352" x2="1503.4" y2="2356" stroke="#111" stroke-width="1.3"/>
<line x1="1462" y1="2352" x2="1462" y2="2356" stroke="#111" stroke-width="1.3"/>
<line x1="1544.5" y1="2352" x2="1544.5" y2="2356" stroke="#111" stroke-width="1.3"/>
<text x="1463" y="2365.2" font-size="8.8" fill="#222">-3.0</text>
<text x="1503.4" y="2365.2" font-size="8.8" fill="#222" text-anchor="middle">center</text>
<text x="1547" y="2365.2" font-size="8.8" fill="#222" text-anchor="end">3.0Kb</text>
<text x="1463" y="2716.2" font-size="8.8" fill="#222">-3.0</text>
<text x="1503.4" y="2716.2" font-size="8.8" fill="#222" text-anchor="middle">center</text>
<text x="1547" y="2716.2" font-size="8.8" fill="#222" text-anchor="end">3.0Kb</text>
<g clip-path="url(#hc15)">
<rect x="1462" y="2368.7" width="82.5" height="336.3" fill="url(#hazeG)"/>
<rect x="1462" y="2368.7" width="82.5" height="336.3" filter="url(#noiseF)" mask="url(#nmask)" opacity="0.55"/>
<path d="M1487.9 2360.7 L1489.5 2406.5 L1491.1 2454.1 L1492.3 2501.6 L1493 2547.4 L1493.6 2593.2 L1494 2639 L1494.5 2713 L1512.3 2713 L1512.8 2639 L1513.2 2593.2 L1513.8 2547.4 L1514.5 2501.6 L1515.7 2454.1 L1517.3 2406.5 L1518.9 2360.7 Z" fill="url(#haloG)" opacity="0.6" filter="url(#bl6)"/>
<path d="M1494.9 2360.7 L1496.5 2406.5 L1498.1 2454.1 L1499.3 2501.6 L1500 2547.4 L1500.6 2593.2 L1501 2639 L1501.5 2713 L1505.3 2713 L1505.8 2639 L1506.2 2593.2 L1506.8 2547.4 L1507.5 2501.6 L1508.7 2454.1 L1510.3 2406.5 L1511.9 2360.7 Z" fill="url(#cg15)" filter="url(#bl2)"/>
</g>
<rect x="1462" y="2368.7" width="82.5" height="336.3" fill="none" stroke="#111" stroke-width="1.8"/>
<line x1="1503.4" y1="2705" x2="1503.4" y2="2709" stroke="#111" stroke-width="1.3"/>
<rect x="1565.3" y="2368.6" width="4.9" height="334.4" fill="url(#cbar)" stroke="#222" stroke-width="1"/>
<text x="1574" y="2383.2" font-size="10.5" fill="#333">50</text>
<line x1="1570.2" y1="2379.4" x2="1572.5" y2="2379.4" stroke="#333" stroke-width="1"/>
<text x="1574" y="2447.2" font-size="10.5" fill="#333">40</text>
<line x1="1570.2" y1="2443.4" x2="1572.5" y2="2443.4" stroke="#333" stroke-width="1"/>
<text x="1574" y="2511.2" font-size="10.5" fill="#333">30</text>
<line x1="1570.2" y1="2507.4" x2="1572.5" y2="2507.4" stroke="#333" stroke-width="1"/>
<text x="1574" y="2575.3" font-size="10.5" fill="#333">20</text>
<line x1="1570.2" y1="2571.5" x2="1572.5" y2="2571.5" stroke="#333" stroke-width="1"/>
<text x="1574" y="2639.3" font-size="10.5" fill="#333">10</text>
<line x1="1570.2" y1="2635.5" x2="1572.5" y2="2635.5" stroke="#333" stroke-width="1"/>
<text x="1574" y="2703.3" font-size="10.5" fill="#333">0</text>
<line x1="1570.2" y1="2699.5" x2="1572.5" y2="2699.5" stroke="#333" stroke-width="1"/>
<text transform="translate(72 2581) rotate(-90)" font-size="36" font-weight="bold" text-anchor="start">K-LOCKED</text>
<text transform="translate(60.3 2389.5) rotate(-90)" font-size="21" font-weight="bold" text-anchor="start">CLOSED</text>
</svg>
</body></html>
